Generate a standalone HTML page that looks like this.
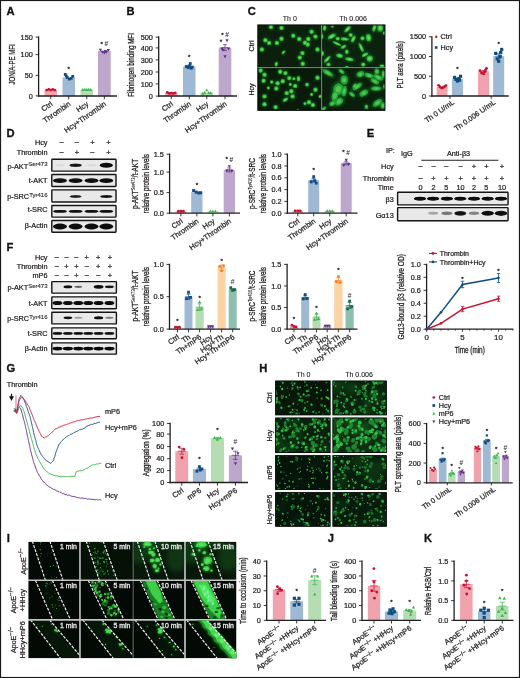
<!DOCTYPE html>
<html lang="en"><head><meta charset="utf-8"><title>Figure</title>
<style>
html,body{margin:0;padding:0;background:#fff;}
body{width:520px;height:678px;overflow:hidden;}
svg{display:block;font-family:"Liberation Sans",sans-serif;}
</style></head><body>
<svg width="520" height="678" viewBox="0 0 520 678">
<defs>
<filter id="b1" x="-20%" y="-50%" width="140%" height="200%"><feGaussianBlur stdDeviation="0.7"/></filter>
<filter id="b05" x="-20%" y="-20%" width="140%" height="140%"><feGaussianBlur stdDeviation="0.45"/></filter>
<filter id="b2" x="-20%" y="-20%" width="140%" height="140%"><feGaussianBlur stdDeviation="1.2"/></filter>
<filter id="b3" x="-20%" y="-20%" width="140%" height="140%"><feGaussianBlur stdDeviation="2.5"/></filter>
</defs>
<rect x="0" y="0" width="520" height="678" fill="#ffffff"/>

<text transform="translate(6.40,15.10)" font-size="11.2" text-anchor="start" font-weight="bold" fill="#111" stroke="#111" stroke-width="0.3" >A</text>
<text transform="translate(126.40,15.10)" font-size="11.2" text-anchor="start" font-weight="bold" fill="#111" stroke="#111" stroke-width="0.3" >B</text>
<text transform="translate(247.70,15.10)" font-size="11.2" text-anchor="start" font-weight="bold" fill="#111" stroke="#111" stroke-width="0.3" >C</text>
<text transform="translate(6.40,137.10)" font-size="11.2" text-anchor="start" font-weight="bold" fill="#111" stroke="#111" stroke-width="0.3" >D</text>
<text transform="translate(366.70,137.10)" font-size="11.2" text-anchor="start" font-weight="bold" fill="#111" stroke="#111" stroke-width="0.3" >E</text>
<text transform="translate(6.40,250.90)" font-size="11.2" text-anchor="start" font-weight="bold" fill="#111" stroke="#111" stroke-width="0.3" >F</text>
<text transform="translate(6.40,371.70)" font-size="11.2" text-anchor="start" font-weight="bold" fill="#111" stroke="#111" stroke-width="0.3" >G</text>
<text transform="translate(259.20,372.20)" font-size="11.2" text-anchor="start" font-weight="bold" fill="#111" stroke="#111" stroke-width="0.3" >H</text>
<text transform="translate(6.80,541.80)" font-size="11.2" text-anchor="start" font-weight="bold" fill="#111" stroke="#111" stroke-width="0.3" >I</text>
<text transform="translate(327.70,541.90)" font-size="11.2" text-anchor="start" font-weight="bold" fill="#111" stroke="#111" stroke-width="0.3" >J</text>
<text transform="translate(424.00,541.90)" font-size="11.2" text-anchor="start" font-weight="bold" fill="#111" stroke="#111" stroke-width="0.3" >K</text>
<rect x="44.50" y="89.71" width="12.50" height="6.29" fill="#f0a3ad" />
<rect x="62.50" y="77.51" width="12.50" height="18.49" fill="#9fb9d4" />
<rect x="80.50" y="89.71" width="12.50" height="6.29" fill="#b5ddb3" />
<rect x="98.00" y="51.16" width="12.70" height="44.84" fill="#bda7cc" />
<line x1="38.60" y1="36.35" x2="38.60" y2="96.65" stroke="#231f20" stroke-width="1.3" />
<line x1="37.95" y1="96.00" x2="117.00" y2="96.00" stroke="#231f20" stroke-width="1.3" />
<line x1="35.60" y1="37.10" x2="38.60" y2="37.10" stroke="#231f20" stroke-width="0.9" />
<text transform="translate(32.80,39.73)" font-size="7.3" text-anchor="end" font-weight="normal" fill="#231f20" stroke="#231f20" stroke-width="0.24" >150</text>
<line x1="35.60" y1="54.60" x2="38.60" y2="54.60" stroke="#231f20" stroke-width="0.9" />
<text transform="translate(32.80,57.23)" font-size="7.3" text-anchor="end" font-weight="normal" fill="#231f20" stroke="#231f20" stroke-width="0.24" >100</text>
<line x1="35.60" y1="75.40" x2="38.60" y2="75.40" stroke="#231f20" stroke-width="0.9" />
<text transform="translate(32.80,78.03)" font-size="7.3" text-anchor="end" font-weight="normal" fill="#231f20" stroke="#231f20" stroke-width="0.24" >50</text>
<line x1="35.60" y1="95.90" x2="38.60" y2="95.90" stroke="#231f20" stroke-width="0.9" />
<text transform="translate(32.80,98.53)" font-size="7.3" text-anchor="end" font-weight="normal" fill="#231f20" stroke="#231f20" stroke-width="0.24" >0</text>
<line x1="50.75" y1="96.00" x2="50.75" y2="99.20" stroke="#231f20" stroke-width="0.9" />
<circle cx="46.75" cy="90.10" r="1.4" fill="#c8102e"/>
<circle cx="48.75" cy="89.31" r="1.4" fill="#c8102e"/>
<circle cx="50.75" cy="90.10" r="1.4" fill="#c8102e"/>
<circle cx="52.75" cy="89.31" r="1.4" fill="#c8102e"/>
<circle cx="54.75" cy="90.10" r="1.4" fill="#c8102e"/>
<line x1="68.75" y1="96.00" x2="68.75" y2="99.20" stroke="#231f20" stroke-width="0.9" />
<rect x="63.85" y="72.97" width="2.8" height="2.8" fill="#0f4c81"/>
<rect x="65.85" y="76.11" width="2.8" height="2.8" fill="#0f4c81"/>
<rect x="67.85" y="77.69" width="2.8" height="2.8" fill="#0f4c81"/>
<rect x="69.85" y="76.90" width="2.8" height="2.8" fill="#0f4c81"/>
<rect x="71.35" y="74.93" width="2.8" height="2.8" fill="#0f4c81"/>
<rect x="64.85" y="74.54" width="2.8" height="2.8" fill="#0f4c81"/>
<text transform="translate(68.75,71.25)" font-size="6.2" text-anchor="middle" font-weight="normal" fill="#2a2a2a" stroke="#2a2a2a" stroke-width="0.3" >*</text>
<line x1="86.75" y1="96.00" x2="86.75" y2="99.20" stroke="#231f20" stroke-width="0.9" />
<polygon points="82.75,88.03 81.14,90.97 84.36,90.97" fill="#3bb54a"/>
<polygon points="84.75,87.63 83.14,90.57 86.36,90.57" fill="#3bb54a"/>
<polygon points="86.75,88.03 85.14,90.97 88.36,90.97" fill="#3bb54a"/>
<polygon points="88.75,87.63 87.14,90.57 90.36,90.57" fill="#3bb54a"/>
<polygon points="90.75,88.03 89.14,90.97 92.36,90.97" fill="#3bb54a"/>
<line x1="104.35" y1="96.00" x2="104.35" y2="99.20" stroke="#231f20" stroke-width="0.9" />
<polygon points="100.35,51.66 98.74,48.72 101.96,48.72" fill="#5c2d82"/>
<polygon points="102.35,53.63 100.74,50.69 103.96,50.69" fill="#5c2d82"/>
<polygon points="104.35,54.41 102.74,51.47 105.96,51.47" fill="#5c2d82"/>
<polygon points="106.35,53.63 104.74,50.69 107.96,50.69" fill="#5c2d82"/>
<polygon points="108.35,52.05 106.74,49.11 109.96,49.11" fill="#5c2d82"/>
<polygon points="105.35,52.84 103.74,49.90 106.96,49.90" fill="#5c2d82"/>
<text transform="translate(104.35,44.88)" font-size="7.0" text-anchor="middle" font-weight="normal" fill="#2a2a2a" stroke="#2a2a2a" stroke-width="0.05" ><tspan dy="1.2" font-size="6.2" stroke-width="0.3">*</tspan><tspan dy="0.2" dx="1.6" font-size="6.6">#</tspan></text>
<text transform="translate(53.15,105.10) rotate(-35)" font-size="7.5" text-anchor="end" font-weight="normal" fill="#231f20" stroke="#231f20" stroke-width="0.24" >Ctrl</text>
<text transform="translate(71.15,105.10) rotate(-35)" font-size="7.5" text-anchor="end" font-weight="normal" fill="#231f20" stroke="#231f20" stroke-width="0.24" >Thrombin</text>
<text transform="translate(89.15,105.10) rotate(-35)" font-size="7.5" text-anchor="end" font-weight="normal" fill="#231f20" stroke="#231f20" stroke-width="0.24" >Hcy</text>
<text transform="translate(106.75,105.10) rotate(-35)" font-size="7.5" text-anchor="end" font-weight="normal" fill="#231f20" stroke="#231f20" stroke-width="0.24" >Hcy+Thrombin</text>
<text transform="translate(14.50,64.40) rotate(-90) scale(0.719,1)" font-size="8.5" text-anchor="middle" font-weight="normal" fill="#231f20" stroke="#231f20" stroke-width="0.3" >JON/A-PE MFI</text>
<rect x="165.00" y="93.05" width="12.50" height="2.95" fill="#f0a3ad" />
<rect x="183.00" y="66.50" width="12.50" height="29.50" fill="#9fb9d4" />
<rect x="200.50" y="92.70" width="12.50" height="3.30" fill="#b5ddb3" />
<rect x="218.70" y="47.62" width="12.60" height="48.38" fill="#bda7cc" />
<line x1="158.70" y1="36.35" x2="158.70" y2="96.65" stroke="#231f20" stroke-width="1.3" />
<line x1="158.05" y1="96.00" x2="237.00" y2="96.00" stroke="#231f20" stroke-width="1.3" />
<line x1="155.70" y1="37.20" x2="158.70" y2="37.20" stroke="#231f20" stroke-width="0.9" />
<text transform="translate(152.90,39.83)" font-size="7.3" text-anchor="end" font-weight="normal" fill="#231f20" stroke="#231f20" stroke-width="0.24" >500</text>
<line x1="155.70" y1="47.90" x2="158.70" y2="47.90" stroke="#231f20" stroke-width="0.9" />
<text transform="translate(152.90,50.53)" font-size="7.3" text-anchor="end" font-weight="normal" fill="#231f20" stroke="#231f20" stroke-width="0.24" >400</text>
<line x1="155.70" y1="59.90" x2="158.70" y2="59.90" stroke="#231f20" stroke-width="0.9" />
<text transform="translate(152.90,62.53)" font-size="7.3" text-anchor="end" font-weight="normal" fill="#231f20" stroke="#231f20" stroke-width="0.24" >300</text>
<line x1="155.70" y1="72.00" x2="158.70" y2="72.00" stroke="#231f20" stroke-width="0.9" />
<text transform="translate(152.90,74.63)" font-size="7.3" text-anchor="end" font-weight="normal" fill="#231f20" stroke="#231f20" stroke-width="0.24" >200</text>
<line x1="155.70" y1="83.90" x2="158.70" y2="83.90" stroke="#231f20" stroke-width="0.9" />
<text transform="translate(152.90,86.53)" font-size="7.3" text-anchor="end" font-weight="normal" fill="#231f20" stroke="#231f20" stroke-width="0.24" >100</text>
<line x1="155.70" y1="96.10" x2="158.70" y2="96.10" stroke="#231f20" stroke-width="0.9" />
<text transform="translate(152.90,98.73)" font-size="7.3" text-anchor="end" font-weight="normal" fill="#231f20" stroke="#231f20" stroke-width="0.24" >0</text>
<line x1="171.25" y1="96.00" x2="171.25" y2="99.20" stroke="#231f20" stroke-width="0.9" />
<circle cx="167.25" cy="92.46" r="1.4" fill="#c8102e"/>
<circle cx="169.25" cy="93.40" r="1.4" fill="#c8102e"/>
<circle cx="171.25" cy="93.17" r="1.4" fill="#c8102e"/>
<circle cx="173.25" cy="93.40" r="1.4" fill="#c8102e"/>
<circle cx="175.25" cy="92.93" r="1.4" fill="#c8102e"/>
<line x1="189.25" y1="96.00" x2="189.25" y2="99.20" stroke="#231f20" stroke-width="0.9" />
<line x1="189.25" y1="65.32" x2="189.25" y2="67.68" stroke="#0f4c81" stroke-width="0.7" />
<line x1="187.25" y1="65.32" x2="191.25" y2="65.32" stroke="#0f4c81" stroke-width="0.7" />
<line x1="187.25" y1="67.68" x2="191.25" y2="67.68" stroke="#0f4c81" stroke-width="0.7" />
<line x1="186.05" y1="66.50" x2="192.45" y2="66.50" stroke="#0f4c81" stroke-width="0.7" />
<rect x="184.85" y="65.10" width="2.8" height="2.8" fill="#0f4c81"/>
<rect x="186.85" y="66.28" width="2.8" height="2.8" fill="#0f4c81"/>
<rect x="188.85" y="62.15" width="2.8" height="2.8" fill="#0f4c81"/>
<rect x="190.85" y="65.69" width="2.8" height="2.8" fill="#0f4c81"/>
<rect x="187.85" y="64.51" width="2.8" height="2.8" fill="#0f4c81"/>
<rect x="189.85" y="66.87" width="2.8" height="2.8" fill="#0f4c81"/>
<text transform="translate(189.25,59.06)" font-size="6.2" text-anchor="middle" font-weight="normal" fill="#2a2a2a" stroke="#2a2a2a" stroke-width="0.3" >*</text>
<line x1="206.75" y1="96.00" x2="206.75" y2="99.20" stroke="#231f20" stroke-width="0.9" />
<polygon points="202.75,91.72 201.14,94.66 204.36,94.66" fill="#3bb54a"/>
<polygon points="204.75,90.78 203.14,93.72 206.36,93.72" fill="#3bb54a"/>
<polygon points="206.75,88.42 205.14,91.36 208.36,91.36" fill="#3bb54a"/>
<polygon points="208.75,91.02 207.14,93.96 210.36,93.96" fill="#3bb54a"/>
<polygon points="210.75,91.25 209.14,94.19 212.36,94.19" fill="#3bb54a"/>
<line x1="225.00" y1="96.00" x2="225.00" y2="99.20" stroke="#231f20" stroke-width="0.9" />
<line x1="225.00" y1="44.67" x2="225.00" y2="50.57" stroke="#5c2d82" stroke-width="0.7" />
<line x1="223.00" y1="44.67" x2="227.00" y2="44.67" stroke="#5c2d82" stroke-width="0.7" />
<line x1="223.00" y1="50.57" x2="227.00" y2="50.57" stroke="#5c2d82" stroke-width="0.7" />
<line x1="221.80" y1="47.62" x2="228.20" y2="47.62" stroke="#5c2d82" stroke-width="0.7" />
<polygon points="221.00,42.81 219.39,39.87 222.61,39.87" fill="#5c2d82"/>
<polygon points="223.00,51.66 221.39,48.72 224.61,48.72" fill="#5c2d82"/>
<polygon points="225.00,58.15 223.39,55.21 226.61,55.21" fill="#5c2d82"/>
<polygon points="227.00,42.22 225.39,39.28 228.61,39.28" fill="#5c2d82"/>
<polygon points="228.50,50.48 226.89,47.54 230.11,47.54" fill="#5c2d82"/>
<polygon points="222.00,50.48 220.39,47.54 223.61,47.54" fill="#5c2d82"/>
<text transform="translate(225.00,35.44)" font-size="7.0" text-anchor="middle" font-weight="normal" fill="#2a2a2a" stroke="#2a2a2a" stroke-width="0.05" ><tspan dy="1.2" font-size="6.2" stroke-width="0.3">*</tspan><tspan dy="0.2" dx="1.6" font-size="6.6">#</tspan></text>
<text transform="translate(173.65,105.10) rotate(-35)" font-size="7.5" text-anchor="end" font-weight="normal" fill="#231f20" stroke="#231f20" stroke-width="0.24" >Ctrl</text>
<text transform="translate(191.65,105.10) rotate(-35)" font-size="7.5" text-anchor="end" font-weight="normal" fill="#231f20" stroke="#231f20" stroke-width="0.24" >Thrombin</text>
<text transform="translate(209.15,105.10) rotate(-35)" font-size="7.5" text-anchor="end" font-weight="normal" fill="#231f20" stroke="#231f20" stroke-width="0.24" >Hcy</text>
<text transform="translate(227.40,105.10) rotate(-35)" font-size="7.5" text-anchor="end" font-weight="normal" fill="#231f20" stroke="#231f20" stroke-width="0.24" >Hcy+Thrombin</text>
<text transform="translate(133.80,64.95) rotate(-90) scale(0.735,1)" font-size="8.5" text-anchor="middle" font-weight="normal" fill="#231f20" stroke="#231f20" stroke-width="0.3" >Fibrinogen binding MFI</text>
<rect x="436.70" y="86.73" width="10.80" height="9.27" fill="#f0a3ad" />
<rect x="452.00" y="79.03" width="11.00" height="16.97" fill="#9fb9d4" />
<rect x="478.00" y="71.53" width="11.00" height="24.47" fill="#f0a3ad" />
<rect x="493.20" y="56.14" width="11.00" height="39.86" fill="#9fb9d4" />
<line x1="431.90" y1="36.15" x2="431.90" y2="96.65" stroke="#231f20" stroke-width="1.3" />
<line x1="431.25" y1="96.00" x2="508.70" y2="96.00" stroke="#231f20" stroke-width="1.3" />
<line x1="428.90" y1="36.80" x2="431.90" y2="36.80" stroke="#231f20" stroke-width="0.9" />
<text transform="translate(426.10,39.43)" font-size="7.3" text-anchor="end" font-weight="normal" fill="#231f20" stroke="#231f20" stroke-width="0.24" >1500</text>
<line x1="428.90" y1="56.53" x2="431.90" y2="56.53" stroke="#231f20" stroke-width="0.9" />
<text transform="translate(426.10,59.16)" font-size="7.3" text-anchor="end" font-weight="normal" fill="#231f20" stroke="#231f20" stroke-width="0.24" >1000</text>
<line x1="428.90" y1="76.27" x2="431.90" y2="76.27" stroke="#231f20" stroke-width="0.9" />
<text transform="translate(426.10,78.89)" font-size="7.3" text-anchor="end" font-weight="normal" fill="#231f20" stroke="#231f20" stroke-width="0.24" >500</text>
<line x1="428.90" y1="96.00" x2="431.90" y2="96.00" stroke="#231f20" stroke-width="0.9" />
<text transform="translate(426.10,98.63)" font-size="7.3" text-anchor="end" font-weight="normal" fill="#231f20" stroke="#231f20" stroke-width="0.24" >0</text>
<circle cx="438.60" cy="85.34" r="1.4" fill="#c8102e"/>
<circle cx="440.10" cy="86.92" r="1.4" fill="#c8102e"/>
<circle cx="441.60" cy="88.11" r="1.4" fill="#c8102e"/>
<circle cx="443.10" cy="87.51" r="1.4" fill="#c8102e"/>
<circle cx="444.60" cy="86.53" r="1.4" fill="#c8102e"/>
<circle cx="445.90" cy="85.54" r="1.4" fill="#c8102e"/>
<line x1="457.50" y1="78.04" x2="457.50" y2="80.02" stroke="#0f4c81" stroke-width="0.7" />
<line x1="455.50" y1="78.04" x2="459.50" y2="78.04" stroke="#0f4c81" stroke-width="0.7" />
<line x1="455.50" y1="80.02" x2="459.50" y2="80.02" stroke="#0f4c81" stroke-width="0.7" />
<line x1="454.30" y1="79.03" x2="460.70" y2="79.03" stroke="#0f4c81" stroke-width="0.7" />
<rect x="452.90" y="75.85" width="3.2" height="3.2" fill="#0f4c81"/>
<rect x="454.40" y="77.82" width="3.2" height="3.2" fill="#0f4c81"/>
<rect x="455.90" y="79.40" width="3.2" height="3.2" fill="#0f4c81"/>
<rect x="457.40" y="77.03" width="3.2" height="3.2" fill="#0f4c81"/>
<rect x="458.90" y="74.67" width="3.2" height="3.2" fill="#0f4c81"/>
<rect x="457.90" y="78.61" width="3.2" height="3.2" fill="#0f4c81"/>
<text transform="translate(457.50,71.16)" font-size="6.2" text-anchor="middle" font-weight="normal" fill="#2a2a2a" stroke="#2a2a2a" stroke-width="0.3" >*</text>
<line x1="483.50" y1="70.54" x2="483.50" y2="72.52" stroke="#c8102e" stroke-width="0.7" />
<line x1="481.50" y1="70.54" x2="485.50" y2="70.54" stroke="#c8102e" stroke-width="0.7" />
<line x1="481.50" y1="72.52" x2="485.50" y2="72.52" stroke="#c8102e" stroke-width="0.7" />
<line x1="480.30" y1="71.53" x2="486.70" y2="71.53" stroke="#c8102e" stroke-width="0.7" />
<circle cx="480.00" cy="70.74" r="1.4" fill="#c8102e"/>
<circle cx="481.50" cy="73.11" r="1.4" fill="#c8102e"/>
<circle cx="483.50" cy="73.90" r="1.4" fill="#c8102e"/>
<circle cx="485.00" cy="71.53" r="1.4" fill="#c8102e"/>
<circle cx="486.50" cy="68.37" r="1.4" fill="#c8102e"/>
<circle cx="485.50" cy="69.95" r="1.4" fill="#c8102e"/>
<line x1="498.70" y1="53.77" x2="498.70" y2="58.51" stroke="#0f4c81" stroke-width="0.7" />
<line x1="496.70" y1="53.77" x2="500.70" y2="53.77" stroke="#0f4c81" stroke-width="0.7" />
<line x1="496.70" y1="58.51" x2="500.70" y2="58.51" stroke="#0f4c81" stroke-width="0.7" />
<line x1="495.50" y1="56.14" x2="501.90" y2="56.14" stroke="#0f4c81" stroke-width="0.7" />
<rect x="494.10" y="51.78" width="3.2" height="3.2" fill="#0f4c81"/>
<rect x="495.60" y="57.30" width="3.2" height="3.2" fill="#0f4c81"/>
<rect x="497.10" y="59.67" width="3.2" height="3.2" fill="#0f4c81"/>
<rect x="498.60" y="54.93" width="3.2" height="3.2" fill="#0f4c81"/>
<rect x="500.10" y="47.83" width="3.2" height="3.2" fill="#0f4c81"/>
<rect x="499.10" y="50.99" width="3.2" height="3.2" fill="#0f4c81"/>
<text transform="translate(498.70,45.51)" font-size="6.2" text-anchor="middle" font-weight="normal" fill="#2a2a2a" stroke="#2a2a2a" stroke-width="0.3" >*</text>
<line x1="450.00" y1="96.00" x2="450.00" y2="98.80" stroke="#231f20" stroke-width="0.9" />
<line x1="491.20" y1="96.00" x2="491.20" y2="98.80" stroke="#231f20" stroke-width="0.9" />
<text transform="translate(402.60,64.80) rotate(-90) scale(0.741,1)" font-size="8.5" text-anchor="middle" font-weight="normal" fill="#231f20" stroke="#231f20" stroke-width="0.3" >PLT aera (pixels)</text>
<text transform="translate(454.80,103.50) rotate(-35)" font-size="7.3" text-anchor="end" font-weight="normal" fill="#231f20" stroke="#231f20" stroke-width="0.24" >Th 0 U/mL</text>
<text transform="translate(496.00,103.50) rotate(-35)" font-size="7.3" text-anchor="end" font-weight="normal" fill="#231f20" stroke="#231f20" stroke-width="0.24" >Th 0.006 U/mL</text>
<circle cx="436.20" cy="36.80" r="1.2" fill="#c8102e"/>
<text transform="translate(440.60,39.20)" font-size="7.2" text-anchor="start" font-weight="normal" fill="#231f20" stroke="#231f20" stroke-width="0.24" >Ctrl</text>
<rect x="434.90" y="46.20" width="2.6" height="2.6" fill="#0f4c81"/>
<text transform="translate(440.60,49.90)" font-size="7.2" text-anchor="start" font-weight="normal" fill="#231f20" stroke="#231f20" stroke-width="0.24" >Hcy</text>
<rect x="175.50" y="211.43" width="10.80" height="1.77" fill="#f0a3ad" />
<rect x="191.20" y="192.16" width="11.30" height="21.04" fill="#9fb9d4" />
<rect x="207.50" y="211.43" width="10.80" height="1.77" fill="#b5ddb3" />
<rect x="223.70" y="169.93" width="11.30" height="43.27" fill="#bda7cc" />
<line x1="169.60" y1="153.55" x2="169.60" y2="213.85" stroke="#231f20" stroke-width="1.3" />
<line x1="168.95" y1="213.20" x2="240.00" y2="213.20" stroke="#231f20" stroke-width="1.3" />
<line x1="166.60" y1="154.20" x2="169.60" y2="154.20" stroke="#231f20" stroke-width="0.9" />
<text transform="translate(163.80,156.83)" font-size="7.3" text-anchor="end" font-weight="normal" fill="#231f20" stroke="#231f20" stroke-width="0.24" >1.5</text>
<line x1="166.60" y1="172.10" x2="169.60" y2="172.10" stroke="#231f20" stroke-width="0.9" />
<text transform="translate(163.80,174.73)" font-size="7.3" text-anchor="end" font-weight="normal" fill="#231f20" stroke="#231f20" stroke-width="0.24" >1.0</text>
<line x1="166.60" y1="192.60" x2="169.60" y2="192.60" stroke="#231f20" stroke-width="0.9" />
<text transform="translate(163.80,195.23)" font-size="7.3" text-anchor="end" font-weight="normal" fill="#231f20" stroke="#231f20" stroke-width="0.24" >0.5</text>
<line x1="166.60" y1="213.20" x2="169.60" y2="213.20" stroke="#231f20" stroke-width="0.9" />
<text transform="translate(163.80,215.83)" font-size="7.3" text-anchor="end" font-weight="normal" fill="#231f20" stroke="#231f20" stroke-width="0.24" >0.0</text>
<line x1="180.90" y1="213.20" x2="180.90" y2="216.40" stroke="#231f20" stroke-width="0.9" />
<circle cx="178.40" cy="211.23" r="1.4" fill="#c8102e"/>
<circle cx="180.90" cy="211.23" r="1.4" fill="#c8102e"/>
<circle cx="183.40" cy="211.23" r="1.4" fill="#c8102e"/>
<line x1="196.85" y1="213.20" x2="196.85" y2="216.40" stroke="#231f20" stroke-width="0.9" />
<rect x="192.15" y="189.08" width="3.0" height="3.0" fill="#0f4c81"/>
<rect x="194.75" y="190.66" width="3.0" height="3.0" fill="#0f4c81"/>
<rect x="197.35" y="191.44" width="3.0" height="3.0" fill="#0f4c81"/>
<rect x="199.15" y="191.25" width="3.0" height="3.0" fill="#0f4c81"/>
<text transform="translate(196.85,186.88)" font-size="6.2" text-anchor="middle" font-weight="normal" fill="#2a2a2a" stroke="#2a2a2a" stroke-width="0.3" >*</text>
<line x1="212.90" y1="213.20" x2="212.90" y2="216.40" stroke="#231f20" stroke-width="0.9" />
<polygon points="210.40,209.55 208.79,212.49 212.01,212.49" fill="#3bb54a"/>
<polygon points="212.90,209.55 211.29,212.49 214.51,212.49" fill="#3bb54a"/>
<polygon points="215.40,209.55 213.79,212.49 217.01,212.49" fill="#3bb54a"/>
<line x1="229.35" y1="213.20" x2="229.35" y2="216.40" stroke="#231f20" stroke-width="0.9" />
<line x1="229.35" y1="167.97" x2="229.35" y2="171.90" stroke="#5c2d82" stroke-width="0.7" />
<line x1="227.35" y1="167.97" x2="231.35" y2="167.97" stroke="#5c2d82" stroke-width="0.7" />
<line x1="227.35" y1="171.90" x2="231.35" y2="171.90" stroke="#5c2d82" stroke-width="0.7" />
<line x1="226.15" y1="169.93" x2="232.55" y2="169.93" stroke="#5c2d82" stroke-width="0.7" />
<polygon points="226.85,172.40 225.24,169.46 228.46,169.46" fill="#5c2d82"/>
<polygon points="229.35,168.07 227.74,165.13 230.96,165.13" fill="#5c2d82"/>
<polygon points="231.85,172.79 230.24,169.85 233.46,169.85" fill="#5c2d82"/>
<text transform="translate(229.35,160.11)" font-size="7.0" text-anchor="middle" font-weight="normal" fill="#2a2a2a" stroke="#2a2a2a" stroke-width="0.05" ><tspan dy="1.2" font-size="6.2" stroke-width="0.3">*</tspan><tspan dy="0.2" dx="1.6" font-size="6.6">#</tspan></text>
<text transform="translate(183.30,222.30) rotate(-35)" font-size="7.5" text-anchor="end" font-weight="normal" fill="#231f20" stroke="#231f20" stroke-width="0.24" >Ctrl</text>
<text transform="translate(199.25,222.30) rotate(-35)" font-size="7.5" text-anchor="end" font-weight="normal" fill="#231f20" stroke="#231f20" stroke-width="0.24" >Thrombin</text>
<text transform="translate(215.30,222.30) rotate(-35)" font-size="7.5" text-anchor="end" font-weight="normal" fill="#231f20" stroke="#231f20" stroke-width="0.24" >Hcy</text>
<text transform="translate(231.75,222.30) rotate(-35)" font-size="7.5" text-anchor="end" font-weight="normal" fill="#231f20" stroke="#231f20" stroke-width="0.24" >Hcy+Thrombin</text>
<text transform="translate(138.30,183.95) rotate(-90) scale(0.772,1)" font-size="8.5" text-anchor="middle" font-weight="normal" fill="#231f20" stroke="#231f20" stroke-width="0.3" >p-AKT<tspan font-size="5.3" dy="-3.1" stroke-width="0.12">Ser473</tspan><tspan dy="3.1">/t-AKT</tspan></text>
<text transform="translate(149.20,183.60) rotate(-90) scale(0.741,1)" font-size="8.5" text-anchor="middle" font-weight="normal" fill="#231f20" stroke="#231f20" stroke-width="0.3" >relative protein levels</text>
<rect x="292.50" y="210.84" width="10.50" height="2.36" fill="#f0a3ad" />
<rect x="308.20" y="180.16" width="11.00" height="33.04" fill="#9fb9d4" />
<rect x="324.50" y="210.84" width="10.50" height="2.36" fill="#b5ddb3" />
<rect x="340.70" y="163.05" width="11.00" height="50.15" fill="#bda7cc" />
<line x1="287.40" y1="153.55" x2="287.40" y2="213.85" stroke="#231f20" stroke-width="1.3" />
<line x1="286.75" y1="213.20" x2="357.50" y2="213.20" stroke="#231f20" stroke-width="1.3" />
<line x1="284.40" y1="154.20" x2="287.40" y2="154.20" stroke="#231f20" stroke-width="0.9" />
<text transform="translate(281.60,156.83)" font-size="7.3" text-anchor="end" font-weight="normal" fill="#231f20" stroke="#231f20" stroke-width="0.24" >1.0</text>
<line x1="284.40" y1="166.00" x2="287.40" y2="166.00" stroke="#231f20" stroke-width="0.9" />
<text transform="translate(281.60,168.63)" font-size="7.3" text-anchor="end" font-weight="normal" fill="#231f20" stroke="#231f20" stroke-width="0.24" >0.8</text>
<line x1="284.40" y1="177.80" x2="287.40" y2="177.80" stroke="#231f20" stroke-width="0.9" />
<text transform="translate(281.60,180.43)" font-size="7.3" text-anchor="end" font-weight="normal" fill="#231f20" stroke="#231f20" stroke-width="0.24" >0.6</text>
<line x1="284.40" y1="189.60" x2="287.40" y2="189.60" stroke="#231f20" stroke-width="0.9" />
<text transform="translate(281.60,192.23)" font-size="7.3" text-anchor="end" font-weight="normal" fill="#231f20" stroke="#231f20" stroke-width="0.24" >0.4</text>
<line x1="284.40" y1="201.40" x2="287.40" y2="201.40" stroke="#231f20" stroke-width="0.9" />
<text transform="translate(281.60,204.03)" font-size="7.3" text-anchor="end" font-weight="normal" fill="#231f20" stroke="#231f20" stroke-width="0.24" >0.2</text>
<line x1="284.40" y1="213.20" x2="287.40" y2="213.20" stroke="#231f20" stroke-width="0.9" />
<text transform="translate(281.60,215.83)" font-size="7.3" text-anchor="end" font-weight="normal" fill="#231f20" stroke="#231f20" stroke-width="0.24" >0.0</text>
<line x1="297.75" y1="213.20" x2="297.75" y2="216.40" stroke="#231f20" stroke-width="0.9" />
<circle cx="295.25" cy="210.84" r="1.4" fill="#c8102e"/>
<circle cx="297.75" cy="210.84" r="1.4" fill="#c8102e"/>
<circle cx="300.25" cy="210.84" r="1.4" fill="#c8102e"/>
<line x1="313.70" y1="213.20" x2="313.70" y2="216.40" stroke="#231f20" stroke-width="0.9" />
<line x1="313.70" y1="178.39" x2="313.70" y2="181.93" stroke="#0f4c81" stroke-width="0.7" />
<line x1="311.70" y1="178.39" x2="315.70" y2="178.39" stroke="#0f4c81" stroke-width="0.7" />
<line x1="311.70" y1="181.93" x2="315.70" y2="181.93" stroke="#0f4c81" stroke-width="0.7" />
<line x1="310.50" y1="180.16" x2="316.90" y2="180.16" stroke="#0f4c81" stroke-width="0.7" />
<rect x="309.80" y="180.53" width="2.8" height="2.8" fill="#0f4c81"/>
<rect x="312.30" y="175.22" width="2.8" height="2.8" fill="#0f4c81"/>
<rect x="314.80" y="181.71" width="2.8" height="2.8" fill="#0f4c81"/>
<rect x="313.30" y="179.35" width="2.8" height="2.8" fill="#0f4c81"/>
<text transform="translate(313.70,171.54)" font-size="6.2" text-anchor="middle" font-weight="normal" fill="#2a2a2a" stroke="#2a2a2a" stroke-width="0.3" >*</text>
<line x1="329.75" y1="213.20" x2="329.75" y2="216.40" stroke="#231f20" stroke-width="0.9" />
<polygon points="327.25,209.16 325.64,212.10 328.86,212.10" fill="#3bb54a"/>
<polygon points="329.75,209.16 328.14,212.10 331.36,212.10" fill="#3bb54a"/>
<polygon points="332.25,209.16 330.64,212.10 333.86,212.10" fill="#3bb54a"/>
<line x1="346.20" y1="213.20" x2="346.20" y2="216.40" stroke="#231f20" stroke-width="0.9" />
<line x1="346.20" y1="161.28" x2="346.20" y2="164.82" stroke="#5c2d82" stroke-width="0.7" />
<line x1="344.20" y1="161.28" x2="348.20" y2="161.28" stroke="#5c2d82" stroke-width="0.7" />
<line x1="344.20" y1="164.82" x2="348.20" y2="164.82" stroke="#5c2d82" stroke-width="0.7" />
<line x1="343.00" y1="163.05" x2="349.40" y2="163.05" stroke="#5c2d82" stroke-width="0.7" />
<polygon points="343.70,167.09 342.09,164.15 345.31,164.15" fill="#5c2d82"/>
<polygon points="346.20,161.78 344.59,158.84 347.81,158.84" fill="#5c2d82"/>
<polygon points="348.70,165.91 347.09,162.97 350.31,162.97" fill="#5c2d82"/>
<text transform="translate(346.20,153.23)" font-size="7.0" text-anchor="middle" font-weight="normal" fill="#2a2a2a" stroke="#2a2a2a" stroke-width="0.05" ><tspan dy="1.2" font-size="6.2" stroke-width="0.3">*</tspan><tspan dy="0.2" dx="1.6" font-size="6.6">#</tspan></text>
<text transform="translate(300.15,222.30) rotate(-35)" font-size="7.5" text-anchor="end" font-weight="normal" fill="#231f20" stroke="#231f20" stroke-width="0.24" >Ctrl</text>
<text transform="translate(316.10,222.30) rotate(-35)" font-size="7.5" text-anchor="end" font-weight="normal" fill="#231f20" stroke="#231f20" stroke-width="0.24" >Thrombin</text>
<text transform="translate(332.15,222.30) rotate(-35)" font-size="7.5" text-anchor="end" font-weight="normal" fill="#231f20" stroke="#231f20" stroke-width="0.24" >Hcy</text>
<text transform="translate(348.60,222.30) rotate(-35)" font-size="7.5" text-anchor="end" font-weight="normal" fill="#231f20" stroke="#231f20" stroke-width="0.24" >Hcy+Thrombin</text>
<text transform="translate(254.60,183.65) rotate(-90) scale(0.758,1)" font-size="8.5" text-anchor="middle" font-weight="normal" fill="#231f20" stroke="#231f20" stroke-width="0.3" >p-SRC<tspan font-size="5.3" dy="-3.1" stroke-width="0.12">Tyr416</tspan><tspan dy="3.1">/t-SRC</tspan></text>
<text transform="translate(266.20,183.60) rotate(-90) scale(0.741,1)" font-size="8.5" text-anchor="middle" font-weight="normal" fill="#231f20" stroke="#231f20" stroke-width="0.3" >relative protein levels</text>
<rect x="173.70" y="327.16" width="7.60" height="1.94" fill="#f0a3ad" />
<rect x="184.50" y="296.75" width="8.00" height="32.35" fill="#9fb9d4" />
<rect x="195.50" y="307.10" width="8.20" height="22.00" fill="#b5ddb3" />
<rect x="206.70" y="326.51" width="7.80" height="2.59" fill="#bda7cc" />
<rect x="217.50" y="267.63" width="8.20" height="61.47" fill="#fcd3a3" />
<rect x="228.70" y="289.63" width="8.00" height="39.47" fill="#8dbfae" />
<line x1="169.50" y1="263.75" x2="169.50" y2="329.75" stroke="#231f20" stroke-width="1.3" />
<line x1="168.85" y1="329.10" x2="240.00" y2="329.10" stroke="#231f20" stroke-width="1.3" />
<line x1="166.50" y1="264.40" x2="169.50" y2="264.40" stroke="#231f20" stroke-width="0.9" />
<text transform="translate(163.70,267.03)" font-size="7.3" text-anchor="end" font-weight="normal" fill="#231f20" stroke="#231f20" stroke-width="0.24" >1.0</text>
<line x1="166.50" y1="296.70" x2="169.50" y2="296.70" stroke="#231f20" stroke-width="0.9" />
<text transform="translate(163.70,299.33)" font-size="7.3" text-anchor="end" font-weight="normal" fill="#231f20" stroke="#231f20" stroke-width="0.24" >0.5</text>
<line x1="166.50" y1="329.10" x2="169.50" y2="329.10" stroke="#231f20" stroke-width="0.9" />
<text transform="translate(163.70,331.73)" font-size="7.3" text-anchor="end" font-weight="normal" fill="#231f20" stroke="#231f20" stroke-width="0.24" >0.0</text>
<line x1="177.50" y1="329.10" x2="177.50" y2="332.30" stroke="#231f20" stroke-width="0.9" />
<circle cx="175.50" cy="327.16" r="1.4" fill="#c8102e"/>
<circle cx="177.50" cy="327.16" r="1.4" fill="#c8102e"/>
<circle cx="179.50" cy="327.16" r="1.4" fill="#c8102e"/>
<text transform="translate(177.50,323.34)" font-size="6.2" text-anchor="middle" font-weight="normal" fill="#2a2a2a" stroke="#2a2a2a" stroke-width="0.3" >*</text>
<line x1="188.50" y1="329.10" x2="188.50" y2="332.30" stroke="#231f20" stroke-width="0.9" />
<line x1="188.50" y1="294.16" x2="188.50" y2="299.34" stroke="#0f4c81" stroke-width="0.7" />
<line x1="186.50" y1="294.16" x2="190.50" y2="294.16" stroke="#0f4c81" stroke-width="0.7" />
<line x1="186.50" y1="299.34" x2="190.50" y2="299.34" stroke="#0f4c81" stroke-width="0.7" />
<line x1="185.30" y1="296.75" x2="191.70" y2="296.75" stroke="#0f4c81" stroke-width="0.7" />
<rect x="185.10" y="297.29" width="2.8" height="2.8" fill="#0f4c81"/>
<rect x="187.10" y="290.82" width="2.8" height="2.8" fill="#0f4c81"/>
<rect x="189.10" y="296.00" width="2.8" height="2.8" fill="#0f4c81"/>
<line x1="199.60" y1="329.10" x2="199.60" y2="332.30" stroke="#231f20" stroke-width="0.9" />
<line x1="199.60" y1="303.87" x2="199.60" y2="310.34" stroke="#3bb54a" stroke-width="0.7" />
<line x1="197.60" y1="303.87" x2="201.60" y2="303.87" stroke="#3bb54a" stroke-width="0.7" />
<line x1="197.60" y1="310.34" x2="201.60" y2="310.34" stroke="#3bb54a" stroke-width="0.7" />
<line x1="196.40" y1="307.10" x2="202.80" y2="307.10" stroke="#3bb54a" stroke-width="0.7" />
<polygon points="197.60,308.01 195.99,310.95 199.21,310.95" fill="#3bb54a"/>
<polygon points="199.60,300.25 197.99,303.19 201.21,303.19" fill="#3bb54a"/>
<polygon points="201.60,306.72 199.99,309.66 203.21,309.66" fill="#3bb54a"/>
<text transform="translate(199.60,300.04)" font-size="6.2" text-anchor="middle" font-weight="normal" fill="#2a2a2a" stroke="#2a2a2a" stroke-width="0.3" >*</text>
<line x1="210.60" y1="329.10" x2="210.60" y2="332.30" stroke="#231f20" stroke-width="0.9" />
<polygon points="208.60,328.19 206.99,325.25 210.21,325.25" fill="#5c2d82"/>
<polygon points="210.60,328.19 208.99,325.25 212.21,325.25" fill="#5c2d82"/>
<polygon points="212.60,328.19 210.99,325.25 214.21,325.25" fill="#5c2d82"/>
<line x1="221.60" y1="329.10" x2="221.60" y2="332.30" stroke="#231f20" stroke-width="0.9" />
<line x1="221.60" y1="265.05" x2="221.60" y2="270.22" stroke="#f58220" stroke-width="0.7" />
<line x1="219.60" y1="265.05" x2="223.60" y2="265.05" stroke="#f58220" stroke-width="0.7" />
<line x1="219.60" y1="270.22" x2="223.60" y2="270.22" stroke="#f58220" stroke-width="0.7" />
<line x1="218.40" y1="267.63" x2="224.80" y2="267.63" stroke="#f58220" stroke-width="0.7" />
<circle cx="219.60" cy="266.34" r="1.4" fill="#f58220"/>
<circle cx="221.60" cy="270.87" r="1.4" fill="#f58220"/>
<circle cx="223.60" cy="265.69" r="1.4" fill="#f58220"/>
<text transform="translate(221.60,262.52)" font-size="6.2" text-anchor="middle" font-weight="normal" fill="#2a2a2a" stroke="#2a2a2a" stroke-width="0.3" >*</text>
<line x1="232.70" y1="329.10" x2="232.70" y2="332.30" stroke="#231f20" stroke-width="0.9" />
<line x1="232.70" y1="288.34" x2="232.70" y2="290.93" stroke="#1c6b4f" stroke-width="0.7" />
<line x1="230.70" y1="288.34" x2="234.70" y2="288.34" stroke="#1c6b4f" stroke-width="0.7" />
<line x1="230.70" y1="290.93" x2="234.70" y2="290.93" stroke="#1c6b4f" stroke-width="0.7" />
<line x1="229.50" y1="289.63" x2="235.90" y2="289.63" stroke="#1c6b4f" stroke-width="0.7" />
<rect x="229.30" y="286.29" width="2.8" height="2.8" fill="#1c6b4f"/>
<rect x="231.30" y="288.88" width="2.8" height="2.8" fill="#1c6b4f"/>
<rect x="233.30" y="288.23" width="2.8" height="2.8" fill="#1c6b4f"/>
<text transform="translate(232.70,283.67)" font-size="6.6" text-anchor="middle" font-weight="normal" fill="#333" stroke="#333" stroke-width="0.05" >#</text>
<text transform="translate(179.90,338.20) rotate(-35)" font-size="7.6" text-anchor="end" font-weight="normal" fill="#231f20" stroke="#231f20" stroke-width="0.24" >Ctrl</text>
<text transform="translate(190.90,338.20) rotate(-35)" font-size="7.6" text-anchor="end" font-weight="normal" fill="#231f20" stroke="#231f20" stroke-width="0.24" >Th</text>
<text transform="translate(202.00,338.20) rotate(-35)" font-size="7.6" text-anchor="end" font-weight="normal" fill="#231f20" stroke="#231f20" stroke-width="0.24" >Th+mP6</text>
<text transform="translate(213.00,338.20) rotate(-35)" font-size="7.6" text-anchor="end" font-weight="normal" fill="#231f20" stroke="#231f20" stroke-width="0.24" >Hcy</text>
<text transform="translate(224.00,338.20) rotate(-35)" font-size="7.6" text-anchor="end" font-weight="normal" fill="#231f20" stroke="#231f20" stroke-width="0.24" >Hcy+Th</text>
<text transform="translate(235.10,338.20) rotate(-35)" font-size="7.6" text-anchor="end" font-weight="normal" fill="#231f20" stroke="#231f20" stroke-width="0.24" >Hcy+Th+mP6</text>
<text transform="translate(138.30,296.00) rotate(-90) scale(0.783,1)" font-size="8.5" text-anchor="middle" font-weight="normal" fill="#231f20" stroke="#231f20" stroke-width="0.3" >p-AKT<tspan font-size="5.3" dy="-3.1" stroke-width="0.12">Ser473</tspan><tspan dy="3.1">/t-AKT</tspan></text>
<text transform="translate(149.20,296.60) rotate(-90) scale(0.741,1)" font-size="8.5" text-anchor="middle" font-weight="normal" fill="#231f20" stroke="#231f20" stroke-width="0.3" >relative protein levels</text>
<rect x="290.00" y="326.51" width="8.00" height="2.59" fill="#f0a3ad" />
<rect x="301.20" y="297.61" width="8.00" height="31.49" fill="#9fb9d4" />
<rect x="312.50" y="317.02" width="8.00" height="12.08" fill="#b5ddb3" />
<rect x="323.20" y="326.08" width="8.00" height="3.02" fill="#bda7cc" />
<rect x="334.20" y="280.36" width="8.30" height="48.74" fill="#fcd3a3" />
<rect x="345.50" y="305.38" width="8.20" height="23.72" fill="#8dbfae" />
<line x1="287.10" y1="263.75" x2="287.10" y2="329.75" stroke="#231f20" stroke-width="1.3" />
<line x1="286.45" y1="329.10" x2="357.50" y2="329.10" stroke="#231f20" stroke-width="1.3" />
<line x1="284.10" y1="264.40" x2="287.10" y2="264.40" stroke="#231f20" stroke-width="0.9" />
<text transform="translate(281.30,267.03)" font-size="7.3" text-anchor="end" font-weight="normal" fill="#231f20" stroke="#231f20" stroke-width="0.24" >1.5</text>
<line x1="284.10" y1="285.97" x2="287.10" y2="285.97" stroke="#231f20" stroke-width="0.9" />
<text transform="translate(281.30,288.59)" font-size="7.3" text-anchor="end" font-weight="normal" fill="#231f20" stroke="#231f20" stroke-width="0.24" >1.0</text>
<line x1="284.10" y1="307.53" x2="287.10" y2="307.53" stroke="#231f20" stroke-width="0.9" />
<text transform="translate(281.30,310.16)" font-size="7.3" text-anchor="end" font-weight="normal" fill="#231f20" stroke="#231f20" stroke-width="0.24" >0.5</text>
<line x1="284.10" y1="329.10" x2="287.10" y2="329.10" stroke="#231f20" stroke-width="0.9" />
<text transform="translate(281.30,331.73)" font-size="7.3" text-anchor="end" font-weight="normal" fill="#231f20" stroke="#231f20" stroke-width="0.24" >0.0</text>
<line x1="294.00" y1="329.10" x2="294.00" y2="332.30" stroke="#231f20" stroke-width="0.9" />
<circle cx="292.00" cy="325.22" r="1.4" fill="#c8102e"/>
<circle cx="294.00" cy="326.51" r="1.4" fill="#c8102e"/>
<circle cx="296.00" cy="326.94" r="1.4" fill="#c8102e"/>
<text transform="translate(294.00,320.75)" font-size="6.2" text-anchor="middle" font-weight="normal" fill="#2a2a2a" stroke="#2a2a2a" stroke-width="0.3" >*</text>
<line x1="305.20" y1="329.10" x2="305.20" y2="332.30" stroke="#231f20" stroke-width="0.9" />
<line x1="305.20" y1="295.89" x2="305.20" y2="299.34" stroke="#0f4c81" stroke-width="0.7" />
<line x1="303.20" y1="295.89" x2="307.20" y2="295.89" stroke="#0f4c81" stroke-width="0.7" />
<line x1="303.20" y1="299.34" x2="307.20" y2="299.34" stroke="#0f4c81" stroke-width="0.7" />
<line x1="302.00" y1="297.61" x2="308.40" y2="297.61" stroke="#0f4c81" stroke-width="0.7" />
<rect x="301.80" y="297.51" width="2.8" height="2.8" fill="#0f4c81"/>
<rect x="303.80" y="293.19" width="2.8" height="2.8" fill="#0f4c81"/>
<rect x="305.80" y="297.08" width="2.8" height="2.8" fill="#0f4c81"/>
<line x1="316.50" y1="329.10" x2="316.50" y2="332.30" stroke="#231f20" stroke-width="0.9" />
<line x1="316.50" y1="314.00" x2="316.50" y2="320.04" stroke="#3bb54a" stroke-width="0.7" />
<line x1="314.50" y1="314.00" x2="318.50" y2="314.00" stroke="#3bb54a" stroke-width="0.7" />
<line x1="314.50" y1="320.04" x2="318.50" y2="320.04" stroke="#3bb54a" stroke-width="0.7" />
<line x1="313.30" y1="317.02" x2="319.70" y2="317.02" stroke="#3bb54a" stroke-width="0.7" />
<polygon points="314.50,317.93 312.89,320.87 316.11,320.87" fill="#3bb54a"/>
<polygon points="316.50,311.46 314.89,314.40 318.11,314.40" fill="#3bb54a"/>
<polygon points="318.50,317.07 316.89,320.01 320.11,320.01" fill="#3bb54a"/>
<text transform="translate(316.50,309.96)" font-size="6.2" text-anchor="middle" font-weight="normal" fill="#2a2a2a" stroke="#2a2a2a" stroke-width="0.3" >*</text>
<line x1="327.20" y1="329.10" x2="327.20" y2="332.30" stroke="#231f20" stroke-width="0.9" />
<polygon points="325.20,327.76 323.59,324.82 326.81,324.82" fill="#5c2d82"/>
<polygon points="327.20,327.76 325.59,324.82 328.81,324.82" fill="#5c2d82"/>
<polygon points="329.20,327.76 327.59,324.82 330.81,324.82" fill="#5c2d82"/>
<line x1="338.35" y1="329.10" x2="338.35" y2="332.30" stroke="#231f20" stroke-width="0.9" />
<line x1="338.35" y1="277.77" x2="338.35" y2="282.95" stroke="#f58220" stroke-width="0.7" />
<line x1="336.35" y1="277.77" x2="340.35" y2="277.77" stroke="#f58220" stroke-width="0.7" />
<line x1="336.35" y1="282.95" x2="340.35" y2="282.95" stroke="#f58220" stroke-width="0.7" />
<line x1="335.15" y1="280.36" x2="341.55" y2="280.36" stroke="#f58220" stroke-width="0.7" />
<circle cx="336.35" cy="281.65" r="1.4" fill="#f58220"/>
<circle cx="338.35" cy="276.48" r="1.4" fill="#f58220"/>
<circle cx="340.35" cy="282.52" r="1.4" fill="#f58220"/>
<text transform="translate(338.35,272.01)" font-size="6.2" text-anchor="middle" font-weight="normal" fill="#2a2a2a" stroke="#2a2a2a" stroke-width="0.3" >*</text>
<line x1="349.60" y1="329.10" x2="349.60" y2="332.30" stroke="#231f20" stroke-width="0.9" />
<line x1="349.60" y1="302.36" x2="349.60" y2="308.40" stroke="#1c6b4f" stroke-width="0.7" />
<line x1="347.60" y1="302.36" x2="351.60" y2="302.36" stroke="#1c6b4f" stroke-width="0.7" />
<line x1="347.60" y1="308.40" x2="351.60" y2="308.40" stroke="#1c6b4f" stroke-width="0.7" />
<line x1="346.40" y1="305.38" x2="352.80" y2="305.38" stroke="#1c6b4f" stroke-width="0.7" />
<rect x="346.20" y="307.43" width="2.8" height="2.8" fill="#1c6b4f"/>
<rect x="348.20" y="299.66" width="2.8" height="2.8" fill="#1c6b4f"/>
<rect x="350.20" y="305.27" width="2.8" height="2.8" fill="#1c6b4f"/>
<text transform="translate(349.60,298.12)" font-size="6.6" text-anchor="middle" font-weight="normal" fill="#333" stroke="#333" stroke-width="0.05" >#</text>
<text transform="translate(296.40,338.20) rotate(-35)" font-size="7.6" text-anchor="end" font-weight="normal" fill="#231f20" stroke="#231f20" stroke-width="0.24" >Ctrl</text>
<text transform="translate(307.60,338.20) rotate(-35)" font-size="7.6" text-anchor="end" font-weight="normal" fill="#231f20" stroke="#231f20" stroke-width="0.24" >Th</text>
<text transform="translate(318.90,338.20) rotate(-35)" font-size="7.6" text-anchor="end" font-weight="normal" fill="#231f20" stroke="#231f20" stroke-width="0.24" >Th+mP6</text>
<text transform="translate(329.60,338.20) rotate(-35)" font-size="7.6" text-anchor="end" font-weight="normal" fill="#231f20" stroke="#231f20" stroke-width="0.24" >Hcy</text>
<text transform="translate(340.75,338.20) rotate(-35)" font-size="7.6" text-anchor="end" font-weight="normal" fill="#231f20" stroke="#231f20" stroke-width="0.24" >Hcy+Th</text>
<text transform="translate(352.00,338.20) rotate(-35)" font-size="7.6" text-anchor="end" font-weight="normal" fill="#231f20" stroke="#231f20" stroke-width="0.24" >Hcy+Th+mP6</text>
<text transform="translate(254.90,296.00) rotate(-90) scale(0.76,1)" font-size="8.5" text-anchor="middle" font-weight="normal" fill="#231f20" stroke="#231f20" stroke-width="0.3" >p-SRC<tspan font-size="5.3" dy="-3.1" stroke-width="0.12">Tyr416</tspan><tspan dy="3.1">/t-SRC</tspan></text>
<text transform="translate(266.20,296.60) rotate(-90) scale(0.741,1)" font-size="8.5" text-anchor="middle" font-weight="normal" fill="#231f20" stroke="#231f20" stroke-width="0.3" >relative protein levels</text>
<line x1="426.60" y1="263.75" x2="426.60" y2="329.85" stroke="#231f20" stroke-width="1.3" />
<line x1="425.95" y1="329.20" x2="513.30" y2="329.20" stroke="#231f20" stroke-width="1.3" />
<line x1="423.60" y1="264.40" x2="426.60" y2="264.40" stroke="#231f20" stroke-width="0.9" />
<text transform="translate(420.80,267.03)" font-size="7.3" text-anchor="end" font-weight="normal" fill="#231f20" stroke="#231f20" stroke-width="0.24" >1.0</text>
<line x1="423.60" y1="277.36" x2="426.60" y2="277.36" stroke="#231f20" stroke-width="0.9" />
<text transform="translate(420.80,279.99)" font-size="7.3" text-anchor="end" font-weight="normal" fill="#231f20" stroke="#231f20" stroke-width="0.24" >0.8</text>
<line x1="423.60" y1="290.32" x2="426.60" y2="290.32" stroke="#231f20" stroke-width="0.9" />
<text transform="translate(420.80,292.95)" font-size="7.3" text-anchor="end" font-weight="normal" fill="#231f20" stroke="#231f20" stroke-width="0.24" >0.6</text>
<line x1="423.60" y1="303.28" x2="426.60" y2="303.28" stroke="#231f20" stroke-width="0.9" />
<text transform="translate(420.80,305.91)" font-size="7.3" text-anchor="end" font-weight="normal" fill="#231f20" stroke="#231f20" stroke-width="0.24" >0.4</text>
<line x1="423.60" y1="316.24" x2="426.60" y2="316.24" stroke="#231f20" stroke-width="0.9" />
<text transform="translate(420.80,318.87)" font-size="7.3" text-anchor="end" font-weight="normal" fill="#231f20" stroke="#231f20" stroke-width="0.24" >0.2</text>
<line x1="423.60" y1="329.20" x2="426.60" y2="329.20" stroke="#231f20" stroke-width="0.9" />
<text transform="translate(420.80,331.83)" font-size="7.3" text-anchor="end" font-weight="normal" fill="#231f20" stroke="#231f20" stroke-width="0.24" >0.0</text>
<line x1="426.60" y1="329.20" x2="426.60" y2="331.80" stroke="#231f20" stroke-width="0.8" />
<line x1="433.79" y1="329.20" x2="433.79" y2="330.70" stroke="#231f20" stroke-width="0.8" />
<line x1="440.98" y1="329.20" x2="440.98" y2="330.70" stroke="#231f20" stroke-width="0.8" />
<line x1="448.17" y1="329.20" x2="448.17" y2="330.70" stroke="#231f20" stroke-width="0.8" />
<line x1="455.36" y1="329.20" x2="455.36" y2="330.70" stroke="#231f20" stroke-width="0.8" />
<line x1="462.55" y1="329.20" x2="462.55" y2="331.80" stroke="#231f20" stroke-width="0.8" />
<line x1="469.74" y1="329.20" x2="469.74" y2="330.70" stroke="#231f20" stroke-width="0.8" />
<line x1="476.93" y1="329.20" x2="476.93" y2="330.70" stroke="#231f20" stroke-width="0.8" />
<line x1="484.12" y1="329.20" x2="484.12" y2="330.70" stroke="#231f20" stroke-width="0.8" />
<line x1="491.31" y1="329.20" x2="491.31" y2="330.70" stroke="#231f20" stroke-width="0.8" />
<line x1="498.50" y1="329.20" x2="498.50" y2="331.80" stroke="#231f20" stroke-width="0.8" />
<line x1="505.69" y1="329.20" x2="505.69" y2="330.70" stroke="#231f20" stroke-width="0.8" />
<line x1="512.88" y1="329.20" x2="512.88" y2="330.70" stroke="#231f20" stroke-width="0.8" />
<text transform="translate(426.60,340.00)" font-size="7.9" text-anchor="middle" font-weight="normal" fill="#231f20" stroke="#231f20" stroke-width="0.24" >0</text>
<text transform="translate(462.55,340.00)" font-size="7.9" text-anchor="middle" font-weight="normal" fill="#231f20" stroke="#231f20" stroke-width="0.24" >5</text>
<text transform="translate(498.50,340.00)" font-size="7.9" text-anchor="middle" font-weight="normal" fill="#231f20" stroke="#231f20" stroke-width="0.24" >10</text>
<polyline points="426.60,329.20 440.98,323.37 462.55,309.11 498.50,298.74" fill="none" stroke="#c8102e" stroke-width="1.5"/>
<circle cx="426.60" cy="329.20" r="1.3" fill="#c8102e"/>
<circle cx="440.98" cy="323.37" r="1.3" fill="#c8102e"/>
<line x1="462.55" y1="311.70" x2="462.55" y2="306.52" stroke="#c8102e" stroke-width="0.8" />
<line x1="460.85" y1="311.70" x2="464.25" y2="311.70" stroke="#c8102e" stroke-width="0.8" />
<line x1="460.85" y1="306.52" x2="464.25" y2="306.52" stroke="#c8102e" stroke-width="0.8" />
<circle cx="462.55" cy="309.11" r="1.3" fill="#c8102e"/>
<line x1="498.50" y1="301.34" x2="498.50" y2="296.15" stroke="#c8102e" stroke-width="0.8" />
<line x1="496.80" y1="301.34" x2="500.20" y2="301.34" stroke="#c8102e" stroke-width="0.8" />
<line x1="496.80" y1="296.15" x2="500.20" y2="296.15" stroke="#c8102e" stroke-width="0.8" />
<circle cx="498.50" cy="298.74" r="1.3" fill="#c8102e"/>
<polyline points="426.60,329.20 440.98,312.35 462.55,284.49 498.50,278.01" fill="none" stroke="#0f4c81" stroke-width="1.5"/>
<circle cx="426.60" cy="329.20" r="1.3" fill="#0f4c81"/>
<circle cx="440.98" cy="312.35" r="1.3" fill="#0f4c81"/>
<line x1="462.55" y1="287.73" x2="462.55" y2="281.25" stroke="#0f4c81" stroke-width="0.8" />
<line x1="460.85" y1="287.73" x2="464.25" y2="287.73" stroke="#0f4c81" stroke-width="0.8" />
<line x1="460.85" y1="281.25" x2="464.25" y2="281.25" stroke="#0f4c81" stroke-width="0.8" />
<circle cx="462.55" cy="284.49" r="1.3" fill="#0f4c81"/>
<line x1="498.50" y1="282.54" x2="498.50" y2="273.47" stroke="#0f4c81" stroke-width="0.8" />
<line x1="496.80" y1="282.54" x2="500.20" y2="282.54" stroke="#0f4c81" stroke-width="0.8" />
<line x1="496.80" y1="273.47" x2="500.20" y2="273.47" stroke="#0f4c81" stroke-width="0.8" />
<circle cx="498.50" cy="278.01" r="1.3" fill="#0f4c81"/>
<text transform="translate(462.55,280.66)" font-size="6.2" text-anchor="middle" font-weight="normal" fill="#2a2a2a" stroke="#2a2a2a" stroke-width="0.3" >*</text>
<text transform="translate(498.50,272.88)" font-size="6.2" text-anchor="middle" font-weight="normal" fill="#2a2a2a" stroke="#2a2a2a" stroke-width="0.3" >*</text>
<line x1="429.00" y1="253.40" x2="437.00" y2="253.40" stroke="#c8102e" stroke-width="1.1" />
<circle cx="433.00" cy="253.40" r="1.35" fill="#c8102e"/>
<text transform="translate(439.80,255.90)" font-size="6.9" text-anchor="start" font-weight="normal" fill="#231f20" stroke="#231f20" stroke-width="0.24" >Thrombin</text>
<line x1="429.00" y1="261.90" x2="437.00" y2="261.90" stroke="#0f4c81" stroke-width="1.1" />
<circle cx="433.00" cy="261.90" r="1.35" fill="#0f4c81"/>
<text transform="translate(439.80,264.50)" font-size="7.0" text-anchor="start" font-weight="normal" fill="#231f20" stroke="#231f20" stroke-width="0.24" >Thrombin+Hcy</text>
<text transform="translate(469.70,352.50) scale(0.74,1)" font-size="8.6" text-anchor="middle" font-weight="normal" fill="#231f20" stroke="#231f20" stroke-width="0.3" >Time (min)</text>
<text transform="translate(404.30,296.80) rotate(-90) scale(0.777,1)" font-size="8.5" text-anchor="middle" font-weight="normal" fill="#231f20" stroke="#231f20" stroke-width="0.3" >Gα13-bound β3 (relative OD)</text>
<rect x="175.30" y="451.23" width="12.90" height="31.27" fill="#f0a3ad" />
<rect x="192.90" y="468.93" width="13.10" height="13.57" fill="#9fb9d4" />
<rect x="210.90" y="438.25" width="13.10" height="44.25" fill="#b5ddb3" />
<rect x="228.90" y="455.36" width="13.10" height="27.14" fill="#bda7cc" />
<line x1="170.10" y1="422.85" x2="170.10" y2="483.15" stroke="#231f20" stroke-width="1.3" />
<line x1="169.45" y1="482.50" x2="248.00" y2="482.50" stroke="#231f20" stroke-width="1.3" />
<line x1="167.10" y1="423.50" x2="170.10" y2="423.50" stroke="#231f20" stroke-width="0.9" />
<text transform="translate(164.30,426.13)" font-size="7.3" text-anchor="end" font-weight="normal" fill="#231f20" stroke="#231f20" stroke-width="0.24" >100</text>
<line x1="167.10" y1="434.10" x2="170.10" y2="434.10" stroke="#231f20" stroke-width="0.9" />
<text transform="translate(164.30,436.73)" font-size="7.3" text-anchor="end" font-weight="normal" fill="#231f20" stroke="#231f20" stroke-width="0.24" >80</text>
<line x1="167.10" y1="446.60" x2="170.10" y2="446.60" stroke="#231f20" stroke-width="0.9" />
<text transform="translate(164.30,449.23)" font-size="7.3" text-anchor="end" font-weight="normal" fill="#231f20" stroke="#231f20" stroke-width="0.24" >60</text>
<line x1="167.10" y1="458.70" x2="170.10" y2="458.70" stroke="#231f20" stroke-width="0.9" />
<text transform="translate(164.30,461.33)" font-size="7.3" text-anchor="end" font-weight="normal" fill="#231f20" stroke="#231f20" stroke-width="0.24" >40</text>
<line x1="167.10" y1="470.50" x2="170.10" y2="470.50" stroke="#231f20" stroke-width="0.9" />
<text transform="translate(164.30,473.13)" font-size="7.3" text-anchor="end" font-weight="normal" fill="#231f20" stroke="#231f20" stroke-width="0.24" >20</text>
<line x1="167.10" y1="482.50" x2="170.10" y2="482.50" stroke="#231f20" stroke-width="0.9" />
<text transform="translate(164.30,485.13)" font-size="7.3" text-anchor="end" font-weight="normal" fill="#231f20" stroke="#231f20" stroke-width="0.24" >0</text>
<line x1="181.75" y1="482.50" x2="181.75" y2="485.70" stroke="#231f20" stroke-width="0.9" />
<line x1="181.75" y1="448.28" x2="181.75" y2="454.18" stroke="#c8102e" stroke-width="0.7" />
<line x1="179.35" y1="448.28" x2="184.15" y2="448.28" stroke="#c8102e" stroke-width="0.7" />
<line x1="179.35" y1="454.18" x2="184.15" y2="454.18" stroke="#c8102e" stroke-width="0.7" />
<line x1="177.91" y1="451.23" x2="185.59" y2="451.23" stroke="#c8102e" stroke-width="0.7" />
<circle cx="179.15" cy="447.10" r="1.4" fill="#c8102e"/>
<circle cx="183.95" cy="449.46" r="1.4" fill="#c8102e"/>
<circle cx="181.95" cy="457.72" r="1.4" fill="#c8102e"/>
<line x1="199.45" y1="482.50" x2="199.45" y2="485.70" stroke="#231f20" stroke-width="0.9" />
<line x1="199.45" y1="467.75" x2="199.45" y2="470.11" stroke="#0f4c81" stroke-width="0.7" />
<line x1="197.45" y1="467.75" x2="201.45" y2="467.75" stroke="#0f4c81" stroke-width="0.7" />
<line x1="197.45" y1="470.11" x2="201.45" y2="470.11" stroke="#0f4c81" stroke-width="0.7" />
<line x1="196.25" y1="468.93" x2="202.65" y2="468.93" stroke="#0f4c81" stroke-width="0.7" />
<rect x="195.55" y="469.89" width="2.8" height="2.8" fill="#0f4c81"/>
<rect x="198.05" y="465.17" width="2.8" height="2.8" fill="#0f4c81"/>
<rect x="200.55" y="467.53" width="2.8" height="2.8" fill="#0f4c81"/>
<rect x="199.05" y="468.71" width="2.8" height="2.8" fill="#0f4c81"/>
<text transform="translate(199.45,461.49)" font-size="6.2" text-anchor="middle" font-weight="normal" fill="#2a2a2a" stroke="#2a2a2a" stroke-width="0.3" >*</text>
<line x1="217.45" y1="482.50" x2="217.45" y2="485.70" stroke="#231f20" stroke-width="0.9" />
<line x1="217.45" y1="437.37" x2="217.45" y2="439.13" stroke="#3bb54a" stroke-width="0.7" />
<line x1="215.45" y1="437.37" x2="219.45" y2="437.37" stroke="#3bb54a" stroke-width="0.7" />
<line x1="215.45" y1="439.13" x2="219.45" y2="439.13" stroke="#3bb54a" stroke-width="0.7" />
<line x1="214.25" y1="438.25" x2="220.65" y2="438.25" stroke="#3bb54a" stroke-width="0.7" />
<polygon points="214.45,435.98 212.84,438.92 216.06,438.92" fill="#3bb54a"/>
<polygon points="217.45,437.75 215.84,440.69 219.06,440.69" fill="#3bb54a"/>
<polygon points="220.45,435.98 218.84,438.92 222.06,438.92" fill="#3bb54a"/>
<text transform="translate(217.45,431.99)" font-size="6.2" text-anchor="middle" font-weight="normal" fill="#2a2a2a" stroke="#2a2a2a" stroke-width="0.3" >*</text>
<line x1="235.45" y1="482.50" x2="235.45" y2="485.70" stroke="#231f20" stroke-width="0.9" />
<line x1="235.45" y1="451.23" x2="235.45" y2="459.49" stroke="#5c2d82" stroke-width="0.7" />
<line x1="233.05" y1="451.23" x2="237.85" y2="451.23" stroke="#5c2d82" stroke-width="0.7" />
<line x1="233.05" y1="459.49" x2="237.85" y2="459.49" stroke="#5c2d82" stroke-width="0.7" />
<line x1="231.61" y1="455.36" x2="239.29" y2="455.36" stroke="#5c2d82" stroke-width="0.7" />
<polygon points="232.45,450.55 230.84,447.61 234.06,447.61" fill="#5c2d82"/>
<polygon points="237.95,455.27 236.34,452.33 239.56,452.33" fill="#5c2d82"/>
<polygon points="235.45,465.30 233.84,462.36 237.06,462.36" fill="#5c2d82"/>
<text transform="translate(235.45,444.18)" font-size="6.6" text-anchor="middle" font-weight="normal" fill="#333" stroke="#333" stroke-width="0.05" >#</text>
<text transform="translate(184.15,491.60) rotate(-35)" font-size="7.5" text-anchor="end" font-weight="normal" fill="#231f20" stroke="#231f20" stroke-width="0.24" >Ctrl</text>
<text transform="translate(201.85,491.60) rotate(-35)" font-size="7.5" text-anchor="end" font-weight="normal" fill="#231f20" stroke="#231f20" stroke-width="0.24" >mP6</text>
<text transform="translate(219.85,491.60) rotate(-35)" font-size="7.5" text-anchor="end" font-weight="normal" fill="#231f20" stroke="#231f20" stroke-width="0.24" >Hcy</text>
<text transform="translate(237.85,491.60) rotate(-35)" font-size="7.5" text-anchor="end" font-weight="normal" fill="#231f20" stroke="#231f20" stroke-width="0.24" >Hcy+mP6</text>
<text transform="translate(148.50,452.80) rotate(-90) scale(0.762,1)" font-size="8.5" text-anchor="middle" font-weight="normal" fill="#231f20" stroke="#231f20" stroke-width="0.3" >Aggregation (%)</text>
<rect x="429.10" y="469.48" width="7.80" height="13.32" fill="#f0a3ad" />
<rect x="438.70" y="459.32" width="7.80" height="23.48" fill="#9fb9d4" />
<rect x="448.00" y="473.43" width="7.60" height="9.37" fill="#b5ddb3" />
<rect x="457.70" y="471.75" width="7.30" height="11.05" fill="#bda7cc" />
<rect x="473.80" y="448.46" width="7.20" height="34.34" fill="#f0a3ad" />
<rect x="483.00" y="440.57" width="7.70" height="42.23" fill="#9fb9d4" />
<rect x="492.20" y="456.75" width="7.80" height="26.05" fill="#b5ddb3" />
<rect x="501.80" y="456.75" width="7.20" height="26.05" fill="#bda7cc" />
<line x1="426.60" y1="422.95" x2="426.60" y2="483.45" stroke="#231f20" stroke-width="1.3" />
<line x1="425.95" y1="482.80" x2="512.70" y2="482.80" stroke="#231f20" stroke-width="1.3" />
<line x1="423.60" y1="423.60" x2="426.60" y2="423.60" stroke="#231f20" stroke-width="0.9" />
<text transform="translate(420.80,426.23)" font-size="7.3" text-anchor="end" font-weight="normal" fill="#231f20" stroke="#231f20" stroke-width="0.24" >600</text>
<line x1="423.60" y1="443.33" x2="426.60" y2="443.33" stroke="#231f20" stroke-width="0.9" />
<text transform="translate(420.80,445.96)" font-size="7.3" text-anchor="end" font-weight="normal" fill="#231f20" stroke="#231f20" stroke-width="0.24" >400</text>
<line x1="423.60" y1="463.07" x2="426.60" y2="463.07" stroke="#231f20" stroke-width="0.9" />
<text transform="translate(420.80,465.69)" font-size="7.3" text-anchor="end" font-weight="normal" fill="#231f20" stroke="#231f20" stroke-width="0.24" >200</text>
<line x1="423.60" y1="482.80" x2="426.60" y2="482.80" stroke="#231f20" stroke-width="0.9" />
<text transform="translate(420.80,485.43)" font-size="7.3" text-anchor="end" font-weight="normal" fill="#231f20" stroke="#231f20" stroke-width="0.24" >0</text>
<circle cx="430.50" cy="468.00" r="1.1" fill="#c8102e"/>
<circle cx="432.00" cy="469.97" r="1.1" fill="#c8102e"/>
<circle cx="433.50" cy="470.96" r="1.1" fill="#c8102e"/>
<circle cx="435.00" cy="468.99" r="1.1" fill="#c8102e"/>
<circle cx="434.00" cy="467.51" r="1.1" fill="#c8102e"/>
<line x1="442.60" y1="458.13" x2="442.60" y2="460.50" stroke="#0f4c81" stroke-width="0.7" />
<line x1="440.60" y1="458.13" x2="444.60" y2="458.13" stroke="#0f4c81" stroke-width="0.7" />
<line x1="440.60" y1="460.50" x2="444.60" y2="460.50" stroke="#0f4c81" stroke-width="0.7" />
<line x1="439.40" y1="459.32" x2="445.80" y2="459.32" stroke="#0f4c81" stroke-width="0.7" />
<rect x="439.50" y="458.51" width="2.2" height="2.2" fill="#0f4c81"/>
<rect x="441.50" y="452.10" width="2.2" height="2.2" fill="#0f4c81"/>
<rect x="443.50" y="458.02" width="2.2" height="2.2" fill="#0f4c81"/>
<rect x="440.50" y="460.49" width="2.2" height="2.2" fill="#0f4c81"/>
<rect x="442.50" y="459.50" width="2.2" height="2.2" fill="#0f4c81"/>
<text transform="translate(442.60,450.76)" font-size="6.2" text-anchor="middle" font-weight="normal" fill="#2a2a2a" stroke="#2a2a2a" stroke-width="0.3" >*</text>
<line x1="451.80" y1="472.64" x2="451.80" y2="474.22" stroke="#3bb54a" stroke-width="0.7" />
<line x1="449.80" y1="472.64" x2="453.80" y2="472.64" stroke="#3bb54a" stroke-width="0.7" />
<line x1="449.80" y1="474.22" x2="453.80" y2="474.22" stroke="#3bb54a" stroke-width="0.7" />
<line x1="448.60" y1="473.43" x2="455.00" y2="473.43" stroke="#3bb54a" stroke-width="0.7" />
<polygon points="449.80,473.09 448.54,475.40 451.06,475.40" fill="#3bb54a"/>
<polygon points="451.80,469.15 450.54,471.46 453.06,471.46" fill="#3bb54a"/>
<polygon points="453.80,472.60 452.54,474.91 455.06,474.91" fill="#3bb54a"/>
<polygon points="450.80,474.08 449.54,476.39 452.06,476.39" fill="#3bb54a"/>
<polygon points="452.80,471.61 451.54,473.92 454.06,473.92" fill="#3bb54a"/>
<text transform="translate(451.80,467.53)" font-size="6.2" text-anchor="middle" font-weight="normal" fill="#2a2a2a" stroke="#2a2a2a" stroke-width="0.3" >*</text>
<line x1="461.35" y1="470.76" x2="461.35" y2="472.74" stroke="#5c2d82" stroke-width="0.7" />
<line x1="459.35" y1="470.76" x2="463.35" y2="470.76" stroke="#5c2d82" stroke-width="0.7" />
<line x1="459.35" y1="472.74" x2="463.35" y2="472.74" stroke="#5c2d82" stroke-width="0.7" />
<line x1="458.15" y1="471.75" x2="464.55" y2="471.75" stroke="#5c2d82" stroke-width="0.7" />
<polygon points="459.35,469.32 458.09,467.01 460.62,467.01" fill="#5c2d82"/>
<polygon points="461.35,473.27 460.09,470.96 462.62,470.96" fill="#5c2d82"/>
<polygon points="463.35,474.25 462.09,471.94 464.62,471.94" fill="#5c2d82"/>
<polygon points="460.35,475.73 459.09,473.42 461.62,473.42" fill="#5c2d82"/>
<polygon points="462.35,471.79 461.09,469.48 463.62,469.48" fill="#5c2d82"/>
<text transform="translate(461.35,464.87)" font-size="6.6" text-anchor="middle" font-weight="normal" fill="#333" stroke="#333" stroke-width="0.05" >#</text>
<line x1="477.40" y1="447.67" x2="477.40" y2="449.25" stroke="#c8102e" stroke-width="0.7" />
<line x1="475.40" y1="447.67" x2="479.40" y2="447.67" stroke="#c8102e" stroke-width="0.7" />
<line x1="475.40" y1="449.25" x2="479.40" y2="449.25" stroke="#c8102e" stroke-width="0.7" />
<line x1="474.20" y1="448.46" x2="480.60" y2="448.46" stroke="#c8102e" stroke-width="0.7" />
<circle cx="475.40" cy="446.79" r="1.1" fill="#c8102e"/>
<circle cx="477.40" cy="451.23" r="1.1" fill="#c8102e"/>
<circle cx="479.40" cy="449.25" r="1.1" fill="#c8102e"/>
<circle cx="476.40" cy="447.77" r="1.1" fill="#c8102e"/>
<circle cx="478.40" cy="446.29" r="1.1" fill="#c8102e"/>
<line x1="486.85" y1="439.39" x2="486.85" y2="441.75" stroke="#0f4c81" stroke-width="0.7" />
<line x1="484.85" y1="439.39" x2="488.85" y2="439.39" stroke="#0f4c81" stroke-width="0.7" />
<line x1="484.85" y1="441.75" x2="488.85" y2="441.75" stroke="#0f4c81" stroke-width="0.7" />
<line x1="483.65" y1="440.57" x2="490.05" y2="440.57" stroke="#0f4c81" stroke-width="0.7" />
<rect x="483.75" y="441.25" width="2.2" height="2.2" fill="#0f4c81"/>
<rect x="485.75" y="434.34" width="2.2" height="2.2" fill="#0f4c81"/>
<rect x="487.75" y="439.27" width="2.2" height="2.2" fill="#0f4c81"/>
<rect x="484.75" y="442.23" width="2.2" height="2.2" fill="#0f4c81"/>
<rect x="486.75" y="439.77" width="2.2" height="2.2" fill="#0f4c81"/>
<text transform="translate(486.85,433.00)" font-size="6.2" text-anchor="middle" font-weight="normal" fill="#2a2a2a" stroke="#2a2a2a" stroke-width="0.3" >*</text>
<line x1="496.10" y1="455.27" x2="496.10" y2="458.23" stroke="#3bb54a" stroke-width="0.7" />
<line x1="494.10" y1="455.27" x2="498.10" y2="455.27" stroke="#3bb54a" stroke-width="0.7" />
<line x1="494.10" y1="458.23" x2="498.10" y2="458.23" stroke="#3bb54a" stroke-width="0.7" />
<line x1="492.90" y1="456.75" x2="499.30" y2="456.75" stroke="#3bb54a" stroke-width="0.7" />
<polygon points="494.10,454.84 492.84,457.15 495.37,457.15" fill="#3bb54a"/>
<polygon points="496.10,461.75 494.84,464.06 497.37,464.06" fill="#3bb54a"/>
<polygon points="498.10,451.88 496.84,454.19 499.37,454.19" fill="#3bb54a"/>
<polygon points="495.10,456.81 493.84,459.12 496.37,459.12" fill="#3bb54a"/>
<polygon points="497.10,453.36 495.84,455.67 498.37,455.67" fill="#3bb54a"/>
<text transform="translate(496.10,450.76)" font-size="6.2" text-anchor="middle" font-weight="normal" fill="#2a2a2a" stroke="#2a2a2a" stroke-width="0.3" >*</text>
<line x1="505.40" y1="455.77" x2="505.40" y2="457.74" stroke="#5c2d82" stroke-width="0.7" />
<line x1="503.40" y1="455.77" x2="507.40" y2="455.77" stroke="#5c2d82" stroke-width="0.7" />
<line x1="503.40" y1="457.74" x2="507.40" y2="457.74" stroke="#5c2d82" stroke-width="0.7" />
<line x1="502.20" y1="456.75" x2="508.60" y2="456.75" stroke="#5c2d82" stroke-width="0.7" />
<polygon points="503.40,457.48 502.13,455.17 504.66,455.17" fill="#5c2d82"/>
<polygon points="505.40,453.53 504.13,451.22 506.66,451.22" fill="#5c2d82"/>
<polygon points="507.40,459.45 506.13,457.14 508.66,457.14" fill="#5c2d82"/>
<polygon points="504.40,460.44 503.13,458.13 505.66,458.13" fill="#5c2d82"/>
<polygon points="506.40,456.99 505.13,454.68 507.66,454.68" fill="#5c2d82"/>
<text transform="translate(505.40,449.57)" font-size="6.6" text-anchor="middle" font-weight="normal" fill="#333" stroke="#333" stroke-width="0.05" >#</text>
<line x1="447.30" y1="482.50" x2="447.30" y2="485.30" stroke="#231f20" stroke-width="0.9" />
<line x1="491.40" y1="482.50" x2="491.40" y2="485.30" stroke="#231f20" stroke-width="0.9" />
<text transform="translate(401.40,453.45) rotate(-90) scale(0.748,1)" font-size="8.5" text-anchor="middle" font-weight="normal" fill="#231f20" stroke="#231f20" stroke-width="0.3" >PLT spreading aera (pixels)</text>
<text transform="translate(452.10,490.30) rotate(-35)" font-size="7.3" text-anchor="end" font-weight="normal" fill="#231f20" stroke="#231f20" stroke-width="0.24" >Th 0 U/mL</text>
<text transform="translate(496.20,490.30) rotate(-35)" font-size="7.3" text-anchor="end" font-weight="normal" fill="#231f20" stroke="#231f20" stroke-width="0.24" >Th 0.006 U/mL</text>
<circle cx="433.80" cy="397.50" r="1.35" fill="#c8102e"/>
<text transform="translate(438.70,399.90)" font-size="7.2" text-anchor="start" font-weight="normal" fill="#231f20" stroke="#231f20" stroke-width="0.24" >Ctrl</text>
<rect x="432.45" y="404.20" width="2.7" height="2.7" fill="#0f4c81"/>
<text transform="translate(438.70,407.95)" font-size="7.2" text-anchor="start" font-weight="normal" fill="#231f20" stroke="#231f20" stroke-width="0.24" >Hcy</text>
<polygon points="433.80,411.98 432.25,414.81 435.35,414.81" fill="#3bb54a"/>
<text transform="translate(438.70,416.00)" font-size="7.2" text-anchor="start" font-weight="normal" fill="#231f20" stroke="#231f20" stroke-width="0.24" >mP6</text>
<polygon points="433.80,423.27 432.25,420.44 435.35,420.44" fill="#5c2d82"/>
<text transform="translate(438.70,424.05)" font-size="7.2" text-anchor="start" font-weight="normal" fill="#231f20" stroke="#231f20" stroke-width="0.24" >Hcy+mP6</text>
<rect x="272.80" y="589.57" width="12.40" height="30.73" fill="#f0a3ad" />
<rect x="290.30" y="601.24" width="12.80" height="19.06" fill="#9fb9d4" />
<rect x="308.20" y="580.26" width="13.00" height="40.04" fill="#b5ddb3" />
<line x1="266.70" y1="560.55" x2="266.70" y2="620.95" stroke="#231f20" stroke-width="1.3" />
<line x1="266.05" y1="620.30" x2="326.00" y2="620.30" stroke="#231f20" stroke-width="1.3" />
<line x1="263.70" y1="561.20" x2="266.70" y2="561.20" stroke="#231f20" stroke-width="0.9" />
<text transform="translate(260.90,563.83)" font-size="7.3" text-anchor="end" font-weight="normal" fill="#231f20" stroke="#231f20" stroke-width="0.24" >40</text>
<line x1="263.70" y1="575.98" x2="266.70" y2="575.98" stroke="#231f20" stroke-width="0.9" />
<text transform="translate(260.90,578.60)" font-size="7.3" text-anchor="end" font-weight="normal" fill="#231f20" stroke="#231f20" stroke-width="0.24" >30</text>
<line x1="263.70" y1="590.75" x2="266.70" y2="590.75" stroke="#231f20" stroke-width="0.9" />
<text transform="translate(260.90,593.38)" font-size="7.3" text-anchor="end" font-weight="normal" fill="#231f20" stroke="#231f20" stroke-width="0.24" >20</text>
<line x1="263.70" y1="605.52" x2="266.70" y2="605.52" stroke="#231f20" stroke-width="0.9" />
<text transform="translate(260.90,608.15)" font-size="7.3" text-anchor="end" font-weight="normal" fill="#231f20" stroke="#231f20" stroke-width="0.24" >10</text>
<line x1="263.70" y1="620.30" x2="266.70" y2="620.30" stroke="#231f20" stroke-width="0.9" />
<text transform="translate(260.90,622.93)" font-size="7.3" text-anchor="end" font-weight="normal" fill="#231f20" stroke="#231f20" stroke-width="0.24" >0</text>
<line x1="279.00" y1="620.30" x2="279.00" y2="623.50" stroke="#231f20" stroke-width="0.9" />
<line x1="279.00" y1="587.79" x2="279.00" y2="591.34" stroke="#c8102e" stroke-width="0.7" />
<line x1="276.60" y1="587.79" x2="281.40" y2="587.79" stroke="#c8102e" stroke-width="0.7" />
<line x1="276.60" y1="591.34" x2="281.40" y2="591.34" stroke="#c8102e" stroke-width="0.7" />
<line x1="275.16" y1="589.57" x2="282.84" y2="589.57" stroke="#c8102e" stroke-width="0.7" />
<circle cx="277.40" cy="586.61" r="1.4" fill="#c8102e"/>
<circle cx="281.60" cy="590.16" r="1.4" fill="#c8102e"/>
<circle cx="277.60" cy="593.71" r="1.4" fill="#c8102e"/>
<circle cx="279.80" cy="588.98" r="1.4" fill="#c8102e"/>
<line x1="296.70" y1="620.30" x2="296.70" y2="623.50" stroke="#231f20" stroke-width="0.9" />
<line x1="296.70" y1="599.32" x2="296.70" y2="603.16" stroke="#0f4c81" stroke-width="0.7" />
<line x1="294.70" y1="599.32" x2="298.70" y2="599.32" stroke="#0f4c81" stroke-width="0.7" />
<line x1="294.70" y1="603.16" x2="298.70" y2="603.16" stroke="#0f4c81" stroke-width="0.7" />
<line x1="293.50" y1="601.24" x2="299.90" y2="601.24" stroke="#0f4c81" stroke-width="0.7" />
<rect x="292.80" y="596.69" width="3.2" height="3.2" fill="#0f4c81"/>
<rect x="297.40" y="596.69" width="3.2" height="3.2" fill="#0f4c81"/>
<rect x="292.80" y="603.48" width="3.2" height="3.2" fill="#0f4c81"/>
<rect x="297.40" y="602.74" width="3.2" height="3.2" fill="#0f4c81"/>
<text transform="translate(296.70,592.75)" font-size="6.2" text-anchor="middle" font-weight="normal" fill="#2a2a2a" stroke="#2a2a2a" stroke-width="0.3" >*</text>
<line x1="314.70" y1="620.30" x2="314.70" y2="623.50" stroke="#231f20" stroke-width="0.9" />
<line x1="314.70" y1="575.83" x2="314.70" y2="584.69" stroke="#3bb54a" stroke-width="0.7" />
<line x1="312.10" y1="575.83" x2="317.30" y2="575.83" stroke="#3bb54a" stroke-width="0.7" />
<line x1="312.10" y1="584.69" x2="317.30" y2="584.69" stroke="#3bb54a" stroke-width="0.7" />
<line x1="310.54" y1="580.26" x2="318.86" y2="580.26" stroke="#3bb54a" stroke-width="0.7" />
<polygon points="311.70,574.59 310.09,577.53 313.31,577.53" fill="#3bb54a"/>
<polygon points="317.70,574.59 316.09,577.53 319.31,577.53" fill="#3bb54a"/>
<polygon points="314.70,592.47 313.09,595.41 316.31,595.41" fill="#3bb54a"/>
<text transform="translate(314.70,573.34)" font-size="6.6" text-anchor="middle" font-weight="normal" fill="#333" stroke="#333" stroke-width="0.05" >#</text>
<text transform="translate(281.40,629.40) rotate(-35)" font-size="7.5" text-anchor="end" font-weight="normal" fill="#231f20" stroke="#231f20" stroke-width="0.24" >ApoE<tspan font-size="6.0" dy="-2.4">−/−</tspan></text>
<text transform="translate(299.10,629.40) rotate(-35)" font-size="7.5" text-anchor="end" font-weight="normal" fill="#231f20" stroke="#231f20" stroke-width="0.24" >ApoE<tspan font-size="6.0" dy="-2.4">−/−</tspan><tspan dy="2.4"> +HHcy</tspan></text>
<text transform="translate(317.10,629.40) rotate(-35)" font-size="7.5" text-anchor="end" font-weight="normal" fill="#231f20" stroke="#231f20" stroke-width="0.24" >ApoE<tspan font-size="6.0" dy="-2.4">−/−</tspan><tspan dy="2.4"> +HHcy+mP6</tspan></text>
<text transform="translate(246.00,590.65) rotate(-90) scale(0.764,1)" font-size="8.5" text-anchor="middle" font-weight="normal" fill="#231f20" stroke="#231f20" stroke-width="0.3" >Time to occlusion (min)</text>
<rect x="367.80" y="585.87" width="12.40" height="34.43" fill="#f0a3ad" />
<rect x="384.90" y="611.43" width="13.20" height="8.87" fill="#9fb9d4" />
<rect x="403.20" y="610.55" width="13.00" height="9.75" fill="#b5ddb3" />
<line x1="362.00" y1="560.55" x2="362.00" y2="620.95" stroke="#231f20" stroke-width="1.3" />
<line x1="361.35" y1="620.30" x2="421.00" y2="620.30" stroke="#231f20" stroke-width="1.3" />
<line x1="359.00" y1="561.20" x2="362.00" y2="561.20" stroke="#231f20" stroke-width="0.9" />
<text transform="translate(356.20,563.83)" font-size="7.3" text-anchor="end" font-weight="normal" fill="#231f20" stroke="#231f20" stroke-width="0.24" >400</text>
<line x1="359.00" y1="575.98" x2="362.00" y2="575.98" stroke="#231f20" stroke-width="0.9" />
<text transform="translate(356.20,578.60)" font-size="7.3" text-anchor="end" font-weight="normal" fill="#231f20" stroke="#231f20" stroke-width="0.24" >300</text>
<line x1="359.00" y1="590.75" x2="362.00" y2="590.75" stroke="#231f20" stroke-width="0.9" />
<text transform="translate(356.20,593.38)" font-size="7.3" text-anchor="end" font-weight="normal" fill="#231f20" stroke="#231f20" stroke-width="0.24" >200</text>
<line x1="359.00" y1="605.52" x2="362.00" y2="605.52" stroke="#231f20" stroke-width="0.9" />
<text transform="translate(356.20,608.15)" font-size="7.3" text-anchor="end" font-weight="normal" fill="#231f20" stroke="#231f20" stroke-width="0.24" >100</text>
<line x1="359.00" y1="620.30" x2="362.00" y2="620.30" stroke="#231f20" stroke-width="0.9" />
<text transform="translate(356.20,622.93)" font-size="7.3" text-anchor="end" font-weight="normal" fill="#231f20" stroke="#231f20" stroke-width="0.24" >0</text>
<line x1="374.00" y1="620.30" x2="374.00" y2="623.50" stroke="#231f20" stroke-width="0.9" />
<line x1="374.00" y1="580.56" x2="374.00" y2="591.19" stroke="#c8102e" stroke-width="0.7" />
<line x1="371.60" y1="580.56" x2="376.40" y2="580.56" stroke="#c8102e" stroke-width="0.7" />
<line x1="371.60" y1="591.19" x2="376.40" y2="591.19" stroke="#c8102e" stroke-width="0.7" />
<line x1="370.16" y1="585.87" x2="377.84" y2="585.87" stroke="#c8102e" stroke-width="0.7" />
<circle cx="373.90" cy="568.59" r="1.4" fill="#c8102e"/>
<circle cx="374.00" cy="581.88" r="1.4" fill="#c8102e"/>
<circle cx="371.80" cy="590.75" r="1.4" fill="#c8102e"/>
<circle cx="376.80" cy="592.08" r="1.4" fill="#c8102e"/>
<circle cx="374.50" cy="598.14" r="1.4" fill="#c8102e"/>
<line x1="391.50" y1="620.30" x2="391.50" y2="623.50" stroke="#231f20" stroke-width="0.9" />
<rect x="387.40" y="611.61" width="3.2" height="3.2" fill="#0f4c81"/>
<rect x="389.40" y="609.54" width="3.2" height="3.2" fill="#0f4c81"/>
<rect x="391.40" y="607.18" width="3.2" height="3.2" fill="#0f4c81"/>
<rect x="392.90" y="610.13" width="3.2" height="3.2" fill="#0f4c81"/>
<rect x="390.40" y="612.05" width="3.2" height="3.2" fill="#0f4c81"/>
<rect x="388.40" y="608.36" width="3.2" height="3.2" fill="#0f4c81"/>
<text transform="translate(391.50,604.27)" font-size="6.2" text-anchor="middle" font-weight="normal" fill="#2a2a2a" stroke="#2a2a2a" stroke-width="0.3" >*</text>
<line x1="409.70" y1="620.30" x2="409.70" y2="623.50" stroke="#231f20" stroke-width="0.9" />
<line x1="409.70" y1="609.51" x2="409.70" y2="611.58" stroke="#3bb54a" stroke-width="0.7" />
<line x1="407.70" y1="609.51" x2="411.70" y2="609.51" stroke="#3bb54a" stroke-width="0.7" />
<line x1="407.70" y1="611.58" x2="411.70" y2="611.58" stroke="#3bb54a" stroke-width="0.7" />
<line x1="406.50" y1="610.55" x2="412.90" y2="610.55" stroke="#3bb54a" stroke-width="0.7" />
<polygon points="406.20,607.98 404.59,610.92 407.81,610.92" fill="#3bb54a"/>
<polygon points="408.70,608.87 407.09,611.81 410.31,611.81" fill="#3bb54a"/>
<polygon points="410.70,612.71 409.09,615.65 412.31,615.65" fill="#3bb54a"/>
<polygon points="413.50,605.62 411.89,608.56 415.11,608.56" fill="#3bb54a"/>
<polygon points="411.20,609.75 409.59,612.69 412.81,612.69" fill="#3bb54a"/>
<text transform="translate(409.70,604.27)" font-size="6.2" text-anchor="middle" font-weight="normal" fill="#2a2a2a" stroke="#2a2a2a" stroke-width="0.3" >*</text>
<text transform="translate(376.40,629.40) rotate(-35)" font-size="7.5" text-anchor="end" font-weight="normal" fill="#231f20" stroke="#231f20" stroke-width="0.24" >ApoE<tspan font-size="6.0" dy="-2.4">−/−</tspan></text>
<text transform="translate(393.90,629.40) rotate(-35)" font-size="7.5" text-anchor="end" font-weight="normal" fill="#231f20" stroke="#231f20" stroke-width="0.24" >ApoE<tspan font-size="6.0" dy="-2.4">−/−</tspan><tspan dy="2.4"> +HHcy</tspan></text>
<text transform="translate(412.10,629.40) rotate(-35)" font-size="7.5" text-anchor="end" font-weight="normal" fill="#231f20" stroke="#231f20" stroke-width="0.24" >ApoE<tspan font-size="6.0" dy="-2.4">−/−</tspan><tspan dy="2.4"> +HHcy+mP6</tspan></text>
<text transform="translate(336.80,591.00) rotate(-90) scale(0.775,1)" font-size="8.5" text-anchor="middle" font-weight="normal" fill="#231f20" stroke="#231f20" stroke-width="0.3" >Tail bleeding time (s)</text>
<rect x="460.10" y="584.25" width="12.50" height="36.05" fill="#f0a3ad" />
<rect x="478.00" y="611.43" width="12.40" height="8.87" fill="#9fb9d4" />
<rect x="496.00" y="606.12" width="12.50" height="14.18" fill="#b5ddb3" />
<line x1="454.10" y1="560.55" x2="454.10" y2="620.95" stroke="#231f20" stroke-width="1.3" />
<line x1="453.45" y1="620.30" x2="513.50" y2="620.30" stroke="#231f20" stroke-width="1.3" />
<line x1="451.10" y1="561.20" x2="454.10" y2="561.20" stroke="#231f20" stroke-width="0.9" />
<text transform="translate(448.30,563.83)" font-size="7.3" text-anchor="end" font-weight="normal" fill="#231f20" stroke="#231f20" stroke-width="0.24" >1.5</text>
<line x1="451.10" y1="580.90" x2="454.10" y2="580.90" stroke="#231f20" stroke-width="0.9" />
<text transform="translate(448.30,583.53)" font-size="7.3" text-anchor="end" font-weight="normal" fill="#231f20" stroke="#231f20" stroke-width="0.24" >1.0</text>
<line x1="451.10" y1="600.60" x2="454.10" y2="600.60" stroke="#231f20" stroke-width="0.9" />
<text transform="translate(448.30,603.23)" font-size="7.3" text-anchor="end" font-weight="normal" fill="#231f20" stroke="#231f20" stroke-width="0.24" >0.5</text>
<line x1="451.10" y1="620.30" x2="454.10" y2="620.30" stroke="#231f20" stroke-width="0.9" />
<text transform="translate(448.30,622.93)" font-size="7.3" text-anchor="end" font-weight="normal" fill="#231f20" stroke="#231f20" stroke-width="0.24" >0.0</text>
<line x1="466.35" y1="620.30" x2="466.35" y2="623.50" stroke="#231f20" stroke-width="0.9" />
<line x1="466.35" y1="580.78" x2="466.35" y2="587.72" stroke="#c8102e" stroke-width="0.7" />
<line x1="463.95" y1="580.78" x2="468.75" y2="580.78" stroke="#c8102e" stroke-width="0.7" />
<line x1="463.95" y1="587.72" x2="468.75" y2="587.72" stroke="#c8102e" stroke-width="0.7" />
<line x1="462.51" y1="584.25" x2="470.19" y2="584.25" stroke="#c8102e" stroke-width="0.7" />
<circle cx="466.35" cy="575.19" r="1.4" fill="#c8102e"/>
<circle cx="466.35" cy="580.90" r="1.4" fill="#c8102e"/>
<circle cx="464.05" cy="585.23" r="1.4" fill="#c8102e"/>
<circle cx="469.45" cy="588.58" r="1.4" fill="#c8102e"/>
<circle cx="466.75" cy="594.02" r="1.4" fill="#c8102e"/>
<line x1="484.20" y1="620.30" x2="484.20" y2="623.50" stroke="#231f20" stroke-width="0.9" />
<line x1="484.20" y1="609.86" x2="484.20" y2="613.01" stroke="#0f4c81" stroke-width="0.7" />
<line x1="482.20" y1="609.86" x2="486.20" y2="609.86" stroke="#0f4c81" stroke-width="0.7" />
<line x1="482.20" y1="613.01" x2="486.20" y2="613.01" stroke="#0f4c81" stroke-width="0.7" />
<line x1="481.00" y1="611.43" x2="487.40" y2="611.43" stroke="#0f4c81" stroke-width="0.7" />
<rect x="482.60" y="606.60" width="3.2" height="3.2" fill="#0f4c81"/>
<rect x="479.20" y="608.61" width="3.2" height="3.2" fill="#0f4c81"/>
<rect x="486.80" y="608.61" width="3.2" height="3.2" fill="#0f4c81"/>
<rect x="482.60" y="611.49" width="3.2" height="3.2" fill="#0f4c81"/>
<rect x="482.60" y="615.98" width="3.2" height="3.2" fill="#0f4c81"/>
<text transform="translate(484.20,604.96)" font-size="6.2" text-anchor="middle" font-weight="normal" fill="#2a2a2a" stroke="#2a2a2a" stroke-width="0.3" >*</text>
<line x1="502.25" y1="620.30" x2="502.25" y2="623.50" stroke="#231f20" stroke-width="0.9" />
<line x1="502.25" y1="602.18" x2="502.25" y2="610.06" stroke="#3bb54a" stroke-width="0.7" />
<line x1="499.65" y1="602.18" x2="504.85" y2="602.18" stroke="#3bb54a" stroke-width="0.7" />
<line x1="499.65" y1="610.06" x2="504.85" y2="610.06" stroke="#3bb54a" stroke-width="0.7" />
<line x1="498.09" y1="606.12" x2="506.41" y2="606.12" stroke="#3bb54a" stroke-width="0.7" />
<polygon points="499.85,596.00 498.12,599.15 501.58,599.15" fill="#3bb54a"/>
<polygon points="504.25,596.51 502.52,599.66 505.98,599.66" fill="#3bb54a"/>
<polygon points="502.25,606.40 500.52,609.55 503.98,609.55" fill="#3bb54a"/>
<polygon points="498.75,609.71 497.02,612.86 500.48,612.86" fill="#3bb54a"/>
<polygon points="505.45,610.82 503.72,613.97 507.18,613.97" fill="#3bb54a"/>
<polygon points="502.25,613.81 500.52,616.96 503.98,616.96" fill="#3bb54a"/>
<text transform="translate(502.25,593.14)" font-size="6.2" text-anchor="middle" font-weight="normal" fill="#2a2a2a" stroke="#2a2a2a" stroke-width="0.3" >*</text>
<text transform="translate(468.75,629.40) rotate(-35)" font-size="7.5" text-anchor="end" font-weight="normal" fill="#231f20" stroke="#231f20" stroke-width="0.24" >ApoE<tspan font-size="6.0" dy="-2.4">−/−</tspan></text>
<text transform="translate(486.60,629.40) rotate(-35)" font-size="7.5" text-anchor="end" font-weight="normal" fill="#231f20" stroke="#231f20" stroke-width="0.24" >ApoE<tspan font-size="6.0" dy="-2.4">−/−</tspan><tspan dy="2.4"> +HHcy</tspan></text>
<text transform="translate(504.65,629.40) rotate(-35)" font-size="7.5" text-anchor="end" font-weight="normal" fill="#231f20" stroke="#231f20" stroke-width="0.24" >ApoE<tspan font-size="6.0" dy="-2.4">−/−</tspan><tspan dy="2.4"> +HHcy+mP6</tspan></text>
<text transform="translate(431.40,591.00) rotate(-90) scale(0.725,1)" font-size="8.5" text-anchor="middle" font-weight="normal" fill="#231f20" stroke="#231f20" stroke-width="0.3" >Relative HGB/Ctrl</text>
<text transform="translate(47.50,144.90)" font-size="7.3" text-anchor="end" font-weight="normal" fill="#231f20" stroke="#231f20" stroke-width="0.24" >Hcy</text>
<text transform="translate(61.50,143.90)" font-size="7.4" text-anchor="middle" font-weight="normal" fill="#231f20" stroke="#231f20" stroke-width="0.25" >–</text>
<text transform="translate(76.90,143.90)" font-size="7.4" text-anchor="middle" font-weight="normal" fill="#231f20" stroke="#231f20" stroke-width="0.25" >–</text>
<text transform="translate(92.30,144.90)" font-size="7.4" text-anchor="middle" font-weight="normal" fill="#231f20" stroke="#231f20" stroke-width="0.24" >+</text>
<text transform="translate(108.50,144.90)" font-size="7.4" text-anchor="middle" font-weight="normal" fill="#231f20" stroke="#231f20" stroke-width="0.24" >+</text>
<text transform="translate(47.50,155.10)" font-size="7.3" text-anchor="end" font-weight="normal" fill="#231f20" stroke="#231f20" stroke-width="0.24" >Thrombin</text>
<text transform="translate(61.50,154.10)" font-size="7.4" text-anchor="middle" font-weight="normal" fill="#231f20" stroke="#231f20" stroke-width="0.25" >–</text>
<text transform="translate(76.90,155.10)" font-size="7.4" text-anchor="middle" font-weight="normal" fill="#231f20" stroke="#231f20" stroke-width="0.24" >+</text>
<text transform="translate(92.30,154.10)" font-size="7.4" text-anchor="middle" font-weight="normal" fill="#231f20" stroke="#231f20" stroke-width="0.25" >–</text>
<text transform="translate(108.50,155.10)" font-size="7.4" text-anchor="middle" font-weight="normal" fill="#231f20" stroke="#231f20" stroke-width="0.24" >+</text>
<clipPath id="cb1"><rect x="51.10" y="158.50" width="65.60" height="13.30"/></clipPath>
<rect x="51.10" y="158.50" width="65.60" height="13.30" fill="#e9e9e9" />
<g clip-path="url(#cb1)">
<ellipse cx="60.00" cy="165.25" rx="5.00" ry="1.34" fill="#0d0d0d" opacity="0.06" filter="url(#b1)"/>
<ellipse cx="75.60" cy="165.25" rx="6.15" ry="1.68" fill="#0d0d0d" opacity="0.85" filter="url(#b1)"/>
<rect x="70.43" y="164.35" width="10.33" height="1.80" rx="0.90" fill="#0a0a0a" opacity="0.85" filter="url(#b05)"/>
<ellipse cx="91.50" cy="165.25" rx="5.00" ry="1.34" fill="#0d0d0d" opacity="0.05" filter="url(#b1)"/>
<ellipse cx="106.30" cy="165.25" rx="6.50" ry="2.46" fill="#0d0d0d" opacity="1.0" filter="url(#b1)"/>
<rect x="100.84" y="163.93" width="10.92" height="2.64" rx="1.32" fill="#0a0a0a" opacity="1.0" filter="url(#b05)"/>
</g>
<rect x="51.80" y="159.20" width="64.20" height="11.90" rx="0.7" fill="none" stroke="#151515" stroke-width="1.4"/>
<clipPath id="cb2"><rect x="51.10" y="173.80" width="65.60" height="13.40"/></clipPath>
<rect x="51.10" y="173.80" width="65.60" height="13.40" fill="#e9e9e9" />
<g clip-path="url(#cb2)">
<ellipse cx="60.00" cy="180.60" rx="7.00" ry="2.35" fill="#0d0d0d" opacity="1" filter="url(#b1)"/>
<rect x="54.12" y="179.34" width="11.76" height="2.52" rx="1.26" fill="#0a0a0a" opacity="1" filter="url(#b05)"/>
<ellipse cx="75.60" cy="180.60" rx="7.00" ry="2.35" fill="#0d0d0d" opacity="1" filter="url(#b1)"/>
<rect x="69.72" y="179.34" width="11.76" height="2.52" rx="1.26" fill="#0a0a0a" opacity="1" filter="url(#b05)"/>
<ellipse cx="91.50" cy="180.60" rx="7.00" ry="2.35" fill="#0d0d0d" opacity="1" filter="url(#b1)"/>
<rect x="85.62" y="179.34" width="11.76" height="2.52" rx="1.26" fill="#0a0a0a" opacity="1" filter="url(#b05)"/>
<ellipse cx="106.30" cy="180.60" rx="7.00" ry="2.35" fill="#0d0d0d" opacity="1" filter="url(#b1)"/>
<rect x="100.42" y="179.34" width="11.76" height="2.52" rx="1.26" fill="#0a0a0a" opacity="1" filter="url(#b05)"/>
</g>
<rect x="51.80" y="174.50" width="64.20" height="12.00" rx="0.7" fill="none" stroke="#151515" stroke-width="1.4"/>
<clipPath id="cb3"><rect x="51.10" y="189.20" width="65.60" height="13.50"/></clipPath>
<rect x="51.10" y="189.20" width="65.60" height="13.50" fill="#e9e9e9" />
<g clip-path="url(#cb3)">
<ellipse cx="75.60" cy="196.50" rx="6.00" ry="1.46" fill="#0d0d0d" opacity="0.75" filter="url(#b1)"/>
<rect x="70.56" y="195.72" width="10.08" height="1.56" rx="0.78" fill="#0a0a0a" opacity="0.75" filter="url(#b05)"/>
<ellipse cx="106.30" cy="196.50" rx="6.25" ry="1.57" fill="#0d0d0d" opacity="0.88" filter="url(#b1)"/>
<rect x="101.05" y="195.66" width="10.50" height="1.68" rx="0.84" fill="#0a0a0a" opacity="0.88" filter="url(#b05)"/>
</g>
<rect x="51.80" y="189.90" width="64.20" height="12.10" rx="0.7" fill="none" stroke="#151515" stroke-width="1.4"/>
<clipPath id="cb4"><rect x="51.10" y="204.80" width="65.60" height="13.00"/></clipPath>
<rect x="51.10" y="204.80" width="65.60" height="13.00" fill="#e9e9e9" />
<g clip-path="url(#cb4)">
<ellipse cx="60.00" cy="211.40" rx="7.00" ry="1.46" fill="#0d0d0d" opacity="0.92" filter="url(#b1)"/>
<rect x="54.12" y="210.62" width="11.76" height="1.56" rx="0.78" fill="#0a0a0a" opacity="0.92" filter="url(#b05)"/>
<ellipse cx="75.60" cy="211.40" rx="7.00" ry="1.46" fill="#0d0d0d" opacity="0.92" filter="url(#b1)"/>
<rect x="69.72" y="210.62" width="11.76" height="1.56" rx="0.78" fill="#0a0a0a" opacity="0.92" filter="url(#b05)"/>
<ellipse cx="91.50" cy="211.40" rx="7.00" ry="1.46" fill="#0d0d0d" opacity="0.92" filter="url(#b1)"/>
<rect x="85.62" y="210.62" width="11.76" height="1.56" rx="0.78" fill="#0a0a0a" opacity="0.92" filter="url(#b05)"/>
<ellipse cx="106.30" cy="211.40" rx="7.00" ry="1.46" fill="#0d0d0d" opacity="0.92" filter="url(#b1)"/>
<rect x="100.42" y="210.62" width="11.76" height="1.56" rx="0.78" fill="#0a0a0a" opacity="0.92" filter="url(#b05)"/>
</g>
<rect x="51.80" y="205.50" width="64.20" height="11.60" rx="0.7" fill="none" stroke="#151515" stroke-width="1.4"/>
<clipPath id="cb5"><rect x="51.10" y="219.80" width="65.60" height="13.20"/></clipPath>
<rect x="51.10" y="219.80" width="65.60" height="13.20" fill="#e9e9e9" />
<g clip-path="url(#cb5)">
<ellipse cx="60.00" cy="226.50" rx="7.00" ry="2.91" fill="#0d0d0d" opacity="1" filter="url(#b1)"/>
<rect x="54.12" y="224.94" width="11.76" height="3.12" rx="1.56" fill="#0a0a0a" opacity="1" filter="url(#b05)"/>
<ellipse cx="75.60" cy="226.50" rx="7.00" ry="2.91" fill="#0d0d0d" opacity="1" filter="url(#b1)"/>
<rect x="69.72" y="224.94" width="11.76" height="3.12" rx="1.56" fill="#0a0a0a" opacity="1" filter="url(#b05)"/>
<ellipse cx="91.50" cy="226.50" rx="7.00" ry="2.91" fill="#0d0d0d" opacity="1" filter="url(#b1)"/>
<rect x="85.62" y="224.94" width="11.76" height="3.12" rx="1.56" fill="#0a0a0a" opacity="1" filter="url(#b05)"/>
<ellipse cx="106.30" cy="226.50" rx="7.00" ry="2.91" fill="#0d0d0d" opacity="1" filter="url(#b1)"/>
<rect x="100.42" y="224.94" width="11.76" height="3.12" rx="1.56" fill="#0a0a0a" opacity="1" filter="url(#b05)"/>
</g>
<rect x="51.80" y="220.50" width="64.20" height="11.80" rx="0.7" fill="none" stroke="#151515" stroke-width="1.4"/>
<text transform="translate(47.50,168.60)" font-size="7.3" text-anchor="end" font-weight="normal" fill="#231f20" stroke="#231f20" stroke-width="0.24" >p-AKT<tspan font-size="6" dy="-2.3" stroke-width="0.12">Ser473</tspan></text>
<text transform="translate(47.50,183.00)" font-size="7.3" text-anchor="end" font-weight="normal" fill="#231f20" stroke="#231f20" stroke-width="0.24" >t-AKT</text>
<text transform="translate(47.50,198.80)" font-size="7.3" text-anchor="end" font-weight="normal" fill="#231f20" stroke="#231f20" stroke-width="0.24" >p-SRC<tspan font-size="6" dy="-2.3" stroke-width="0.12">Tyr416</tspan></text>
<text transform="translate(47.50,211.80)" font-size="7.3" text-anchor="end" font-weight="normal" fill="#231f20" stroke="#231f20" stroke-width="0.24" >t-SRC</text>
<text transform="translate(47.50,227.60)" font-size="7.3" text-anchor="end" font-weight="normal" fill="#231f20" stroke="#231f20" stroke-width="0.24" >β-Actin</text>
<text transform="translate(47.50,259.60)" font-size="7.3" text-anchor="end" font-weight="normal" fill="#231f20" stroke="#231f20" stroke-width="0.24" >Hcy</text>
<text transform="translate(56.70,258.60)" font-size="7.4" text-anchor="middle" font-weight="normal" fill="#231f20" stroke="#231f20" stroke-width="0.25" >–</text>
<text transform="translate(66.50,258.60)" font-size="7.4" text-anchor="middle" font-weight="normal" fill="#231f20" stroke="#231f20" stroke-width="0.25" >–</text>
<text transform="translate(76.30,258.60)" font-size="7.4" text-anchor="middle" font-weight="normal" fill="#231f20" stroke="#231f20" stroke-width="0.25" >–</text>
<text transform="translate(86.70,259.60)" font-size="7.4" text-anchor="middle" font-weight="normal" fill="#231f20" stroke="#231f20" stroke-width="0.24" >+</text>
<text transform="translate(98.20,259.60)" font-size="7.4" text-anchor="middle" font-weight="normal" fill="#231f20" stroke="#231f20" stroke-width="0.24" >+</text>
<text transform="translate(109.80,259.60)" font-size="7.4" text-anchor="middle" font-weight="normal" fill="#231f20" stroke="#231f20" stroke-width="0.24" >+</text>
<text transform="translate(47.50,269.30)" font-size="7.3" text-anchor="end" font-weight="normal" fill="#231f20" stroke="#231f20" stroke-width="0.24" >Thrombin</text>
<text transform="translate(56.70,268.30)" font-size="7.4" text-anchor="middle" font-weight="normal" fill="#231f20" stroke="#231f20" stroke-width="0.25" >–</text>
<text transform="translate(66.50,269.30)" font-size="7.4" text-anchor="middle" font-weight="normal" fill="#231f20" stroke="#231f20" stroke-width="0.24" >+</text>
<text transform="translate(76.30,269.30)" font-size="7.4" text-anchor="middle" font-weight="normal" fill="#231f20" stroke="#231f20" stroke-width="0.24" >+</text>
<text transform="translate(86.70,268.30)" font-size="7.4" text-anchor="middle" font-weight="normal" fill="#231f20" stroke="#231f20" stroke-width="0.25" >–</text>
<text transform="translate(98.20,269.30)" font-size="7.4" text-anchor="middle" font-weight="normal" fill="#231f20" stroke="#231f20" stroke-width="0.24" >+</text>
<text transform="translate(109.80,269.30)" font-size="7.4" text-anchor="middle" font-weight="normal" fill="#231f20" stroke="#231f20" stroke-width="0.24" >+</text>
<text transform="translate(47.50,278.00)" font-size="7.3" text-anchor="end" font-weight="normal" fill="#231f20" stroke="#231f20" stroke-width="0.24" >mP6</text>
<text transform="translate(56.70,277.00)" font-size="7.4" text-anchor="middle" font-weight="normal" fill="#231f20" stroke="#231f20" stroke-width="0.25" >–</text>
<text transform="translate(66.50,277.00)" font-size="7.4" text-anchor="middle" font-weight="normal" fill="#231f20" stroke="#231f20" stroke-width="0.25" >–</text>
<text transform="translate(76.30,278.00)" font-size="7.4" text-anchor="middle" font-weight="normal" fill="#231f20" stroke="#231f20" stroke-width="0.24" >+</text>
<text transform="translate(86.70,277.00)" font-size="7.4" text-anchor="middle" font-weight="normal" fill="#231f20" stroke="#231f20" stroke-width="0.25" >–</text>
<text transform="translate(98.20,277.00)" font-size="7.4" text-anchor="middle" font-weight="normal" fill="#231f20" stroke="#231f20" stroke-width="0.25" >–</text>
<text transform="translate(109.80,278.00)" font-size="7.4" text-anchor="middle" font-weight="normal" fill="#231f20" stroke="#231f20" stroke-width="0.24" >+</text>
<clipPath id="cb6"><rect x="51.10" y="280.90" width="66.00" height="12.90"/></clipPath>
<rect x="51.10" y="280.90" width="66.00" height="12.90" fill="#e9e9e9" />
<g clip-path="url(#cb6)">
<ellipse cx="67.90" cy="286.80" rx="4.40" ry="1.57" fill="#0d0d0d" opacity="0.95" filter="url(#b1)"/>
<rect x="64.20" y="285.96" width="7.39" height="1.68" rx="0.84" fill="#0a0a0a" opacity="0.95" filter="url(#b05)"/>
<ellipse cx="78.30" cy="286.80" rx="4.00" ry="1.12" fill="#0d0d0d" opacity="0.6" filter="url(#b1)"/>
<ellipse cx="98.60" cy="286.80" rx="4.90" ry="1.90" fill="#0d0d0d" opacity="1" filter="url(#b1)"/>
<rect x="94.48" y="285.78" width="8.23" height="2.04" rx="1.02" fill="#0a0a0a" opacity="1" filter="url(#b05)"/>
<ellipse cx="109.40" cy="286.80" rx="4.60" ry="1.34" fill="#0d0d0d" opacity="0.85" filter="url(#b1)"/>
<rect x="105.54" y="286.08" width="7.73" height="1.44" rx="0.72" fill="#0a0a0a" opacity="0.85" filter="url(#b05)"/>
</g>
<rect x="51.80" y="281.60" width="64.60" height="11.50" rx="0.7" fill="none" stroke="#151515" stroke-width="1.4"/>
<clipPath id="cb7"><rect x="51.10" y="296.20" width="66.00" height="13.20"/></clipPath>
<rect x="51.10" y="296.20" width="66.00" height="13.20" fill="#e9e9e9" />
<g clip-path="url(#cb7)">
<ellipse cx="57.50" cy="302.90" rx="4.90" ry="2.02" fill="#0d0d0d" opacity="1" filter="url(#b1)"/>
<rect x="53.38" y="301.82" width="8.23" height="2.16" rx="1.08" fill="#0a0a0a" opacity="1" filter="url(#b05)"/>
<ellipse cx="67.90" cy="302.90" rx="4.90" ry="2.02" fill="#0d0d0d" opacity="1" filter="url(#b1)"/>
<rect x="63.78" y="301.82" width="8.23" height="2.16" rx="1.08" fill="#0a0a0a" opacity="1" filter="url(#b05)"/>
<ellipse cx="78.30" cy="302.90" rx="4.90" ry="2.02" fill="#0d0d0d" opacity="1" filter="url(#b1)"/>
<rect x="74.18" y="301.82" width="8.23" height="2.16" rx="1.08" fill="#0a0a0a" opacity="1" filter="url(#b05)"/>
<ellipse cx="88.30" cy="302.90" rx="4.90" ry="2.02" fill="#0d0d0d" opacity="1" filter="url(#b1)"/>
<rect x="84.18" y="301.82" width="8.23" height="2.16" rx="1.08" fill="#0a0a0a" opacity="1" filter="url(#b05)"/>
<ellipse cx="98.60" cy="302.90" rx="4.90" ry="2.02" fill="#0d0d0d" opacity="1" filter="url(#b1)"/>
<rect x="94.48" y="301.82" width="8.23" height="2.16" rx="1.08" fill="#0a0a0a" opacity="1" filter="url(#b05)"/>
<ellipse cx="109.40" cy="302.90" rx="4.90" ry="2.02" fill="#0d0d0d" opacity="1" filter="url(#b1)"/>
<rect x="105.28" y="301.82" width="8.23" height="2.16" rx="1.08" fill="#0a0a0a" opacity="1" filter="url(#b05)"/>
</g>
<rect x="51.80" y="296.90" width="64.60" height="11.80" rx="0.7" fill="none" stroke="#151515" stroke-width="1.4"/>
<clipPath id="cb8"><rect x="51.10" y="311.50" width="66.00" height="13.10"/></clipPath>
<rect x="51.10" y="311.50" width="66.00" height="13.10" fill="#e9e9e9" />
<g clip-path="url(#cb8)">
<ellipse cx="67.90" cy="317.80" rx="4.40" ry="1.34" fill="#0d0d0d" opacity="0.9" filter="url(#b1)"/>
<rect x="64.20" y="317.08" width="7.39" height="1.44" rx="0.72" fill="#0a0a0a" opacity="0.9" filter="url(#b05)"/>
<ellipse cx="78.30" cy="317.80" rx="3.90" ry="1.01" fill="#0d0d0d" opacity="0.35" filter="url(#b1)"/>
<ellipse cx="98.60" cy="317.80" rx="4.60" ry="1.57" fill="#0d0d0d" opacity="1" filter="url(#b1)"/>
<rect x="94.74" y="316.96" width="7.73" height="1.68" rx="0.84" fill="#0a0a0a" opacity="1" filter="url(#b05)"/>
<ellipse cx="109.40" cy="317.80" rx="4.00" ry="1.01" fill="#0d0d0d" opacity="0.5" filter="url(#b1)"/>
</g>
<rect x="51.80" y="312.20" width="64.60" height="11.70" rx="0.7" fill="none" stroke="#151515" stroke-width="1.4"/>
<clipPath id="cb9"><rect x="51.10" y="327.20" width="66.00" height="12.30"/></clipPath>
<rect x="51.10" y="327.20" width="66.00" height="12.30" fill="#e9e9e9" />
<g clip-path="url(#cb9)">
<ellipse cx="57.50" cy="333.45" rx="4.90" ry="1.34" fill="#0d0d0d" opacity="0.92" filter="url(#b1)"/>
<rect x="53.38" y="332.73" width="8.23" height="1.44" rx="0.72" fill="#0a0a0a" opacity="0.92" filter="url(#b05)"/>
<ellipse cx="67.90" cy="333.45" rx="4.90" ry="1.34" fill="#0d0d0d" opacity="0.92" filter="url(#b1)"/>
<rect x="63.78" y="332.73" width="8.23" height="1.44" rx="0.72" fill="#0a0a0a" opacity="0.92" filter="url(#b05)"/>
<ellipse cx="78.30" cy="333.45" rx="4.90" ry="1.34" fill="#0d0d0d" opacity="0.92" filter="url(#b1)"/>
<rect x="74.18" y="332.73" width="8.23" height="1.44" rx="0.72" fill="#0a0a0a" opacity="0.92" filter="url(#b05)"/>
<ellipse cx="88.30" cy="333.45" rx="4.90" ry="1.34" fill="#0d0d0d" opacity="0.92" filter="url(#b1)"/>
<rect x="84.18" y="332.73" width="8.23" height="1.44" rx="0.72" fill="#0a0a0a" opacity="0.92" filter="url(#b05)"/>
<ellipse cx="98.60" cy="333.45" rx="4.90" ry="1.34" fill="#0d0d0d" opacity="0.92" filter="url(#b1)"/>
<rect x="94.48" y="332.73" width="8.23" height="1.44" rx="0.72" fill="#0a0a0a" opacity="0.92" filter="url(#b05)"/>
<ellipse cx="109.40" cy="333.45" rx="4.90" ry="1.34" fill="#0d0d0d" opacity="0.92" filter="url(#b1)"/>
<rect x="105.28" y="332.73" width="8.23" height="1.44" rx="0.72" fill="#0a0a0a" opacity="0.92" filter="url(#b05)"/>
</g>
<rect x="51.80" y="327.90" width="64.60" height="10.90" rx="0.7" fill="none" stroke="#151515" stroke-width="1.4"/>
<clipPath id="cb10"><rect x="51.10" y="342.20" width="66.00" height="12.60"/></clipPath>
<rect x="51.10" y="342.20" width="66.00" height="12.60" fill="#e9e9e9" />
<g clip-path="url(#cb10)">
<ellipse cx="57.50" cy="348.60" rx="5.10" ry="1.90" fill="#0d0d0d" opacity="1" filter="url(#b1)"/>
<rect x="53.22" y="347.58" width="8.57" height="2.04" rx="1.02" fill="#0a0a0a" opacity="1" filter="url(#b05)"/>
<ellipse cx="67.90" cy="348.60" rx="5.10" ry="1.90" fill="#0d0d0d" opacity="1" filter="url(#b1)"/>
<rect x="63.62" y="347.58" width="8.57" height="2.04" rx="1.02" fill="#0a0a0a" opacity="1" filter="url(#b05)"/>
<ellipse cx="78.30" cy="348.60" rx="5.10" ry="1.90" fill="#0d0d0d" opacity="1" filter="url(#b1)"/>
<rect x="74.02" y="347.58" width="8.57" height="2.04" rx="1.02" fill="#0a0a0a" opacity="1" filter="url(#b05)"/>
<ellipse cx="88.30" cy="348.60" rx="5.10" ry="1.90" fill="#0d0d0d" opacity="1" filter="url(#b1)"/>
<rect x="84.02" y="347.58" width="8.57" height="2.04" rx="1.02" fill="#0a0a0a" opacity="1" filter="url(#b05)"/>
<ellipse cx="98.60" cy="348.60" rx="5.10" ry="1.90" fill="#0d0d0d" opacity="1" filter="url(#b1)"/>
<rect x="94.32" y="347.58" width="8.57" height="2.04" rx="1.02" fill="#0a0a0a" opacity="1" filter="url(#b05)"/>
<ellipse cx="109.40" cy="348.60" rx="5.10" ry="1.90" fill="#0d0d0d" opacity="1" filter="url(#b1)"/>
<rect x="105.12" y="347.58" width="8.57" height="2.04" rx="1.02" fill="#0a0a0a" opacity="1" filter="url(#b05)"/>
</g>
<rect x="51.80" y="342.90" width="64.60" height="11.20" rx="0.7" fill="none" stroke="#151515" stroke-width="1.4"/>
<text transform="translate(47.50,289.80)" font-size="7.3" text-anchor="end" font-weight="normal" fill="#231f20" stroke="#231f20" stroke-width="0.24" >p-AKT<tspan font-size="6" dy="-2.3" stroke-width="0.12">Ser473</tspan></text>
<text transform="translate(47.50,305.50)" font-size="7.3" text-anchor="end" font-weight="normal" fill="#231f20" stroke="#231f20" stroke-width="0.24" >t-AKT</text>
<text transform="translate(47.50,321.00)" font-size="7.3" text-anchor="end" font-weight="normal" fill="#231f20" stroke="#231f20" stroke-width="0.24" >p-SRC<tspan font-size="6" dy="-2.3" stroke-width="0.12">Tyr416</tspan></text>
<text transform="translate(47.50,336.00)" font-size="7.3" text-anchor="end" font-weight="normal" fill="#231f20" stroke="#231f20" stroke-width="0.24" >t-SRC</text>
<text transform="translate(47.50,351.00)" font-size="7.3" text-anchor="end" font-weight="normal" fill="#231f20" stroke="#231f20" stroke-width="0.24" >β-Actin</text>
<text transform="translate(385.90,152.80)" font-size="7.3" text-anchor="start" font-weight="normal" fill="#231f20" stroke="#231f20" stroke-width="0.24" >IP:</text>
<text transform="translate(401.00,155.80)" font-size="7.3" text-anchor="start" font-weight="normal" fill="#231f20" stroke="#231f20" stroke-width="0.24" >IgG</text>
<text transform="translate(458.50,155.60)" font-size="7.3" text-anchor="middle" font-weight="normal" fill="#231f20" stroke="#231f20" stroke-width="0.24" >Anti-β3</text>
<line x1="421.30" y1="160.20" x2="498.40" y2="160.20" stroke="#231f20" stroke-width="1.1" />
<text transform="translate(393.70,168.80)" font-size="7.3" text-anchor="end" font-weight="normal" fill="#231f20" stroke="#231f20" stroke-width="0.24" >Hcy</text>
<text transform="translate(420.60,167.80)" font-size="7.4" text-anchor="middle" font-weight="normal" fill="#231f20" stroke="#231f20" stroke-width="0.25" >–</text>
<text transform="translate(433.50,167.80)" font-size="7.4" text-anchor="middle" font-weight="normal" fill="#231f20" stroke="#231f20" stroke-width="0.25" >–</text>
<text transform="translate(446.30,167.80)" font-size="7.4" text-anchor="middle" font-weight="normal" fill="#231f20" stroke="#231f20" stroke-width="0.25" >–</text>
<text transform="translate(460.60,167.80)" font-size="7.4" text-anchor="middle" font-weight="normal" fill="#231f20" stroke="#231f20" stroke-width="0.25" >–</text>
<text transform="translate(474.00,168.80)" font-size="7.4" text-anchor="middle" font-weight="normal" fill="#231f20" stroke="#231f20" stroke-width="0.24" >+</text>
<text transform="translate(486.30,168.80)" font-size="7.4" text-anchor="middle" font-weight="normal" fill="#231f20" stroke="#231f20" stroke-width="0.24" >+</text>
<text transform="translate(502.00,168.80)" font-size="7.4" text-anchor="middle" font-weight="normal" fill="#231f20" stroke="#231f20" stroke-width="0.24" >+</text>
<text transform="translate(393.70,181.00)" font-size="7.3" text-anchor="end" font-weight="normal" fill="#231f20" stroke="#231f20" stroke-width="0.24" >Thrombin</text>
<text transform="translate(420.60,180.00)" font-size="7.4" text-anchor="middle" font-weight="normal" fill="#231f20" stroke="#231f20" stroke-width="0.25" >–</text>
<text transform="translate(433.50,181.00)" font-size="7.4" text-anchor="middle" font-weight="normal" fill="#231f20" stroke="#231f20" stroke-width="0.24" >+</text>
<text transform="translate(446.30,181.00)" font-size="7.4" text-anchor="middle" font-weight="normal" fill="#231f20" stroke="#231f20" stroke-width="0.24" >+</text>
<text transform="translate(460.60,181.00)" font-size="7.4" text-anchor="middle" font-weight="normal" fill="#231f20" stroke="#231f20" stroke-width="0.24" >+</text>
<text transform="translate(474.00,181.00)" font-size="7.4" text-anchor="middle" font-weight="normal" fill="#231f20" stroke="#231f20" stroke-width="0.24" >+</text>
<text transform="translate(486.30,181.00)" font-size="7.4" text-anchor="middle" font-weight="normal" fill="#231f20" stroke="#231f20" stroke-width="0.24" >+</text>
<text transform="translate(502.00,181.00)" font-size="7.4" text-anchor="middle" font-weight="normal" fill="#231f20" stroke="#231f20" stroke-width="0.24" >+</text>
<text transform="translate(393.70,189.60)" font-size="7.3" text-anchor="end" font-weight="normal" fill="#231f20" stroke="#231f20" stroke-width="0.24" >Time</text>
<text transform="translate(420.60,190.30)" font-size="7.3" text-anchor="middle" font-weight="normal" fill="#231f20" stroke="#231f20" stroke-width="0.24" >0</text>
<text transform="translate(433.50,190.30)" font-size="7.3" text-anchor="middle" font-weight="normal" fill="#231f20" stroke="#231f20" stroke-width="0.24" >2</text>
<text transform="translate(446.30,190.30)" font-size="7.3" text-anchor="middle" font-weight="normal" fill="#231f20" stroke="#231f20" stroke-width="0.24" >5</text>
<text transform="translate(460.60,190.30)" font-size="7.3" text-anchor="middle" font-weight="normal" fill="#231f20" stroke="#231f20" stroke-width="0.24" >10</text>
<text transform="translate(474.00,190.30)" font-size="7.3" text-anchor="middle" font-weight="normal" fill="#231f20" stroke="#231f20" stroke-width="0.24" >2</text>
<text transform="translate(486.30,190.30)" font-size="7.3" text-anchor="middle" font-weight="normal" fill="#231f20" stroke="#231f20" stroke-width="0.24" >5</text>
<text transform="translate(502.00,190.30)" font-size="7.3" text-anchor="middle" font-weight="normal" fill="#231f20" stroke="#231f20" stroke-width="0.24" >10</text>
<clipPath id="cb11"><rect x="396.90" y="191.50" width="111.85" height="14.10"/></clipPath>
<rect x="396.90" y="191.50" width="111.85" height="14.10" fill="#e9e9e9" />
<g clip-path="url(#cb11)">
<ellipse cx="420.00" cy="198.65" rx="6.20" ry="2.02" fill="#0d0d0d" opacity="1" filter="url(#b1)"/>
<rect x="414.79" y="197.57" width="10.42" height="2.16" rx="1.08" fill="#0a0a0a" opacity="1" filter="url(#b05)"/>
<ellipse cx="433.10" cy="198.65" rx="6.20" ry="2.02" fill="#0d0d0d" opacity="1" filter="url(#b1)"/>
<rect x="427.89" y="197.57" width="10.42" height="2.16" rx="1.08" fill="#0a0a0a" opacity="1" filter="url(#b05)"/>
<ellipse cx="446.90" cy="198.65" rx="6.20" ry="2.02" fill="#0d0d0d" opacity="1" filter="url(#b1)"/>
<rect x="441.69" y="197.57" width="10.42" height="2.16" rx="1.08" fill="#0a0a0a" opacity="1" filter="url(#b05)"/>
<ellipse cx="460.30" cy="198.65" rx="6.20" ry="2.02" fill="#0d0d0d" opacity="1" filter="url(#b1)"/>
<rect x="455.09" y="197.57" width="10.42" height="2.16" rx="1.08" fill="#0a0a0a" opacity="1" filter="url(#b05)"/>
<ellipse cx="474.00" cy="198.65" rx="6.20" ry="2.02" fill="#0d0d0d" opacity="1" filter="url(#b1)"/>
<rect x="468.79" y="197.57" width="10.42" height="2.16" rx="1.08" fill="#0a0a0a" opacity="1" filter="url(#b05)"/>
<ellipse cx="487.70" cy="198.65" rx="6.20" ry="2.02" fill="#0d0d0d" opacity="1" filter="url(#b1)"/>
<rect x="482.49" y="197.57" width="10.42" height="2.16" rx="1.08" fill="#0a0a0a" opacity="1" filter="url(#b05)"/>
<ellipse cx="501.00" cy="198.65" rx="6.20" ry="2.02" fill="#0d0d0d" opacity="1" filter="url(#b1)"/>
<rect x="495.79" y="197.57" width="10.42" height="2.16" rx="1.08" fill="#0a0a0a" opacity="1" filter="url(#b05)"/>
</g>
<rect x="397.60" y="192.20" width="110.45" height="12.70" rx="0.7" fill="none" stroke="#151515" stroke-width="1.4"/>
<clipPath id="cb12"><rect x="396.90" y="206.90" width="111.85" height="14.60"/></clipPath>
<rect x="396.90" y="206.90" width="111.85" height="14.60" fill="#e9e9e9" />
<g clip-path="url(#cb12)">
<ellipse cx="433.10" cy="213.30" rx="5.00" ry="1.46" fill="#0d0d0d" opacity="0.3" filter="url(#b1)"/>
<ellipse cx="446.90" cy="213.30" rx="5.50" ry="1.79" fill="#0d0d0d" opacity="0.5" filter="url(#b1)"/>
<ellipse cx="460.30" cy="213.30" rx="6.00" ry="2.35" fill="#0d0d0d" opacity="0.9" filter="url(#b1)"/>
<rect x="455.26" y="212.04" width="10.08" height="2.52" rx="1.26" fill="#0a0a0a" opacity="0.9" filter="url(#b05)"/>
<ellipse cx="474.00" cy="213.30" rx="5.25" ry="1.68" fill="#0d0d0d" opacity="0.45" filter="url(#b1)"/>
<ellipse cx="487.70" cy="213.30" rx="6.15" ry="2.46" fill="#0d0d0d" opacity="0.95" filter="url(#b1)"/>
<rect x="482.53" y="211.98" width="10.33" height="2.64" rx="1.32" fill="#0a0a0a" opacity="0.95" filter="url(#b05)"/>
<ellipse cx="501.00" cy="213.30" rx="6.25" ry="2.58" fill="#0d0d0d" opacity="0.95" filter="url(#b1)"/>
<rect x="495.75" y="211.92" width="10.50" height="2.76" rx="1.38" fill="#0a0a0a" opacity="0.95" filter="url(#b05)"/>
</g>
<rect x="397.60" y="207.60" width="110.45" height="13.20" rx="0.7" fill="none" stroke="#151515" stroke-width="1.4"/>
<text transform="translate(393.70,201.60)" font-size="7.3" text-anchor="end" font-weight="normal" fill="#231f20" stroke="#231f20" stroke-width="0.24" >β3</text>
<text transform="translate(393.70,217.80)" font-size="7.3" text-anchor="end" font-weight="normal" fill="#231f20" stroke="#231f20" stroke-width="0.24" >Gα13</text>
<text transform="translate(289.80,21.00)" font-size="7.0" text-anchor="middle" font-weight="normal" fill="#231f20" stroke="#231f20" stroke-width="0.12" >Th 0</text>
<text transform="translate(353.00,21.00)" font-size="7.0" text-anchor="middle" font-weight="normal" fill="#231f20" stroke="#231f20" stroke-width="0.12" >Th 0.006</text>
<text transform="translate(254.20,46.00) rotate(-90)" font-size="7.0" text-anchor="middle" font-weight="normal" fill="#231f20" stroke="#231f20" stroke-width="0.24" >Ctrl</text>
<text transform="translate(254.20,89.50) rotate(-90)" font-size="7.0" text-anchor="middle" font-weight="normal" fill="#231f20" stroke="#231f20" stroke-width="0.24" >Hcy</text>
<rect x="257.80" y="24.90" width="127.20" height="85.50" fill="#0a1f0b" />
<clipPath id="mc1"><rect x="257.80" y="24.90" width="63.80" height="42.70"/></clipPath>
<g clip-path="url(#mc1)">
<rect x="257.80" y="24.90" width="63.80" height="42.70" fill="#0b1f0c" />
<g fill="#187024" opacity="0.5" filter="url(#b2)">
<circle cx="271.0" cy="27.0" r="3.22"/>
<circle cx="281.5" cy="27.9" r="3.22"/>
<circle cx="311.6" cy="31.8" r="3.22"/>
<circle cx="315.5" cy="36.6" r="3.22"/>
<circle cx="293.3" cy="35.7" r="3.22"/>
<circle cx="281.5" cy="38.7" r="3.22"/>
<circle cx="299.2" cy="39.0" r="3.22"/>
<circle cx="308.3" cy="39.0" r="3.22"/>
<circle cx="305.0" cy="42.7" r="3.22"/>
<circle cx="307.7" cy="44.5" r="3.22"/>
<circle cx="265.4" cy="40.3" r="3.22"/>
<circle cx="269.1" cy="42.9" r="3.22"/>
<circle cx="276.9" cy="42.9" r="3.22"/>
<circle cx="261.9" cy="49.5" r="3.22"/>
<circle cx="317.5" cy="49.5" r="3.22"/>
<circle cx="302.4" cy="53.1" r="3.22"/>
<circle cx="299.8" cy="57.6" r="3.22"/>
<circle cx="302.8" cy="63.8" r="3.22"/>
<circle cx="323.3" cy="27.2" r="3.22"/>
<ellipse cx="283.5" cy="52.3" rx="3.22" ry="1.90" transform="rotate(-40 283.5 52.3)"/>
<ellipse cx="276.3" cy="64.1" rx="2.28" ry="3.41" transform="rotate(10 276.3 64.1)"/>
</g>
<g fill="#2ab842" opacity="0.95" filter="url(#b05)">
<circle cx="271.0" cy="27.0" r="2.22"/>
<circle cx="281.5" cy="27.9" r="2.22"/>
<circle cx="311.6" cy="31.8" r="2.22"/>
<circle cx="315.5" cy="36.6" r="2.22"/>
<circle cx="293.3" cy="35.7" r="2.22"/>
<circle cx="281.5" cy="38.7" r="2.22"/>
<circle cx="299.2" cy="39.0" r="2.22"/>
<circle cx="308.3" cy="39.0" r="2.22"/>
<circle cx="305.0" cy="42.7" r="2.22"/>
<circle cx="307.7" cy="44.5" r="2.22"/>
<circle cx="265.4" cy="40.3" r="2.22"/>
<circle cx="269.1" cy="42.9" r="2.22"/>
<circle cx="276.9" cy="42.9" r="2.22"/>
<circle cx="261.9" cy="49.5" r="2.22"/>
<circle cx="317.5" cy="49.5" r="2.22"/>
<circle cx="302.4" cy="53.1" r="2.22"/>
<circle cx="299.8" cy="57.6" r="2.22"/>
<circle cx="302.8" cy="63.8" r="2.22"/>
<circle cx="323.3" cy="27.2" r="2.22"/>
<ellipse cx="283.5" cy="52.3" rx="2.22" ry="1.31" transform="rotate(-40 283.5 52.3)"/>
<ellipse cx="276.3" cy="64.1" rx="1.57" ry="2.35" transform="rotate(10 276.3 64.1)"/>
</g>
<g fill="#84e65c" opacity="0.7" filter="url(#b05)">
<circle cx="271.0" cy="27.0" r="1.22"/>
<circle cx="281.5" cy="27.9" r="1.22"/>
<circle cx="311.6" cy="31.8" r="1.22"/>
<circle cx="315.5" cy="36.6" r="1.22"/>
<circle cx="293.3" cy="35.7" r="1.22"/>
<circle cx="281.5" cy="38.7" r="1.22"/>
<circle cx="299.2" cy="39.0" r="1.22"/>
<circle cx="308.3" cy="39.0" r="1.22"/>
<circle cx="305.0" cy="42.7" r="1.22"/>
<circle cx="307.7" cy="44.5" r="1.22"/>
<circle cx="265.4" cy="40.3" r="1.22"/>
<circle cx="269.1" cy="42.9" r="1.22"/>
<circle cx="276.9" cy="42.9" r="1.22"/>
<circle cx="261.9" cy="49.5" r="1.22"/>
<circle cx="317.5" cy="49.5" r="1.22"/>
<circle cx="302.4" cy="53.1" r="1.22"/>
<circle cx="299.8" cy="57.6" r="1.22"/>
<circle cx="302.8" cy="63.8" r="1.22"/>
<circle cx="323.3" cy="27.2" r="1.22"/>
<ellipse cx="283.5" cy="52.3" rx="1.22" ry="0.72" transform="rotate(-40 283.5 52.3)"/>
<ellipse cx="276.3" cy="64.1" rx="0.86" ry="1.29" transform="rotate(10 276.3 64.1)"/>
</g>
</g>
<clipPath id="mc2"><rect x="321.60" y="24.90" width="63.40" height="42.70"/></clipPath>
<g clip-path="url(#mc2)">
<rect x="321.60" y="24.90" width="63.40" height="42.70" fill="#0b230e" />
<g fill="#187024" opacity="0.5" filter="url(#b2)">
<ellipse cx="324.6" cy="27.9" rx="2.65" ry="4.17" transform="rotate(10 324.6 27.9)"/>
<ellipse cx="332.4" cy="26.6" rx="1.90" ry="1.52"/>
<ellipse cx="347.5" cy="29.2" rx="5.69" ry="2.65" transform="rotate(-45 347.5 29.2)"/>
<ellipse cx="374.3" cy="27.9" rx="2.65" ry="5.31" transform="rotate(15 374.3 27.9)"/>
<ellipse cx="380.2" cy="27.9" rx="4.17" ry="5.31"/>
<ellipse cx="384.1" cy="33.1" rx="1.90" ry="2.65"/>
<ellipse cx="331.8" cy="36.4" rx="6.07" ry="3.03" transform="rotate(-30 331.8 36.4)"/>
<ellipse cx="337.7" cy="38.7" rx="3.03" ry="2.65"/>
<ellipse cx="344.8" cy="39.0" rx="6.07" ry="2.28" transform="rotate(5 344.8 39.0)"/>
<circle cx="350.7" cy="35.1" r="3.03"/>
<ellipse cx="353.3" cy="39.0" rx="2.65" ry="5.31" transform="rotate(25 353.3 39.0)"/>
<circle cx="362.5" cy="38.3" r="3.03"/>
<ellipse cx="368.6" cy="37.7" rx="3.79" ry="5.31" transform="rotate(-10 368.6 37.7)"/>
<ellipse cx="337.0" cy="43.6" rx="6.45" ry="1.90" transform="rotate(25 337.0 43.6)"/>
<ellipse cx="322.0" cy="36.4" rx="1.90" ry="3.79"/>
<ellipse cx="343.5" cy="46.8" rx="4.17" ry="2.28" transform="rotate(-30 343.5 46.8)"/>
<ellipse cx="346.8" cy="51.8" rx="2.65" ry="3.41"/>
<ellipse cx="361.2" cy="47.5" rx="2.28" ry="6.83" transform="rotate(-25 361.2 47.5)"/>
<ellipse cx="322.6" cy="53.4" rx="1.90" ry="3.79"/>
<ellipse cx="339.6" cy="55.7" rx="4.93" ry="3.03" transform="rotate(10 339.6 55.7)"/>
<ellipse cx="327.2" cy="59.3" rx="6.07" ry="2.28" transform="rotate(-45 327.2 59.3)"/>
<ellipse cx="328.5" cy="64.5" rx="3.03" ry="2.65"/>
<ellipse cx="349.4" cy="59.3" rx="6.07" ry="2.65" transform="rotate(10 349.4 59.3)"/>
<ellipse cx="365.1" cy="54.7" rx="4.93" ry="2.28" transform="rotate(-30 365.1 54.7)"/>
<circle cx="369.7" cy="58.6" r="4.55"/>
<circle cx="363.2" cy="64.5" r="3.03"/>
<ellipse cx="382.1" cy="65.8" rx="3.79" ry="1.90"/>
<ellipse cx="346.8" cy="67.1" rx="3.03" ry="1.52"/>
</g>
<g fill="#2ab842" opacity="0.95" filter="url(#b05)">
<ellipse cx="324.6" cy="27.9" rx="1.83" ry="2.88" transform="rotate(10 324.6 27.9)"/>
<ellipse cx="332.4" cy="26.6" rx="1.31" ry="1.05"/>
<ellipse cx="347.5" cy="29.2" rx="3.92" ry="1.83" transform="rotate(-45 347.5 29.2)"/>
<ellipse cx="374.3" cy="27.9" rx="1.83" ry="3.66" transform="rotate(15 374.3 27.9)"/>
<ellipse cx="380.2" cy="27.9" rx="2.88" ry="3.66"/>
<ellipse cx="384.1" cy="33.1" rx="1.31" ry="1.83"/>
<ellipse cx="331.8" cy="36.4" rx="4.18" ry="2.09" transform="rotate(-30 331.8 36.4)"/>
<ellipse cx="337.7" cy="38.7" rx="2.09" ry="1.83"/>
<ellipse cx="344.8" cy="39.0" rx="4.18" ry="1.57" transform="rotate(5 344.8 39.0)"/>
<circle cx="350.7" cy="35.1" r="2.09"/>
<ellipse cx="353.3" cy="39.0" rx="1.83" ry="3.66" transform="rotate(25 353.3 39.0)"/>
<circle cx="362.5" cy="38.3" r="2.09"/>
<ellipse cx="368.6" cy="37.7" rx="2.62" ry="3.66" transform="rotate(-10 368.6 37.7)"/>
<ellipse cx="337.0" cy="43.6" rx="4.45" ry="1.31" transform="rotate(25 337.0 43.6)"/>
<ellipse cx="322.0" cy="36.4" rx="1.31" ry="2.62"/>
<ellipse cx="343.5" cy="46.8" rx="2.88" ry="1.57" transform="rotate(-30 343.5 46.8)"/>
<ellipse cx="346.8" cy="51.8" rx="1.83" ry="2.35"/>
<ellipse cx="361.2" cy="47.5" rx="1.57" ry="4.71" transform="rotate(-25 361.2 47.5)"/>
<ellipse cx="322.6" cy="53.4" rx="1.31" ry="2.62"/>
<ellipse cx="339.6" cy="55.7" rx="3.40" ry="2.09" transform="rotate(10 339.6 55.7)"/>
<ellipse cx="327.2" cy="59.3" rx="4.18" ry="1.57" transform="rotate(-45 327.2 59.3)"/>
<ellipse cx="328.5" cy="64.5" rx="2.09" ry="1.83"/>
<ellipse cx="349.4" cy="59.3" rx="4.18" ry="1.83" transform="rotate(10 349.4 59.3)"/>
<ellipse cx="365.1" cy="54.7" rx="3.40" ry="1.57" transform="rotate(-30 365.1 54.7)"/>
<circle cx="369.7" cy="58.6" r="3.14"/>
<circle cx="363.2" cy="64.5" r="2.09"/>
<ellipse cx="382.1" cy="65.8" rx="2.62" ry="1.31"/>
<ellipse cx="346.8" cy="67.1" rx="2.09" ry="1.05"/>
</g>
<g fill="#84e65c" opacity="0.7" filter="url(#b05)">
<ellipse cx="324.6" cy="27.9" rx="1.01" ry="1.58" transform="rotate(10 324.6 27.9)"/>
<ellipse cx="332.4" cy="26.6" rx="0.72" ry="0.58"/>
<ellipse cx="347.5" cy="29.2" rx="2.16" ry="1.01" transform="rotate(-45 347.5 29.2)"/>
<ellipse cx="374.3" cy="27.9" rx="1.01" ry="2.01" transform="rotate(15 374.3 27.9)"/>
<ellipse cx="380.2" cy="27.9" rx="1.58" ry="2.01"/>
<ellipse cx="384.1" cy="33.1" rx="0.72" ry="1.01"/>
<ellipse cx="331.8" cy="36.4" rx="2.30" ry="1.15" transform="rotate(-30 331.8 36.4)"/>
<ellipse cx="337.7" cy="38.7" rx="1.15" ry="1.01"/>
<ellipse cx="344.8" cy="39.0" rx="2.30" ry="0.86" transform="rotate(5 344.8 39.0)"/>
<circle cx="350.7" cy="35.1" r="1.15"/>
<ellipse cx="353.3" cy="39.0" rx="1.01" ry="2.01" transform="rotate(25 353.3 39.0)"/>
<circle cx="362.5" cy="38.3" r="1.15"/>
<ellipse cx="368.6" cy="37.7" rx="1.44" ry="2.01" transform="rotate(-10 368.6 37.7)"/>
<ellipse cx="337.0" cy="43.6" rx="2.45" ry="0.72" transform="rotate(25 337.0 43.6)"/>
<ellipse cx="322.0" cy="36.4" rx="0.72" ry="1.44"/>
<ellipse cx="343.5" cy="46.8" rx="1.58" ry="0.86" transform="rotate(-30 343.5 46.8)"/>
<ellipse cx="346.8" cy="51.8" rx="1.01" ry="1.29"/>
<ellipse cx="361.2" cy="47.5" rx="0.86" ry="2.59" transform="rotate(-25 361.2 47.5)"/>
<ellipse cx="322.6" cy="53.4" rx="0.72" ry="1.44"/>
<ellipse cx="339.6" cy="55.7" rx="1.87" ry="1.15" transform="rotate(10 339.6 55.7)"/>
<ellipse cx="327.2" cy="59.3" rx="2.30" ry="0.86" transform="rotate(-45 327.2 59.3)"/>
<ellipse cx="328.5" cy="64.5" rx="1.15" ry="1.01"/>
<ellipse cx="349.4" cy="59.3" rx="2.30" ry="1.01" transform="rotate(10 349.4 59.3)"/>
<ellipse cx="365.1" cy="54.7" rx="1.87" ry="0.86" transform="rotate(-30 365.1 54.7)"/>
<circle cx="369.7" cy="58.6" r="1.73"/>
<circle cx="363.2" cy="64.5" r="1.15"/>
<ellipse cx="382.1" cy="65.8" rx="1.44" ry="0.72"/>
<ellipse cx="346.8" cy="67.1" rx="1.15" ry="0.58"/>
</g>
</g>
<clipPath id="mc3"><rect x="257.80" y="67.60" width="63.80" height="42.80"/></clipPath>
<g clip-path="url(#mc3)">
<rect x="257.80" y="67.60" width="63.80" height="42.80" fill="#091a0a" />
<g fill="#187024" opacity="0.5" filter="url(#b2)">
<circle cx="260.6" cy="70.5" r="3.22"/>
<circle cx="264.5" cy="74.8" r="3.22"/>
<circle cx="263.6" cy="80.7" r="3.22"/>
<circle cx="280.2" cy="71.8" r="3.22"/>
<circle cx="285.4" cy="73.1" r="3.22"/>
<circle cx="289.3" cy="78.1" r="3.22"/>
<circle cx="282.8" cy="81.3" r="3.22"/>
<circle cx="277.6" cy="83.3" r="3.22"/>
<circle cx="276.3" cy="88.5" r="3.22"/>
<circle cx="295.2" cy="85.9" r="3.22"/>
<circle cx="291.3" cy="91.2" r="3.22"/>
<circle cx="286.7" cy="93.1" r="3.22"/>
<circle cx="292.6" cy="96.4" r="3.22"/>
<circle cx="264.5" cy="96.4" r="3.22"/>
<circle cx="264.5" cy="104.2" r="3.22"/>
<circle cx="275.6" cy="107.1" r="3.22"/>
<circle cx="317.5" cy="77.8" r="3.22"/>
<circle cx="315.5" cy="89.8" r="3.22"/>
<circle cx="312.9" cy="104.9" r="3.22"/>
<circle cx="309.0" cy="102.3" r="3.22"/>
<circle cx="293.9" cy="78.7" r="2.28"/>
<circle cx="290.3" cy="84.4" r="2.28"/>
<circle cx="268.4" cy="87.9" r="2.28"/>
<circle cx="311.6" cy="94.4" r="2.28"/>
<circle cx="320.1" cy="96.4" r="2.28"/>
<circle cx="305.0" cy="103.6" r="2.28"/>
<circle cx="297.8" cy="110.8" r="2.28"/>
<ellipse cx="298.5" cy="78.7" rx="2.65" ry="3.79"/>
<ellipse cx="285.4" cy="99.7" rx="4.17" ry="2.47" transform="rotate(-30 285.4 99.7)"/>
<circle cx="271.7" cy="82.0" r="2.65"/>
<circle cx="307.0" cy="84.6" r="2.84"/>
</g>
<g fill="#2ab842" opacity="0.95" filter="url(#b05)">
<circle cx="260.6" cy="70.5" r="2.22"/>
<circle cx="264.5" cy="74.8" r="2.22"/>
<circle cx="263.6" cy="80.7" r="2.22"/>
<circle cx="280.2" cy="71.8" r="2.22"/>
<circle cx="285.4" cy="73.1" r="2.22"/>
<circle cx="289.3" cy="78.1" r="2.22"/>
<circle cx="282.8" cy="81.3" r="2.22"/>
<circle cx="277.6" cy="83.3" r="2.22"/>
<circle cx="276.3" cy="88.5" r="2.22"/>
<circle cx="295.2" cy="85.9" r="2.22"/>
<circle cx="291.3" cy="91.2" r="2.22"/>
<circle cx="286.7" cy="93.1" r="2.22"/>
<circle cx="292.6" cy="96.4" r="2.22"/>
<circle cx="264.5" cy="96.4" r="2.22"/>
<circle cx="264.5" cy="104.2" r="2.22"/>
<circle cx="275.6" cy="107.1" r="2.22"/>
<circle cx="317.5" cy="77.8" r="2.22"/>
<circle cx="315.5" cy="89.8" r="2.22"/>
<circle cx="312.9" cy="104.9" r="2.22"/>
<circle cx="309.0" cy="102.3" r="2.22"/>
<circle cx="293.9" cy="78.7" r="1.57"/>
<circle cx="290.3" cy="84.4" r="1.57"/>
<circle cx="268.4" cy="87.9" r="1.57"/>
<circle cx="311.6" cy="94.4" r="1.57"/>
<circle cx="320.1" cy="96.4" r="1.57"/>
<circle cx="305.0" cy="103.6" r="1.57"/>
<circle cx="297.8" cy="110.8" r="1.57"/>
<ellipse cx="298.5" cy="78.7" rx="1.83" ry="2.62"/>
<ellipse cx="285.4" cy="99.7" rx="2.88" ry="1.70" transform="rotate(-30 285.4 99.7)"/>
<circle cx="271.7" cy="82.0" r="1.83"/>
<circle cx="307.0" cy="84.6" r="1.96"/>
</g>
<g fill="#84e65c" opacity="0.7" filter="url(#b05)">
<circle cx="260.6" cy="70.5" r="1.22"/>
<circle cx="264.5" cy="74.8" r="1.22"/>
<circle cx="263.6" cy="80.7" r="1.22"/>
<circle cx="280.2" cy="71.8" r="1.22"/>
<circle cx="285.4" cy="73.1" r="1.22"/>
<circle cx="289.3" cy="78.1" r="1.22"/>
<circle cx="282.8" cy="81.3" r="1.22"/>
<circle cx="277.6" cy="83.3" r="1.22"/>
<circle cx="276.3" cy="88.5" r="1.22"/>
<circle cx="295.2" cy="85.9" r="1.22"/>
<circle cx="291.3" cy="91.2" r="1.22"/>
<circle cx="286.7" cy="93.1" r="1.22"/>
<circle cx="292.6" cy="96.4" r="1.22"/>
<circle cx="264.5" cy="96.4" r="1.22"/>
<circle cx="264.5" cy="104.2" r="1.22"/>
<circle cx="275.6" cy="107.1" r="1.22"/>
<circle cx="317.5" cy="77.8" r="1.22"/>
<circle cx="315.5" cy="89.8" r="1.22"/>
<circle cx="312.9" cy="104.9" r="1.22"/>
<circle cx="309.0" cy="102.3" r="1.22"/>
<circle cx="293.9" cy="78.7" r="0.86"/>
<circle cx="290.3" cy="84.4" r="0.86"/>
<circle cx="268.4" cy="87.9" r="0.86"/>
<circle cx="311.6" cy="94.4" r="0.86"/>
<circle cx="320.1" cy="96.4" r="0.86"/>
<circle cx="305.0" cy="103.6" r="0.86"/>
<circle cx="297.8" cy="110.8" r="0.86"/>
<ellipse cx="298.5" cy="78.7" rx="1.01" ry="1.44"/>
<ellipse cx="285.4" cy="99.7" rx="1.58" ry="0.94" transform="rotate(-30 285.4 99.7)"/>
<circle cx="271.7" cy="82.0" r="1.01"/>
<circle cx="307.0" cy="84.6" r="1.08"/>
</g>
</g>
<clipPath id="mc4"><rect x="321.60" y="67.60" width="63.40" height="42.80"/></clipPath>
<g clip-path="url(#mc4)">
<rect x="321.60" y="67.60" width="63.40" height="42.80" fill="#0a1e0c" />
<g fill="#187024" opacity="0.55" filter="url(#b2)">
<ellipse cx="327.8" cy="72.8" rx="8.53" ry="3.41" transform="rotate(30 327.8 72.8)"/>
<ellipse cx="341.6" cy="71.5" rx="4.74" ry="2.65" transform="rotate(35 341.6 71.5)"/>
<ellipse cx="344.2" cy="80.0" rx="5.31" ry="6.45"/>
<ellipse cx="338.3" cy="89.2" rx="7.21" ry="8.53" transform="rotate(15 338.3 89.2)"/>
<ellipse cx="335.0" cy="95.7" rx="4.74" ry="8.53" transform="rotate(15 335.0 95.7)"/>
<ellipse cx="344.2" cy="91.2" rx="3.79" ry="7.58" transform="rotate(10 344.2 91.2)"/>
<ellipse cx="339.0" cy="101.6" rx="6.64" ry="4.74" transform="rotate(-40 339.0 101.6)"/>
<ellipse cx="332.4" cy="103.6" rx="4.74" ry="3.41" transform="rotate(-30 332.4 103.6)"/>
<ellipse cx="323.9" cy="108.8" rx="3.79" ry="2.28" transform="rotate(-40 323.9 108.8)"/>
<ellipse cx="360.5" cy="74.2" rx="5.69" ry="4.17" transform="rotate(-20 360.5 74.2)"/>
<ellipse cx="369.0" cy="75.5" rx="6.64" ry="3.41" transform="rotate(15 369.0 75.5)"/>
<ellipse cx="376.9" cy="71.5" rx="3.41" ry="4.17"/>
<ellipse cx="378.2" cy="77.4" rx="7.58" ry="3.79" transform="rotate(25 378.2 77.4)"/>
<ellipse cx="374.9" cy="81.3" rx="6.64" ry="3.41" transform="rotate(30 374.9 81.3)"/>
<ellipse cx="383.4" cy="74.2" rx="2.65" ry="5.69"/>
<ellipse cx="357.3" cy="86.6" rx="7.58" ry="3.41" transform="rotate(-35 357.3 86.6)"/>
<ellipse cx="354.7" cy="85.9" rx="2.65" ry="4.17" transform="rotate(30 354.7 85.9)"/>
<ellipse cx="376.2" cy="88.5" rx="7.21" ry="3.41"/>
<ellipse cx="363.8" cy="93.1" rx="6.64" ry="4.17" transform="rotate(-30 363.8 93.1)"/>
<ellipse cx="352.0" cy="94.4" rx="4.74" ry="2.65" transform="rotate(40 352.0 94.4)"/>
<ellipse cx="377.5" cy="102.9" rx="7.58" ry="4.17" transform="rotate(-35 377.5 102.9)"/>
<ellipse cx="382.8" cy="105.5" rx="3.41" ry="4.74"/>
<ellipse cx="366.4" cy="106.8" rx="2.65" ry="3.41"/>
<ellipse cx="384.1" cy="86.6" rx="1.52" ry="3.79"/>
</g>
<g fill="#22a83c" opacity="0.95" filter="url(#b05)">
<ellipse cx="327.8" cy="72.8" rx="5.88" ry="2.35" transform="rotate(30 327.8 72.8)"/>
<ellipse cx="341.6" cy="71.5" rx="3.27" ry="1.83" transform="rotate(35 341.6 71.5)"/>
<ellipse cx="344.2" cy="80.0" rx="3.66" ry="4.45"/>
<ellipse cx="338.3" cy="89.2" rx="4.97" ry="5.88" transform="rotate(15 338.3 89.2)"/>
<ellipse cx="335.0" cy="95.7" rx="3.27" ry="5.88" transform="rotate(15 335.0 95.7)"/>
<ellipse cx="344.2" cy="91.2" rx="2.62" ry="5.23" transform="rotate(10 344.2 91.2)"/>
<ellipse cx="339.0" cy="101.6" rx="4.58" ry="3.27" transform="rotate(-40 339.0 101.6)"/>
<ellipse cx="332.4" cy="103.6" rx="3.27" ry="2.35" transform="rotate(-30 332.4 103.6)"/>
<ellipse cx="323.9" cy="108.8" rx="2.62" ry="1.57" transform="rotate(-40 323.9 108.8)"/>
<ellipse cx="360.5" cy="74.2" rx="3.92" ry="2.88" transform="rotate(-20 360.5 74.2)"/>
<ellipse cx="369.0" cy="75.5" rx="4.58" ry="2.35" transform="rotate(15 369.0 75.5)"/>
<ellipse cx="376.9" cy="71.5" rx="2.35" ry="2.88"/>
<ellipse cx="378.2" cy="77.4" rx="5.23" ry="2.62" transform="rotate(25 378.2 77.4)"/>
<ellipse cx="374.9" cy="81.3" rx="4.58" ry="2.35" transform="rotate(30 374.9 81.3)"/>
<ellipse cx="383.4" cy="74.2" rx="1.83" ry="3.92"/>
<ellipse cx="357.3" cy="86.6" rx="5.23" ry="2.35" transform="rotate(-35 357.3 86.6)"/>
<ellipse cx="354.7" cy="85.9" rx="1.83" ry="2.88" transform="rotate(30 354.7 85.9)"/>
<ellipse cx="376.2" cy="88.5" rx="4.97" ry="2.35"/>
<ellipse cx="363.8" cy="93.1" rx="4.58" ry="2.88" transform="rotate(-30 363.8 93.1)"/>
<ellipse cx="352.0" cy="94.4" rx="3.27" ry="1.83" transform="rotate(40 352.0 94.4)"/>
<ellipse cx="377.5" cy="102.9" rx="5.23" ry="2.88" transform="rotate(-35 377.5 102.9)"/>
<ellipse cx="382.8" cy="105.5" rx="2.35" ry="3.27"/>
<ellipse cx="366.4" cy="106.8" rx="1.83" ry="2.35"/>
<ellipse cx="384.1" cy="86.6" rx="1.05" ry="2.62"/>
</g>
<g fill="#84e65c" opacity="0.5" filter="url(#b05)">
<ellipse cx="327.8" cy="72.8" rx="3.24" ry="1.29" transform="rotate(30 327.8 72.8)"/>
<ellipse cx="341.6" cy="71.5" rx="1.80" ry="1.01" transform="rotate(35 341.6 71.5)"/>
<ellipse cx="344.2" cy="80.0" rx="2.01" ry="2.45"/>
<ellipse cx="338.3" cy="89.2" rx="2.73" ry="3.24" transform="rotate(15 338.3 89.2)"/>
<ellipse cx="335.0" cy="95.7" rx="1.80" ry="3.24" transform="rotate(15 335.0 95.7)"/>
<ellipse cx="344.2" cy="91.2" rx="1.44" ry="2.88" transform="rotate(10 344.2 91.2)"/>
<ellipse cx="339.0" cy="101.6" rx="2.52" ry="1.80" transform="rotate(-40 339.0 101.6)"/>
<ellipse cx="332.4" cy="103.6" rx="1.80" ry="1.29" transform="rotate(-30 332.4 103.6)"/>
<ellipse cx="323.9" cy="108.8" rx="1.44" ry="0.86" transform="rotate(-40 323.9 108.8)"/>
<ellipse cx="360.5" cy="74.2" rx="2.16" ry="1.58" transform="rotate(-20 360.5 74.2)"/>
<ellipse cx="369.0" cy="75.5" rx="2.52" ry="1.29" transform="rotate(15 369.0 75.5)"/>
<ellipse cx="376.9" cy="71.5" rx="1.29" ry="1.58"/>
<ellipse cx="378.2" cy="77.4" rx="2.88" ry="1.44" transform="rotate(25 378.2 77.4)"/>
<ellipse cx="374.9" cy="81.3" rx="2.52" ry="1.29" transform="rotate(30 374.9 81.3)"/>
<ellipse cx="383.4" cy="74.2" rx="1.01" ry="2.16"/>
<ellipse cx="357.3" cy="86.6" rx="2.88" ry="1.29" transform="rotate(-35 357.3 86.6)"/>
<ellipse cx="354.7" cy="85.9" rx="1.01" ry="1.58" transform="rotate(30 354.7 85.9)"/>
<ellipse cx="376.2" cy="88.5" rx="2.73" ry="1.29"/>
<ellipse cx="363.8" cy="93.1" rx="2.52" ry="1.58" transform="rotate(-30 363.8 93.1)"/>
<ellipse cx="352.0" cy="94.4" rx="1.80" ry="1.01" transform="rotate(40 352.0 94.4)"/>
<ellipse cx="377.5" cy="102.9" rx="2.88" ry="1.58" transform="rotate(-35 377.5 102.9)"/>
<ellipse cx="382.8" cy="105.5" rx="1.29" ry="1.80"/>
<ellipse cx="366.4" cy="106.8" rx="1.01" ry="1.29"/>
<ellipse cx="384.1" cy="86.6" rx="0.58" ry="1.44"/>
</g>
</g>
<rect x="257.80" y="24.90" width="127.20" height="85.50" fill="none" stroke="#0a0d0a" stroke-width="0.9"/>
<line x1="321.60" y1="24.90" x2="321.60" y2="110.40" stroke="#8f8f8f" stroke-width="0.9" />
<line x1="257.80" y1="67.60" x2="385.00" y2="67.60" stroke="#8f8f8f" stroke-width="0.9" />
<text transform="translate(303.40,377.40)" font-size="7.0" text-anchor="middle" font-weight="normal" fill="#231f20" stroke="#231f20" stroke-width="0.12" >Th 0</text>
<text transform="translate(359.00,377.40)" font-size="7.0" text-anchor="middle" font-weight="normal" fill="#231f20" stroke="#231f20" stroke-width="0.12" >Th 0.006</text>
<text transform="translate(272.20,397.80) rotate(-90)" font-size="6.8" text-anchor="middle" font-weight="normal" fill="#231f20" stroke="#231f20" stroke-width="0.24" >Ctrl</text>
<text transform="translate(272.20,435.60) rotate(-90)" font-size="6.8" text-anchor="middle" font-weight="normal" fill="#231f20" stroke="#231f20" stroke-width="0.24" >Hcy</text>
<text transform="translate(272.20,472.50) rotate(-90)" font-size="6.8" text-anchor="middle" font-weight="normal" fill="#231f20" stroke="#231f20" stroke-width="0.24" >mP6</text>
<text transform="translate(272.20,509.50) rotate(-90)" font-size="6.8" text-anchor="middle" font-weight="normal" fill="#231f20" stroke="#231f20" stroke-width="0.24" >Hcy+mP6</text>
<rect x="275.20" y="380.60" width="111.60" height="146.10" fill="#f1f1f1" />
<clipPath id="mc5"><rect x="275.20" y="380.60" width="55.30" height="34.70"/></clipPath>
<g clip-path="url(#mc5)">
<rect x="275.20" y="380.60" width="55.30" height="34.70" fill="#071609" />
<g fill="#1f7f2c" opacity="0.1" filter="url(#b3)">
<ellipse cx="300.2" cy="400.0" rx="8.70" ry="5.40"/>
<ellipse cx="303.3" cy="401.0" rx="5.74" ry="5.54"/>
<ellipse cx="310.0" cy="408.1" rx="5.38" ry="4.91"/>
<ellipse cx="280.2" cy="408.7" rx="7.77" ry="4.13"/>
<ellipse cx="329.5" cy="414.1" rx="7.62" ry="5.85"/>
<ellipse cx="283.9" cy="381.1" rx="7.11" ry="4.18"/>
<ellipse cx="285.7" cy="389.0" rx="5.12" ry="5.39"/>
</g>
<g fill="#239c38" opacity="0.75" filter="url(#b1)">
<ellipse cx="321.8" cy="398.6" rx="1.31" ry="1.17" transform="rotate(90 321.8 398.6)"/>
<ellipse cx="279.9" cy="403.3" rx="1.00" ry="0.82" transform="rotate(120 279.9 403.3)"/>
<ellipse cx="321.7" cy="405.2" rx="1.70" ry="1.35" transform="rotate(30 321.7 405.2)"/>
<ellipse cx="276.8" cy="400.1" rx="1.36" ry="1.00"/>
<ellipse cx="296.6" cy="413.8" rx="1.59" ry="1.52"/>
<ellipse cx="326.5" cy="382.4" rx="1.15" ry="0.93" transform="rotate(150 326.5 382.4)"/>
<ellipse cx="279.2" cy="402.4" rx="1.28" ry="1.19" transform="rotate(60 279.2 402.4)"/>
<ellipse cx="292.4" cy="381.1" rx="1.24" ry="1.02"/>
<ellipse cx="314.3" cy="381.0" rx="1.09" ry="0.92" transform="rotate(90 314.3 381.0)"/>
<ellipse cx="306.1" cy="396.1" rx="1.12" ry="0.85" transform="rotate(150 306.1 396.1)"/>
<ellipse cx="298.4" cy="393.9" rx="1.54" ry="1.26" transform="rotate(30 298.4 393.9)"/>
<ellipse cx="323.0" cy="414.4" rx="1.00" ry="0.88"/>
<ellipse cx="297.0" cy="410.2" rx="1.15" ry="1.02"/>
<ellipse cx="283.3" cy="395.9" rx="1.03" ry="0.72" transform="rotate(120 283.3 395.9)"/>
<ellipse cx="291.6" cy="383.1" rx="1.23" ry="0.89" transform="rotate(120 291.6 383.1)"/>
<ellipse cx="276.1" cy="393.4" rx="1.45" ry="1.28" transform="rotate(30 276.1 393.4)"/>
<ellipse cx="301.9" cy="400.5" rx="1.67" ry="1.60" transform="rotate(30 301.9 400.5)"/>
<ellipse cx="292.4" cy="388.5" rx="1.44" ry="1.27" transform="rotate(150 292.4 388.5)"/>
<ellipse cx="316.1" cy="413.2" rx="1.13" ry="0.86" transform="rotate(90 316.1 413.2)"/>
<ellipse cx="308.6" cy="395.2" rx="1.62" ry="1.18"/>
<ellipse cx="289.3" cy="406.3" rx="1.36" ry="1.11" transform="rotate(90 289.3 406.3)"/>
<ellipse cx="308.2" cy="390.8" rx="1.58" ry="1.19" transform="rotate(150 308.2 390.8)"/>
<ellipse cx="282.2" cy="397.2" rx="1.68" ry="1.51" transform="rotate(120 282.2 397.2)"/>
<ellipse cx="290.7" cy="412.4" rx="1.43" ry="1.09"/>
<ellipse cx="298.0" cy="389.2" rx="1.05" ry="0.75" transform="rotate(60 298.0 389.2)"/>
<ellipse cx="306.8" cy="385.2" rx="1.26" ry="1.02" transform="rotate(90 306.8 385.2)"/>
</g>
<g fill="#36c94d" opacity="0.95" filter="url(#b05)">
<ellipse cx="311.5" cy="404.6" rx="1.19" ry="1.04" transform="rotate(30 311.5 404.6)"/>
<ellipse cx="326.3" cy="397.1" rx="0.99" ry="0.80" transform="rotate(60 326.3 397.1)"/>
<ellipse cx="276.4" cy="402.7" rx="1.18" ry="1.00" transform="rotate(150 276.4 402.7)"/>
<ellipse cx="282.8" cy="383.1" rx="0.86" ry="0.72" transform="rotate(60 282.8 383.1)"/>
<ellipse cx="325.0" cy="406.2" rx="1.07" ry="0.97" transform="rotate(60 325.0 406.2)"/>
<circle cx="313.1" cy="411.9" r="0.88"/>
<ellipse cx="276.9" cy="397.9" rx="1.17" ry="0.83" transform="rotate(150 276.9 397.9)"/>
<ellipse cx="307.4" cy="401.7" rx="0.89" ry="0.65" transform="rotate(150 307.4 401.7)"/>
<ellipse cx="289.4" cy="395.0" rx="0.76" ry="0.61" transform="rotate(150 289.4 395.0)"/>
<ellipse cx="300.5" cy="396.7" rx="1.05" ry="0.90" transform="rotate(120 300.5 396.7)"/>
<ellipse cx="276.8" cy="401.5" rx="1.08" ry="0.91" transform="rotate(30 276.8 401.5)"/>
<ellipse cx="281.4" cy="407.7" rx="1.18" ry="1.06" transform="rotate(90 281.4 407.7)"/>
<ellipse cx="275.8" cy="391.0" rx="0.83" ry="0.75" transform="rotate(30 275.8 391.0)"/>
<circle cx="316.9" cy="392.5" r="0.96"/>
<ellipse cx="293.3" cy="403.7" rx="1.15" ry="0.87" transform="rotate(90 293.3 403.7)"/>
<ellipse cx="316.9" cy="387.6" rx="1.10" ry="0.84" transform="rotate(30 316.9 387.6)"/>
<ellipse cx="292.7" cy="385.3" rx="0.99" ry="0.84"/>
<ellipse cx="327.7" cy="390.2" rx="1.06" ry="0.79" transform="rotate(90 327.7 390.2)"/>
<ellipse cx="326.4" cy="409.4" rx="0.94" ry="0.76" transform="rotate(120 326.4 409.4)"/>
<circle cx="292.6" cy="409.7" r="0.95"/>
<ellipse cx="321.0" cy="390.3" rx="0.86" ry="0.76" transform="rotate(150 321.0 390.3)"/>
<ellipse cx="306.8" cy="391.3" rx="1.05" ry="0.99"/>
<ellipse cx="297.6" cy="387.2" rx="1.02" ry="0.95" transform="rotate(60 297.6 387.2)"/>
<ellipse cx="283.0" cy="382.2" rx="0.82" ry="0.73" transform="rotate(90 283.0 382.2)"/>
<ellipse cx="304.8" cy="402.8" rx="0.75" ry="0.61"/>
<ellipse cx="286.2" cy="397.1" rx="1.04" ry="0.79"/>
<ellipse cx="304.8" cy="381.9" rx="1.08" ry="0.83" transform="rotate(60 304.8 381.9)"/>
<circle cx="327.6" cy="398.0" r="0.97"/>
<ellipse cx="319.0" cy="412.0" rx="0.90" ry="0.65" transform="rotate(150 319.0 412.0)"/>
<circle cx="300.1" cy="387.4" r="0.89"/>
<ellipse cx="306.7" cy="411.1" rx="0.89" ry="0.83" transform="rotate(60 306.7 411.1)"/>
<ellipse cx="311.2" cy="387.7" rx="0.93" ry="0.85" transform="rotate(150 311.2 387.7)"/>
<ellipse cx="282.0" cy="389.0" rx="1.16" ry="0.95"/>
<ellipse cx="304.9" cy="408.0" rx="1.19" ry="0.95" transform="rotate(150 304.9 408.0)"/>
<ellipse cx="294.5" cy="383.5" rx="1.13" ry="0.94" transform="rotate(120 294.5 383.5)"/>
<ellipse cx="290.4" cy="412.5" rx="0.91" ry="0.70"/>
<ellipse cx="277.1" cy="399.1" rx="0.91" ry="0.83" transform="rotate(30 277.1 399.1)"/>
<ellipse cx="330.5" cy="411.8" rx="0.94" ry="0.80" transform="rotate(150 330.5 411.8)"/>
<circle cx="327.5" cy="397.7" r="1.04"/>
<ellipse cx="299.5" cy="400.0" rx="1.08" ry="1.02" transform="rotate(120 299.5 400.0)"/>
<ellipse cx="304.1" cy="409.9" rx="1.02" ry="0.88" transform="rotate(60 304.1 409.9)"/>
<ellipse cx="328.0" cy="410.8" rx="1.04" ry="0.91" transform="rotate(60 328.0 410.8)"/>
<ellipse cx="328.8" cy="398.8" rx="1.13" ry="0.98" transform="rotate(30 328.8 398.8)"/>
<ellipse cx="281.5" cy="380.8" rx="0.91" ry="0.74" transform="rotate(120 281.5 380.8)"/>
<ellipse cx="303.7" cy="394.5" rx="1.18" ry="1.11" transform="rotate(120 303.7 394.5)"/>
<circle cx="280.4" cy="386.4" r="0.76"/>
</g>
<g fill="#7cf07a" opacity="0.9">
<ellipse cx="328.1" cy="412.6" rx="0.48" ry="0.38" transform="rotate(90 328.1 412.6)"/>
<circle cx="294.0" cy="411.9" r="0.50"/>
<ellipse cx="281.2" cy="395.2" rx="0.50" ry="0.36" transform="rotate(60 281.2 395.2)"/>
<ellipse cx="318.3" cy="381.4" rx="0.43" ry="0.32" transform="rotate(30 318.3 381.4)"/>
<ellipse cx="290.9" cy="405.7" rx="0.40" ry="0.31" transform="rotate(90 290.9 405.7)"/>
<ellipse cx="315.6" cy="384.9" rx="0.42" ry="0.36" transform="rotate(60 315.6 384.9)"/>
<ellipse cx="314.0" cy="411.1" rx="0.54" ry="0.38" transform="rotate(150 314.0 411.1)"/>
<ellipse cx="304.5" cy="386.1" rx="0.48" ry="0.37" transform="rotate(150 304.5 386.1)"/>
<ellipse cx="287.3" cy="388.1" rx="0.51" ry="0.44" transform="rotate(120 287.3 388.1)"/>
<circle cx="288.1" cy="406.3" r="0.57"/>
<ellipse cx="292.6" cy="412.6" rx="0.46" ry="0.35" transform="rotate(30 292.6 412.6)"/>
<circle cx="282.6" cy="388.9" r="0.58"/>
<ellipse cx="299.2" cy="413.3" rx="0.48" ry="0.41" transform="rotate(150 299.2 413.3)"/>
<ellipse cx="297.5" cy="404.4" rx="0.43" ry="0.30" transform="rotate(30 297.5 404.4)"/>
<ellipse cx="295.0" cy="409.1" rx="0.51" ry="0.42" transform="rotate(150 295.0 409.1)"/>
<circle cx="317.1" cy="398.0" r="0.50"/>
</g>
</g>
<rect x="275.60" y="381.00" width="54.50" height="33.90" fill="none" stroke="#050805" stroke-width="0.8"/>
<clipPath id="mc6"><rect x="332.50" y="380.60" width="54.30" height="34.70"/></clipPath>
<g clip-path="url(#mc6)">
<rect x="332.50" y="380.60" width="54.30" height="34.70" fill="#0a230e" />
<g fill="#1f7f2c" opacity="0.25" filter="url(#b3)">
<ellipse cx="376.1" cy="397.3" rx="5.10" ry="6.29"/>
<ellipse cx="365.8" cy="412.0" rx="6.93" ry="4.57"/>
<ellipse cx="338.7" cy="386.6" rx="5.63" ry="4.85"/>
<ellipse cx="369.0" cy="400.7" rx="5.54" ry="6.04"/>
<ellipse cx="336.7" cy="384.0" rx="6.56" ry="5.28"/>
<ellipse cx="351.8" cy="387.9" rx="6.49" ry="5.90"/>
<ellipse cx="334.7" cy="387.5" rx="6.63" ry="5.08"/>
</g>
<g fill="#239c38" opacity="0.7" filter="url(#b1)">
<ellipse cx="382.6" cy="401.6" rx="1.67" ry="1.22"/>
<ellipse cx="337.1" cy="409.8" rx="1.62" ry="1.56" transform="rotate(150 337.1 409.8)"/>
<ellipse cx="363.4" cy="387.2" rx="2.24" ry="1.96" transform="rotate(60 363.4 387.2)"/>
<ellipse cx="346.5" cy="412.2" rx="2.10" ry="1.94" transform="rotate(30 346.5 412.2)"/>
<ellipse cx="354.5" cy="411.7" rx="2.11" ry="2.04" transform="rotate(150 354.5 411.7)"/>
<ellipse cx="355.9" cy="386.9" rx="1.67" ry="1.27" transform="rotate(30 355.9 386.9)"/>
<ellipse cx="351.1" cy="396.9" rx="1.37" ry="0.96" transform="rotate(60 351.1 396.9)"/>
<ellipse cx="381.5" cy="382.3" rx="2.29" ry="1.79" transform="rotate(150 381.5 382.3)"/>
<ellipse cx="344.2" cy="394.7" rx="1.60" ry="1.21"/>
<ellipse cx="386.8" cy="402.9" rx="1.69" ry="1.54" transform="rotate(90 386.8 402.9)"/>
<ellipse cx="333.7" cy="402.0" rx="2.28" ry="2.10" transform="rotate(60 333.7 402.0)"/>
<ellipse cx="359.9" cy="407.0" rx="1.74" ry="1.56"/>
<ellipse cx="346.1" cy="412.0" rx="1.40" ry="1.21" transform="rotate(120 346.1 412.0)"/>
<ellipse cx="360.8" cy="410.0" rx="1.72" ry="1.25" transform="rotate(90 360.8 410.0)"/>
<ellipse cx="336.6" cy="401.3" rx="2.11" ry="1.96"/>
<circle cx="383.5" cy="394.0" r="1.69"/>
<ellipse cx="364.9" cy="395.5" rx="1.84" ry="1.56" transform="rotate(60 364.9 395.5)"/>
<ellipse cx="365.0" cy="393.3" rx="1.83" ry="1.44" transform="rotate(150 365.0 393.3)"/>
<ellipse cx="383.0" cy="403.6" rx="1.57" ry="1.45"/>
<ellipse cx="345.8" cy="382.1" rx="1.31" ry="0.98" transform="rotate(150 345.8 382.1)"/>
<ellipse cx="381.2" cy="406.6" rx="1.69" ry="1.21" transform="rotate(150 381.2 406.6)"/>
<ellipse cx="336.5" cy="412.0" rx="2.24" ry="1.86" transform="rotate(90 336.5 412.0)"/>
<ellipse cx="373.5" cy="382.2" rx="1.55" ry="1.13" transform="rotate(150 373.5 382.2)"/>
<ellipse cx="340.3" cy="413.9" rx="2.21" ry="1.71" transform="rotate(150 340.3 413.9)"/>
<ellipse cx="366.4" cy="396.4" rx="1.42" ry="1.08"/>
<ellipse cx="340.9" cy="393.2" rx="1.66" ry="1.23" transform="rotate(90 340.9 393.2)"/>
<ellipse cx="346.7" cy="400.8" rx="1.76" ry="1.45" transform="rotate(150 346.7 400.8)"/>
<ellipse cx="386.7" cy="413.7" rx="1.83" ry="1.68" transform="rotate(30 386.7 413.7)"/>
<ellipse cx="359.8" cy="391.3" rx="1.78" ry="1.52" transform="rotate(60 359.8 391.3)"/>
<ellipse cx="365.6" cy="405.8" rx="1.57" ry="1.43" transform="rotate(30 365.6 405.8)"/>
<ellipse cx="373.4" cy="387.2" rx="1.93" ry="1.50" transform="rotate(150 373.4 387.2)"/>
<ellipse cx="380.2" cy="382.0" rx="2.22" ry="1.59" transform="rotate(60 380.2 382.0)"/>
<ellipse cx="334.0" cy="381.9" rx="1.56" ry="1.20" transform="rotate(60 334.0 381.9)"/>
<ellipse cx="337.2" cy="404.1" rx="1.37" ry="1.19" transform="rotate(150 337.2 404.1)"/>
<ellipse cx="358.8" cy="392.9" rx="2.28" ry="1.83" transform="rotate(90 358.8 392.9)"/>
<ellipse cx="378.0" cy="383.2" rx="2.04" ry="1.50" transform="rotate(120 378.0 383.2)"/>
<ellipse cx="374.3" cy="396.0" rx="2.14" ry="1.98" transform="rotate(90 374.3 396.0)"/>
<circle cx="352.5" cy="403.3" r="2.11"/>
<ellipse cx="373.7" cy="409.3" rx="1.59" ry="1.20" transform="rotate(150 373.7 409.3)"/>
<ellipse cx="337.8" cy="411.0" rx="1.67" ry="1.21"/>
<ellipse cx="363.3" cy="408.9" rx="1.73" ry="1.45"/>
<ellipse cx="344.1" cy="403.6" rx="1.38" ry="1.00" transform="rotate(60 344.1 403.6)"/>
<ellipse cx="374.0" cy="392.0" rx="1.79" ry="1.73" transform="rotate(30 374.0 392.0)"/>
<ellipse cx="371.9" cy="393.3" rx="1.66" ry="1.22" transform="rotate(150 371.9 393.3)"/>
<ellipse cx="364.8" cy="411.9" rx="1.74" ry="1.58" transform="rotate(60 364.8 411.9)"/>
<ellipse cx="376.1" cy="391.2" rx="1.74" ry="1.38" transform="rotate(90 376.1 391.2)"/>
</g>
<g fill="#36c94d" opacity="0.9" filter="url(#b05)">
<ellipse cx="372.1" cy="398.5" rx="1.48" ry="1.07" transform="rotate(60 372.1 398.5)"/>
<circle cx="369.3" cy="400.9" r="0.82"/>
<ellipse cx="375.8" cy="399.4" rx="1.19" ry="1.14" transform="rotate(120 375.8 399.4)"/>
<circle cx="337.4" cy="396.4" r="0.92"/>
<ellipse cx="335.6" cy="386.1" rx="0.95" ry="0.75"/>
<ellipse cx="376.2" cy="382.8" rx="1.26" ry="1.09" transform="rotate(120 376.2 382.8)"/>
<circle cx="336.9" cy="406.2" r="0.86"/>
<circle cx="368.0" cy="384.0" r="0.82"/>
<ellipse cx="344.5" cy="407.2" rx="0.97" ry="0.83" transform="rotate(90 344.5 407.2)"/>
<ellipse cx="350.8" cy="414.2" rx="1.08" ry="0.97" transform="rotate(90 350.8 414.2)"/>
<ellipse cx="376.2" cy="383.1" rx="1.14" ry="1.01"/>
<circle cx="377.4" cy="403.7" r="1.09"/>
<ellipse cx="380.8" cy="413.8" rx="1.38" ry="1.23" transform="rotate(120 380.8 413.8)"/>
<circle cx="333.1" cy="384.4" r="1.05"/>
<ellipse cx="341.3" cy="402.6" rx="0.97" ry="0.88" transform="rotate(60 341.3 402.6)"/>
<circle cx="355.6" cy="390.7" r="0.94"/>
<ellipse cx="372.2" cy="391.1" rx="1.13" ry="0.84" transform="rotate(30 372.2 391.1)"/>
<ellipse cx="373.4" cy="381.2" rx="1.44" ry="1.21"/>
<ellipse cx="343.2" cy="393.1" rx="1.02" ry="0.89" transform="rotate(120 343.2 393.1)"/>
<ellipse cx="364.8" cy="388.4" rx="1.30" ry="0.98" transform="rotate(60 364.8 388.4)"/>
<ellipse cx="381.9" cy="413.1" rx="1.08" ry="0.96" transform="rotate(120 381.9 413.1)"/>
<circle cx="346.6" cy="411.4" r="1.14"/>
<ellipse cx="374.4" cy="383.8" rx="1.26" ry="1.21" transform="rotate(90 374.4 383.8)"/>
<ellipse cx="384.0" cy="408.4" rx="0.83" ry="0.68" transform="rotate(120 384.0 408.4)"/>
<ellipse cx="374.5" cy="407.9" rx="1.36" ry="0.97" transform="rotate(30 374.5 407.9)"/>
<ellipse cx="380.0" cy="412.0" rx="1.42" ry="1.19" transform="rotate(30 380.0 412.0)"/>
<ellipse cx="365.4" cy="386.1" rx="1.30" ry="0.97" transform="rotate(60 365.4 386.1)"/>
<ellipse cx="381.8" cy="408.7" rx="0.90" ry="0.67" transform="rotate(150 381.8 408.7)"/>
<ellipse cx="347.0" cy="399.1" rx="1.50" ry="1.11" transform="rotate(30 347.0 399.1)"/>
<circle cx="377.1" cy="410.0" r="0.80"/>
<circle cx="365.9" cy="398.9" r="1.05"/>
<circle cx="384.4" cy="401.0" r="1.13"/>
<ellipse cx="342.7" cy="387.3" rx="0.81" ry="0.74" transform="rotate(90 342.7 387.3)"/>
<ellipse cx="362.0" cy="398.8" rx="0.95" ry="0.71" transform="rotate(60 362.0 398.8)"/>
<circle cx="354.5" cy="399.9" r="1.02"/>
<ellipse cx="352.0" cy="404.4" rx="1.30" ry="0.95" transform="rotate(90 352.0 404.4)"/>
<ellipse cx="373.0" cy="407.8" rx="1.27" ry="0.94" transform="rotate(90 373.0 407.8)"/>
<ellipse cx="353.0" cy="405.2" rx="0.81" ry="0.62" transform="rotate(120 353.0 405.2)"/>
<circle cx="374.4" cy="410.3" r="0.88"/>
<ellipse cx="366.0" cy="390.7" rx="0.94" ry="0.77" transform="rotate(120 366.0 390.7)"/>
<ellipse cx="384.3" cy="406.8" rx="1.32" ry="1.15"/>
<ellipse cx="343.4" cy="406.0" rx="0.98" ry="0.78" transform="rotate(60 343.4 406.0)"/>
<ellipse cx="371.8" cy="392.1" rx="1.19" ry="1.13"/>
<ellipse cx="366.3" cy="385.2" rx="0.87" ry="0.77" transform="rotate(30 366.3 385.2)"/>
<ellipse cx="354.3" cy="409.6" rx="0.93" ry="0.81"/>
<ellipse cx="334.3" cy="414.9" rx="0.87" ry="0.72"/>
<ellipse cx="377.2" cy="412.8" rx="1.04" ry="0.77" transform="rotate(30 377.2 412.8)"/>
<ellipse cx="377.1" cy="394.0" rx="1.34" ry="1.07" transform="rotate(90 377.1 394.0)"/>
<ellipse cx="372.0" cy="401.9" rx="1.24" ry="0.98" transform="rotate(30 372.0 401.9)"/>
<ellipse cx="365.5" cy="381.2" rx="1.26" ry="1.01" transform="rotate(60 365.5 381.2)"/>
</g>
<g fill="#7cf07a" opacity="0.8">
<ellipse cx="356.5" cy="399.9" rx="0.46" ry="0.35" transform="rotate(60 356.5 399.9)"/>
<ellipse cx="377.3" cy="401.8" rx="0.56" ry="0.42" transform="rotate(120 377.3 401.8)"/>
<ellipse cx="362.3" cy="392.8" rx="0.58" ry="0.49" transform="rotate(30 362.3 392.8)"/>
<circle cx="343.3" cy="413.0" r="0.51"/>
<ellipse cx="343.2" cy="413.4" rx="0.57" ry="0.50" transform="rotate(30 343.2 413.4)"/>
<ellipse cx="339.9" cy="397.2" rx="0.56" ry="0.46" transform="rotate(60 339.9 397.2)"/>
<ellipse cx="382.9" cy="393.1" rx="0.47" ry="0.39"/>
<ellipse cx="372.1" cy="388.9" rx="0.49" ry="0.43" transform="rotate(120 372.1 388.9)"/>
<circle cx="362.9" cy="389.8" r="0.51"/>
<ellipse cx="339.2" cy="409.2" rx="0.52" ry="0.41" transform="rotate(60 339.2 409.2)"/>
<ellipse cx="363.6" cy="409.4" rx="0.45" ry="0.34" transform="rotate(120 363.6 409.4)"/>
<circle cx="357.2" cy="394.6" r="0.56"/>
<circle cx="373.6" cy="410.0" r="0.43"/>
<ellipse cx="376.1" cy="381.2" rx="0.52" ry="0.39" transform="rotate(90 376.1 381.2)"/>
</g>
</g>
<rect x="332.90" y="381.00" width="53.50" height="33.90" fill="none" stroke="#050805" stroke-width="0.8"/>
<clipPath id="mc7"><rect x="275.20" y="417.60" width="55.30" height="35.40"/></clipPath>
<g clip-path="url(#mc7)">
<rect x="275.20" y="417.60" width="55.30" height="35.40" fill="#0a220d" />
<g fill="#1f7f2c" opacity="0.25" filter="url(#b3)">
<ellipse cx="277.0" cy="436.3" rx="5.47" ry="5.22"/>
<ellipse cx="293.8" cy="422.3" rx="5.98" ry="6.80"/>
<ellipse cx="278.2" cy="445.4" rx="7.89" ry="6.36"/>
<ellipse cx="297.5" cy="435.2" rx="5.41" ry="5.04"/>
<ellipse cx="324.8" cy="449.9" rx="7.26" ry="5.22"/>
<ellipse cx="290.8" cy="449.1" rx="6.85" ry="6.72"/>
<ellipse cx="313.4" cy="446.8" rx="5.47" ry="4.34"/>
</g>
<g fill="#239c38" opacity="0.78" filter="url(#b1)">
<ellipse cx="293.5" cy="436.0" rx="2.15" ry="1.77"/>
<circle cx="278.2" cy="443.3" r="1.59"/>
<ellipse cx="293.0" cy="445.6" rx="1.64" ry="1.58"/>
<ellipse cx="321.9" cy="426.2" rx="1.52" ry="1.46"/>
<ellipse cx="281.0" cy="449.8" rx="1.73" ry="1.49" transform="rotate(150 281.0 449.8)"/>
<circle cx="288.2" cy="420.0" r="1.66"/>
<ellipse cx="305.4" cy="437.6" rx="1.63" ry="1.22" transform="rotate(150 305.4 437.6)"/>
<ellipse cx="306.5" cy="449.6" rx="1.97" ry="1.44" transform="rotate(30 306.5 449.6)"/>
<ellipse cx="304.9" cy="451.3" rx="1.41" ry="0.99" transform="rotate(30 304.9 451.3)"/>
<ellipse cx="276.5" cy="423.7" rx="1.96" ry="1.63" transform="rotate(90 276.5 423.7)"/>
<ellipse cx="297.2" cy="430.2" rx="2.03" ry="1.78"/>
<ellipse cx="300.4" cy="428.7" rx="1.58" ry="1.26" transform="rotate(30 300.4 428.7)"/>
<ellipse cx="329.2" cy="434.3" rx="2.14" ry="1.63" transform="rotate(60 329.2 434.3)"/>
<ellipse cx="313.5" cy="419.7" rx="2.07" ry="1.65" transform="rotate(60 313.5 419.7)"/>
<ellipse cx="276.1" cy="440.1" rx="2.11" ry="1.92" transform="rotate(120 276.1 440.1)"/>
<ellipse cx="310.2" cy="424.4" rx="1.48" ry="1.43"/>
<circle cx="292.1" cy="446.5" r="1.89"/>
<ellipse cx="314.6" cy="422.4" rx="2.08" ry="1.89" transform="rotate(90 314.6 422.4)"/>
<ellipse cx="284.6" cy="448.1" rx="1.67" ry="1.23" transform="rotate(150 284.6 448.1)"/>
<ellipse cx="285.2" cy="425.9" rx="1.48" ry="1.33" transform="rotate(60 285.2 425.9)"/>
<ellipse cx="311.8" cy="448.9" rx="1.64" ry="1.43" transform="rotate(30 311.8 448.9)"/>
<ellipse cx="324.7" cy="424.0" rx="2.18" ry="1.67" transform="rotate(30 324.7 424.0)"/>
<ellipse cx="280.2" cy="452.4" rx="1.88" ry="1.56" transform="rotate(120 280.2 452.4)"/>
<ellipse cx="325.4" cy="417.8" rx="1.37" ry="1.20" transform="rotate(120 325.4 417.8)"/>
<ellipse cx="319.6" cy="420.7" rx="1.53" ry="1.20" transform="rotate(30 319.6 420.7)"/>
<ellipse cx="290.6" cy="437.0" rx="1.52" ry="1.15" transform="rotate(30 290.6 437.0)"/>
<ellipse cx="277.1" cy="433.9" rx="2.19" ry="2.03" transform="rotate(90 277.1 433.9)"/>
<ellipse cx="324.5" cy="419.7" rx="1.30" ry="0.94" transform="rotate(150 324.5 419.7)"/>
<ellipse cx="292.9" cy="434.7" rx="2.12" ry="1.50" transform="rotate(60 292.9 434.7)"/>
<ellipse cx="322.0" cy="441.8" rx="1.76" ry="1.50" transform="rotate(120 322.0 441.8)"/>
<ellipse cx="318.3" cy="423.4" rx="1.46" ry="1.29" transform="rotate(30 318.3 423.4)"/>
<ellipse cx="305.5" cy="426.7" rx="1.90" ry="1.74" transform="rotate(150 305.5 426.7)"/>
<ellipse cx="302.2" cy="425.4" rx="1.51" ry="1.32" transform="rotate(90 302.2 425.4)"/>
<ellipse cx="286.4" cy="452.0" rx="1.54" ry="1.10" transform="rotate(90 286.4 452.0)"/>
<ellipse cx="285.2" cy="423.0" rx="2.09" ry="1.47" transform="rotate(90 285.2 423.0)"/>
<ellipse cx="303.1" cy="443.2" rx="2.03" ry="1.94"/>
<ellipse cx="325.4" cy="437.7" rx="1.37" ry="1.18" transform="rotate(150 325.4 437.7)"/>
<ellipse cx="283.3" cy="428.6" rx="1.51" ry="1.08" transform="rotate(60 283.3 428.6)"/>
<ellipse cx="316.0" cy="445.2" rx="2.04" ry="1.89" transform="rotate(90 316.0 445.2)"/>
<ellipse cx="320.6" cy="423.7" rx="1.38" ry="1.07" transform="rotate(30 320.6 423.7)"/>
<ellipse cx="311.6" cy="438.7" rx="1.75" ry="1.46" transform="rotate(60 311.6 438.7)"/>
<circle cx="295.4" cy="425.3" r="1.67"/>
<ellipse cx="317.0" cy="438.9" rx="1.42" ry="1.05" transform="rotate(150 317.0 438.9)"/>
<ellipse cx="316.4" cy="419.0" rx="1.71" ry="1.32" transform="rotate(120 316.4 419.0)"/>
<ellipse cx="296.9" cy="428.2" rx="1.43" ry="1.18"/>
<circle cx="312.8" cy="443.0" r="2.17"/>
<ellipse cx="289.2" cy="437.1" rx="1.51" ry="1.16" transform="rotate(90 289.2 437.1)"/>
<circle cx="287.8" cy="428.5" r="1.38"/>
<circle cx="284.1" cy="438.3" r="1.50"/>
<ellipse cx="313.6" cy="448.2" rx="1.61" ry="1.41" transform="rotate(30 313.6 448.2)"/>
<ellipse cx="296.9" cy="447.4" rx="1.72" ry="1.40"/>
<ellipse cx="294.4" cy="424.1" rx="1.49" ry="1.29" transform="rotate(30 294.4 424.1)"/>
</g>
<g fill="#36c94d" opacity="0.95" filter="url(#b05)">
<ellipse cx="297.3" cy="438.6" rx="1.24" ry="1.15" transform="rotate(90 297.3 438.6)"/>
<circle cx="330.1" cy="441.6" r="1.21"/>
<ellipse cx="298.4" cy="419.3" rx="1.28" ry="1.00" transform="rotate(60 298.4 419.3)"/>
<ellipse cx="303.9" cy="443.9" rx="1.33" ry="1.14" transform="rotate(120 303.9 443.9)"/>
<ellipse cx="314.8" cy="427.1" rx="1.55" ry="1.25" transform="rotate(30 314.8 427.1)"/>
<ellipse cx="318.2" cy="422.5" rx="1.41" ry="1.09"/>
<ellipse cx="293.0" cy="431.2" rx="0.91" ry="0.66" transform="rotate(90 293.0 431.2)"/>
<ellipse cx="317.8" cy="436.0" rx="1.13" ry="0.81" transform="rotate(90 317.8 436.0)"/>
<ellipse cx="302.2" cy="424.2" rx="1.33" ry="1.13" transform="rotate(30 302.2 424.2)"/>
<ellipse cx="292.5" cy="432.6" rx="0.92" ry="0.80" transform="rotate(30 292.5 432.6)"/>
<ellipse cx="305.5" cy="428.7" rx="1.26" ry="1.05" transform="rotate(90 305.5 428.7)"/>
<ellipse cx="286.5" cy="427.5" rx="1.00" ry="0.92" transform="rotate(90 286.5 427.5)"/>
<ellipse cx="303.8" cy="430.2" rx="1.00" ry="0.73" transform="rotate(60 303.8 430.2)"/>
<ellipse cx="287.1" cy="419.0" rx="1.14" ry="0.81" transform="rotate(150 287.1 419.0)"/>
<ellipse cx="275.8" cy="444.6" rx="1.24" ry="1.14" transform="rotate(150 275.8 444.6)"/>
<ellipse cx="326.0" cy="425.3" rx="1.37" ry="1.24" transform="rotate(150 326.0 425.3)"/>
<ellipse cx="318.0" cy="430.8" rx="0.99" ry="0.92" transform="rotate(60 318.0 430.8)"/>
<ellipse cx="298.9" cy="431.5" rx="0.96" ry="0.69" transform="rotate(90 298.9 431.5)"/>
<ellipse cx="290.9" cy="442.5" rx="1.55" ry="1.19" transform="rotate(90 290.9 442.5)"/>
<ellipse cx="317.7" cy="430.0" rx="1.04" ry="0.95" transform="rotate(120 317.7 430.0)"/>
<ellipse cx="294.1" cy="432.5" rx="0.97" ry="0.72" transform="rotate(120 294.1 432.5)"/>
<circle cx="322.4" cy="428.5" r="1.08"/>
<ellipse cx="325.5" cy="449.9" rx="0.98" ry="0.77" transform="rotate(90 325.5 449.9)"/>
<ellipse cx="307.6" cy="434.2" rx="1.25" ry="0.99" transform="rotate(60 307.6 434.2)"/>
<ellipse cx="277.2" cy="429.1" rx="0.95" ry="0.77" transform="rotate(60 277.2 429.1)"/>
<ellipse cx="312.1" cy="424.2" rx="1.08" ry="0.91" transform="rotate(120 312.1 424.2)"/>
<ellipse cx="324.8" cy="418.7" rx="1.14" ry="1.04" transform="rotate(30 324.8 418.7)"/>
<ellipse cx="309.9" cy="439.6" rx="1.44" ry="1.19" transform="rotate(90 309.9 439.6)"/>
<ellipse cx="279.0" cy="434.0" rx="0.94" ry="0.79" transform="rotate(90 279.0 434.0)"/>
<ellipse cx="282.7" cy="435.6" rx="0.93" ry="0.73" transform="rotate(60 282.7 435.6)"/>
<ellipse cx="276.4" cy="439.0" rx="1.23" ry="0.96" transform="rotate(60 276.4 439.0)"/>
<ellipse cx="288.2" cy="417.6" rx="1.38" ry="1.19" transform="rotate(90 288.2 417.6)"/>
<ellipse cx="305.4" cy="447.7" rx="0.90" ry="0.84"/>
<circle cx="306.2" cy="447.0" r="1.34"/>
<ellipse cx="280.9" cy="418.3" rx="1.08" ry="1.02" transform="rotate(30 280.9 418.3)"/>
<ellipse cx="313.2" cy="451.7" rx="1.39" ry="1.31" transform="rotate(30 313.2 451.7)"/>
<ellipse cx="313.3" cy="446.1" rx="1.13" ry="0.89" transform="rotate(90 313.3 446.1)"/>
<ellipse cx="316.6" cy="436.5" rx="1.10" ry="0.85" transform="rotate(30 316.6 436.5)"/>
<ellipse cx="314.3" cy="450.1" rx="1.15" ry="1.06"/>
<ellipse cx="320.4" cy="449.0" rx="1.59" ry="1.26" transform="rotate(90 320.4 449.0)"/>
<ellipse cx="312.8" cy="419.0" rx="1.26" ry="1.12" transform="rotate(90 312.8 419.0)"/>
<ellipse cx="278.2" cy="426.6" rx="1.51" ry="1.29" transform="rotate(150 278.2 426.6)"/>
<ellipse cx="314.8" cy="426.5" rx="1.17" ry="1.07" transform="rotate(60 314.8 426.5)"/>
<ellipse cx="322.5" cy="424.9" rx="1.03" ry="0.89" transform="rotate(30 322.5 424.9)"/>
<ellipse cx="298.5" cy="442.6" rx="1.30" ry="1.15" transform="rotate(60 298.5 442.6)"/>
<ellipse cx="282.1" cy="430.9" rx="1.46" ry="1.32" transform="rotate(30 282.1 430.9)"/>
<ellipse cx="329.1" cy="434.3" rx="1.36" ry="1.23" transform="rotate(30 329.1 434.3)"/>
<ellipse cx="290.2" cy="426.5" rx="1.09" ry="0.98" transform="rotate(90 290.2 426.5)"/>
<ellipse cx="329.9" cy="419.3" rx="1.55" ry="1.42"/>
<ellipse cx="285.9" cy="430.2" rx="1.51" ry="1.30"/>
<ellipse cx="325.2" cy="447.1" rx="1.18" ry="1.13" transform="rotate(30 325.2 447.1)"/>
<ellipse cx="292.3" cy="445.9" rx="1.16" ry="1.11" transform="rotate(60 292.3 445.9)"/>
<ellipse cx="315.1" cy="432.0" rx="1.06" ry="0.78" transform="rotate(120 315.1 432.0)"/>
<ellipse cx="313.6" cy="436.9" rx="1.17" ry="1.10" transform="rotate(30 313.6 436.9)"/>
<circle cx="321.3" cy="437.3" r="1.21"/>
<ellipse cx="283.6" cy="448.9" rx="1.20" ry="0.94" transform="rotate(120 283.6 448.9)"/>
</g>
<g fill="#7cf07a" opacity="0.9">
<ellipse cx="309.8" cy="427.3" rx="0.44" ry="0.34" transform="rotate(90 309.8 427.3)"/>
<ellipse cx="305.7" cy="437.4" rx="0.46" ry="0.34"/>
<ellipse cx="292.3" cy="420.4" rx="0.67" ry="0.50" transform="rotate(90 292.3 420.4)"/>
<ellipse cx="318.8" cy="452.7" rx="0.44" ry="0.36"/>
<ellipse cx="319.8" cy="431.6" rx="0.52" ry="0.38" transform="rotate(120 319.8 431.6)"/>
<ellipse cx="320.9" cy="426.5" rx="0.59" ry="0.44" transform="rotate(60 320.9 426.5)"/>
<circle cx="330.2" cy="433.3" r="0.66"/>
<ellipse cx="322.6" cy="451.0" rx="0.41" ry="0.36" transform="rotate(150 322.6 451.0)"/>
<ellipse cx="295.0" cy="444.3" rx="0.42" ry="0.33" transform="rotate(120 295.0 444.3)"/>
<ellipse cx="324.2" cy="419.9" rx="0.54" ry="0.44" transform="rotate(120 324.2 419.9)"/>
<ellipse cx="288.8" cy="450.3" rx="0.48" ry="0.41" transform="rotate(60 288.8 450.3)"/>
<circle cx="321.0" cy="444.8" r="0.64"/>
<ellipse cx="301.9" cy="447.3" rx="0.68" ry="0.56" transform="rotate(120 301.9 447.3)"/>
<ellipse cx="307.1" cy="425.6" rx="0.41" ry="0.33" transform="rotate(60 307.1 425.6)"/>
</g>
</g>
<rect x="275.60" y="418.00" width="54.50" height="34.60" fill="none" stroke="#050805" stroke-width="0.8"/>
<clipPath id="mc8"><rect x="332.50" y="417.60" width="54.30" height="35.40"/></clipPath>
<g clip-path="url(#mc8)">
<rect x="332.50" y="417.60" width="54.30" height="35.40" fill="#0d2e12" />
<g fill="#1f7f2c" opacity="0.38" filter="url(#b3)">
<ellipse cx="360.0" cy="427.4" rx="8.97" ry="5.88"/>
<ellipse cx="356.9" cy="428.7" rx="5.27" ry="5.96"/>
<ellipse cx="364.8" cy="427.0" rx="5.85" ry="4.54"/>
<ellipse cx="335.0" cy="422.2" rx="6.22" ry="4.62"/>
<ellipse cx="351.4" cy="423.1" rx="6.49" ry="4.55"/>
<ellipse cx="333.7" cy="431.8" rx="5.21" ry="4.28"/>
<ellipse cx="384.1" cy="447.3" rx="8.05" ry="4.06"/>
</g>
<g fill="#239c38" opacity="0.8" filter="url(#b1)">
<ellipse cx="336.1" cy="438.5" rx="1.91" ry="1.67" transform="rotate(60 336.1 438.5)"/>
<ellipse cx="384.8" cy="425.4" rx="2.22" ry="1.82" transform="rotate(150 384.8 425.4)"/>
<ellipse cx="376.6" cy="420.1" rx="2.77" ry="2.26" transform="rotate(60 376.6 420.1)"/>
<ellipse cx="374.7" cy="436.2" rx="2.76" ry="1.94" transform="rotate(150 374.7 436.2)"/>
<ellipse cx="353.0" cy="440.4" rx="2.46" ry="1.88" transform="rotate(120 353.0 440.4)"/>
<ellipse cx="356.4" cy="442.9" rx="2.11" ry="1.75" transform="rotate(120 356.4 442.9)"/>
<ellipse cx="339.1" cy="443.7" rx="2.81" ry="2.59" transform="rotate(90 339.1 443.7)"/>
<ellipse cx="355.3" cy="431.2" rx="2.50" ry="1.92" transform="rotate(120 355.3 431.2)"/>
<ellipse cx="334.8" cy="450.2" rx="2.35" ry="2.02" transform="rotate(90 334.8 450.2)"/>
<circle cx="364.7" cy="438.6" r="2.24"/>
<ellipse cx="350.3" cy="426.7" rx="2.34" ry="2.08" transform="rotate(30 350.3 426.7)"/>
<ellipse cx="386.2" cy="431.8" rx="2.58" ry="2.48" transform="rotate(30 386.2 431.8)"/>
<ellipse cx="381.2" cy="421.5" rx="2.60" ry="1.97" transform="rotate(150 381.2 421.5)"/>
<ellipse cx="340.2" cy="421.7" rx="2.65" ry="1.94" transform="rotate(60 340.2 421.7)"/>
<ellipse cx="336.0" cy="448.4" rx="2.89" ry="2.64" transform="rotate(60 336.0 448.4)"/>
<ellipse cx="351.4" cy="424.9" rx="2.32" ry="1.63" transform="rotate(90 351.4 424.9)"/>
<ellipse cx="347.7" cy="440.4" rx="1.94" ry="1.40" transform="rotate(120 347.7 440.4)"/>
<ellipse cx="373.6" cy="448.6" rx="2.23" ry="1.61" transform="rotate(90 373.6 448.6)"/>
<ellipse cx="374.4" cy="437.0" rx="2.73" ry="2.65" transform="rotate(30 374.4 437.0)"/>
<ellipse cx="342.2" cy="429.4" rx="2.67" ry="2.62" transform="rotate(30 342.2 429.4)"/>
<ellipse cx="338.9" cy="424.0" rx="2.70" ry="2.21" transform="rotate(150 338.9 424.0)"/>
<circle cx="381.5" cy="420.1" r="2.44"/>
<circle cx="349.7" cy="451.5" r="2.34"/>
<ellipse cx="355.9" cy="418.1" rx="2.50" ry="2.01" transform="rotate(60 355.9 418.1)"/>
<ellipse cx="383.9" cy="440.9" rx="2.71" ry="2.07" transform="rotate(30 383.9 440.9)"/>
<ellipse cx="339.5" cy="442.2" rx="1.92" ry="1.61" transform="rotate(30 339.5 442.2)"/>
<ellipse cx="346.5" cy="429.8" rx="2.03" ry="1.80" transform="rotate(60 346.5 429.8)"/>
<ellipse cx="386.5" cy="442.1" rx="1.94" ry="1.78" transform="rotate(60 386.5 442.1)"/>
<ellipse cx="374.3" cy="424.7" rx="2.74" ry="1.98" transform="rotate(60 374.3 424.7)"/>
<ellipse cx="377.0" cy="432.1" rx="2.21" ry="1.85" transform="rotate(120 377.0 432.1)"/>
<ellipse cx="337.7" cy="435.8" rx="1.85" ry="1.53" transform="rotate(90 337.7 435.8)"/>
<ellipse cx="348.0" cy="448.5" rx="2.40" ry="1.88"/>
<ellipse cx="357.2" cy="450.7" rx="2.51" ry="2.05" transform="rotate(150 357.2 450.7)"/>
<ellipse cx="344.5" cy="440.2" rx="2.20" ry="1.78" transform="rotate(60 344.5 440.2)"/>
<ellipse cx="356.4" cy="451.4" rx="2.04" ry="1.61" transform="rotate(150 356.4 451.4)"/>
<ellipse cx="365.7" cy="418.1" rx="1.72" ry="1.39" transform="rotate(120 365.7 418.1)"/>
<ellipse cx="346.2" cy="432.5" rx="2.77" ry="2.23" transform="rotate(120 346.2 432.5)"/>
<ellipse cx="368.2" cy="433.6" rx="1.83" ry="1.39" transform="rotate(60 368.2 433.6)"/>
<ellipse cx="334.1" cy="438.5" rx="1.72" ry="1.56"/>
<ellipse cx="341.0" cy="420.2" rx="2.50" ry="1.88" transform="rotate(120 341.0 420.2)"/>
<circle cx="368.9" cy="439.0" r="2.08"/>
<ellipse cx="354.0" cy="446.9" rx="2.89" ry="2.59" transform="rotate(150 354.0 446.9)"/>
<ellipse cx="335.6" cy="453.0" rx="1.83" ry="1.64" transform="rotate(150 335.6 453.0)"/>
<ellipse cx="360.6" cy="438.3" rx="2.82" ry="2.39" transform="rotate(30 360.6 438.3)"/>
<ellipse cx="337.7" cy="445.7" rx="2.32" ry="1.63" transform="rotate(150 337.7 445.7)"/>
<ellipse cx="375.2" cy="449.7" rx="2.54" ry="2.28" transform="rotate(150 375.2 449.7)"/>
<ellipse cx="380.5" cy="432.9" rx="2.27" ry="1.69" transform="rotate(60 380.5 432.9)"/>
<ellipse cx="383.8" cy="449.3" rx="2.73" ry="1.93" transform="rotate(60 383.8 449.3)"/>
<ellipse cx="363.0" cy="452.1" rx="2.20" ry="2.05"/>
<ellipse cx="360.0" cy="422.0" rx="2.06" ry="1.79" transform="rotate(30 360.0 422.0)"/>
<ellipse cx="360.2" cy="428.5" rx="2.50" ry="2.01" transform="rotate(30 360.2 428.5)"/>
<ellipse cx="355.0" cy="419.5" rx="2.00" ry="1.53" transform="rotate(90 355.0 419.5)"/>
<ellipse cx="338.2" cy="422.5" rx="1.90" ry="1.85" transform="rotate(120 338.2 422.5)"/>
<ellipse cx="385.2" cy="436.2" rx="1.89" ry="1.55" transform="rotate(120 385.2 436.2)"/>
<ellipse cx="371.2" cy="421.8" rx="2.86" ry="2.70" transform="rotate(30 371.2 421.8)"/>
<ellipse cx="376.9" cy="443.6" rx="1.88" ry="1.72" transform="rotate(30 376.9 443.6)"/>
<ellipse cx="366.1" cy="431.9" rx="2.05" ry="1.74" transform="rotate(120 366.1 431.9)"/>
<ellipse cx="378.5" cy="419.2" rx="2.47" ry="2.04"/>
</g>
<g fill="#36c94d" opacity="0.92" filter="url(#b05)">
<ellipse cx="361.6" cy="440.9" rx="1.29" ry="1.07" transform="rotate(90 361.6 440.9)"/>
<ellipse cx="386.4" cy="437.4" rx="1.28" ry="0.95" transform="rotate(120 386.4 437.4)"/>
<ellipse cx="337.8" cy="439.7" rx="1.93" ry="1.51" transform="rotate(120 337.8 439.7)"/>
<ellipse cx="352.5" cy="432.8" rx="1.33" ry="1.12" transform="rotate(60 352.5 432.8)"/>
<ellipse cx="350.6" cy="421.7" rx="1.68" ry="1.34" transform="rotate(120 350.6 421.7)"/>
<ellipse cx="361.2" cy="437.0" rx="1.16" ry="0.95" transform="rotate(30 361.2 437.0)"/>
<ellipse cx="371.2" cy="418.7" rx="1.71" ry="1.38" transform="rotate(30 371.2 418.7)"/>
<ellipse cx="361.1" cy="443.6" rx="1.57" ry="1.27" transform="rotate(120 361.1 443.6)"/>
<circle cx="332.9" cy="438.6" r="1.97"/>
<ellipse cx="370.2" cy="447.3" rx="1.97" ry="1.50" transform="rotate(120 370.2 447.3)"/>
<ellipse cx="342.5" cy="421.8" rx="1.15" ry="1.07" transform="rotate(60 342.5 421.8)"/>
<ellipse cx="337.5" cy="426.5" rx="1.15" ry="0.90" transform="rotate(90 337.5 426.5)"/>
<ellipse cx="352.8" cy="420.8" rx="1.68" ry="1.47"/>
<ellipse cx="385.9" cy="447.0" rx="1.18" ry="0.94" transform="rotate(60 385.9 447.0)"/>
<ellipse cx="341.0" cy="427.7" rx="1.23" ry="0.97" transform="rotate(90 341.0 427.7)"/>
<circle cx="366.4" cy="437.1" r="1.14"/>
<ellipse cx="366.0" cy="441.8" rx="1.75" ry="1.33" transform="rotate(120 366.0 441.8)"/>
<ellipse cx="372.5" cy="432.4" rx="1.11" ry="1.00"/>
<ellipse cx="337.0" cy="441.9" rx="1.26" ry="0.93" transform="rotate(90 337.0 441.9)"/>
<ellipse cx="376.0" cy="433.4" rx="1.71" ry="1.66" transform="rotate(150 376.0 433.4)"/>
<ellipse cx="338.8" cy="447.1" rx="1.16" ry="1.05" transform="rotate(120 338.8 447.1)"/>
<ellipse cx="370.7" cy="431.7" rx="1.74" ry="1.58" transform="rotate(150 370.7 431.7)"/>
<ellipse cx="382.6" cy="425.1" rx="1.60" ry="1.32" transform="rotate(120 382.6 425.1)"/>
<ellipse cx="383.9" cy="423.1" rx="1.23" ry="0.96" transform="rotate(90 383.9 423.1)"/>
<ellipse cx="356.0" cy="431.0" rx="1.13" ry="1.02" transform="rotate(90 356.0 431.0)"/>
<ellipse cx="369.9" cy="431.3" rx="1.54" ry="1.44"/>
<ellipse cx="378.9" cy="445.0" rx="1.59" ry="1.27"/>
<ellipse cx="341.4" cy="430.0" rx="1.41" ry="1.24" transform="rotate(120 341.4 430.0)"/>
<ellipse cx="357.1" cy="438.4" rx="1.72" ry="1.44" transform="rotate(120 357.1 438.4)"/>
<ellipse cx="370.7" cy="431.6" rx="1.23" ry="0.90" transform="rotate(90 370.7 431.6)"/>
<ellipse cx="346.7" cy="443.5" rx="1.31" ry="1.14" transform="rotate(60 346.7 443.5)"/>
<ellipse cx="376.1" cy="426.6" rx="1.93" ry="1.49" transform="rotate(30 376.1 426.6)"/>
<circle cx="366.0" cy="437.4" r="1.49"/>
<ellipse cx="358.9" cy="425.8" rx="1.51" ry="1.40"/>
<circle cx="359.7" cy="422.9" r="1.71"/>
<ellipse cx="362.4" cy="429.4" rx="1.61" ry="1.20" transform="rotate(60 362.4 429.4)"/>
<ellipse cx="337.8" cy="445.4" rx="1.83" ry="1.40" transform="rotate(30 337.8 445.4)"/>
<ellipse cx="372.6" cy="429.8" rx="1.88" ry="1.40" transform="rotate(30 372.6 429.8)"/>
<ellipse cx="381.3" cy="450.3" rx="1.62" ry="1.47" transform="rotate(60 381.3 450.3)"/>
<ellipse cx="375.3" cy="446.2" rx="1.20" ry="1.06" transform="rotate(150 375.3 446.2)"/>
<ellipse cx="338.5" cy="430.3" rx="1.98" ry="1.49" transform="rotate(60 338.5 430.3)"/>
<ellipse cx="348.1" cy="437.5" rx="1.70" ry="1.32"/>
<ellipse cx="348.0" cy="427.4" rx="1.35" ry="1.15" transform="rotate(90 348.0 427.4)"/>
<ellipse cx="379.2" cy="447.9" rx="1.24" ry="1.10" transform="rotate(120 379.2 447.9)"/>
<ellipse cx="341.3" cy="444.2" rx="1.82" ry="1.66" transform="rotate(120 341.3 444.2)"/>
<circle cx="346.6" cy="419.5" r="1.80"/>
<ellipse cx="362.0" cy="434.6" rx="1.69" ry="1.53" transform="rotate(60 362.0 434.6)"/>
<ellipse cx="383.7" cy="435.5" rx="1.76" ry="1.53" transform="rotate(60 383.7 435.5)"/>
<ellipse cx="336.6" cy="437.1" rx="1.90" ry="1.66" transform="rotate(150 336.6 437.1)"/>
<circle cx="348.9" cy="417.7" r="1.77"/>
<ellipse cx="352.5" cy="430.1" rx="1.28" ry="0.95" transform="rotate(150 352.5 430.1)"/>
<ellipse cx="340.1" cy="432.2" rx="1.70" ry="1.26" transform="rotate(150 340.1 432.2)"/>
</g>
<g fill="#7cf07a" opacity="0.8">
<ellipse cx="385.4" cy="450.2" rx="0.69" ry="0.60" transform="rotate(90 385.4 450.2)"/>
<ellipse cx="342.5" cy="436.2" rx="0.56" ry="0.45" transform="rotate(90 342.5 436.2)"/>
<ellipse cx="380.3" cy="421.2" rx="0.68" ry="0.50" transform="rotate(30 380.3 421.2)"/>
<circle cx="358.9" cy="437.3" r="0.42"/>
<ellipse cx="381.3" cy="426.7" rx="0.43" ry="0.33" transform="rotate(60 381.3 426.7)"/>
<circle cx="385.5" cy="451.2" r="0.68"/>
<ellipse cx="333.6" cy="434.9" rx="0.68" ry="0.60" transform="rotate(150 333.6 434.9)"/>
<ellipse cx="381.3" cy="428.8" rx="0.57" ry="0.43" transform="rotate(120 381.3 428.8)"/>
<ellipse cx="382.1" cy="421.5" rx="0.45" ry="0.35" transform="rotate(60 382.1 421.5)"/>
<circle cx="333.8" cy="418.7" r="0.69"/>
<ellipse cx="378.5" cy="444.7" rx="0.58" ry="0.52"/>
<circle cx="336.2" cy="445.7" r="0.40"/>
</g>
</g>
<rect x="332.90" y="418.00" width="53.50" height="34.60" fill="none" stroke="#050805" stroke-width="0.8"/>
<clipPath id="mc9"><rect x="275.20" y="455.20" width="55.30" height="34.70"/></clipPath>
<g clip-path="url(#mc9)">
<rect x="275.20" y="455.20" width="55.30" height="34.70" fill="#06130a" />
<g fill="#1f7f2c" opacity="0.06" filter="url(#b3)">
<ellipse cx="297.7" cy="466.8" rx="6.39" ry="4.04"/>
<ellipse cx="317.8" cy="464.3" rx="7.34" ry="5.58"/>
<ellipse cx="293.7" cy="478.6" rx="6.82" ry="4.70"/>
<ellipse cx="324.0" cy="461.3" rx="5.60" ry="4.76"/>
<ellipse cx="301.7" cy="482.4" rx="6.33" ry="4.71"/>
<ellipse cx="311.4" cy="464.2" rx="7.09" ry="4.76"/>
<ellipse cx="323.7" cy="461.6" rx="5.93" ry="4.90"/>
</g>
<g fill="#239c38" opacity="0.55" filter="url(#b1)">
<ellipse cx="315.4" cy="478.6" rx="1.10" ry="1.03" transform="rotate(120 315.4 478.6)"/>
<ellipse cx="313.1" cy="472.7" rx="0.96" ry="0.80"/>
<ellipse cx="329.9" cy="468.1" rx="1.15" ry="0.93"/>
<ellipse cx="296.6" cy="459.9" rx="1.49" ry="1.40" transform="rotate(30 296.6 459.9)"/>
<ellipse cx="318.9" cy="468.4" rx="1.10" ry="0.87" transform="rotate(120 318.9 468.4)"/>
<circle cx="279.0" cy="489.0" r="1.47"/>
<circle cx="296.2" cy="457.5" r="1.20"/>
<ellipse cx="284.0" cy="472.3" rx="0.94" ry="0.72" transform="rotate(60 284.0 472.3)"/>
<ellipse cx="326.7" cy="460.1" rx="1.11" ry="1.01"/>
<circle cx="282.7" cy="478.7" r="1.02"/>
<ellipse cx="312.2" cy="467.9" rx="1.43" ry="1.31" transform="rotate(60 312.2 467.9)"/>
<ellipse cx="323.4" cy="489.3" rx="0.99" ry="0.91" transform="rotate(150 323.4 489.3)"/>
<ellipse cx="292.2" cy="461.5" rx="0.93" ry="0.68" transform="rotate(120 292.2 461.5)"/>
<ellipse cx="320.3" cy="470.6" rx="1.21" ry="1.14" transform="rotate(60 320.3 470.6)"/>
</g>
<g fill="#36c94d" opacity="0.95" filter="url(#b05)">
<ellipse cx="279.7" cy="462.9" rx="0.98" ry="0.71" transform="rotate(60 279.7 462.9)"/>
<ellipse cx="326.9" cy="478.7" rx="0.99" ry="0.75" transform="rotate(60 326.9 478.7)"/>
<circle cx="281.0" cy="472.0" r="0.86"/>
<ellipse cx="308.6" cy="484.6" rx="0.78" ry="0.66" transform="rotate(30 308.6 484.6)"/>
<ellipse cx="301.1" cy="478.7" rx="0.66" ry="0.55" transform="rotate(120 301.1 478.7)"/>
<ellipse cx="278.1" cy="460.9" rx="0.76" ry="0.57" transform="rotate(150 278.1 460.9)"/>
<ellipse cx="328.4" cy="456.0" rx="0.93" ry="0.77" transform="rotate(90 328.4 456.0)"/>
<ellipse cx="278.7" cy="456.1" rx="0.84" ry="0.68" transform="rotate(30 278.7 456.1)"/>
<ellipse cx="277.5" cy="464.2" rx="0.72" ry="0.64" transform="rotate(60 277.5 464.2)"/>
<ellipse cx="289.1" cy="481.0" rx="0.88" ry="0.66" transform="rotate(30 289.1 481.0)"/>
<ellipse cx="307.3" cy="469.7" rx="0.95" ry="0.82" transform="rotate(90 307.3 469.7)"/>
<ellipse cx="327.7" cy="472.3" rx="0.70" ry="0.63" transform="rotate(120 327.7 472.3)"/>
<ellipse cx="324.0" cy="460.8" rx="0.94" ry="0.80" transform="rotate(60 324.0 460.8)"/>
<ellipse cx="326.8" cy="466.1" rx="0.91" ry="0.79" transform="rotate(90 326.8 466.1)"/>
<ellipse cx="327.6" cy="465.1" rx="0.66" ry="0.48" transform="rotate(150 327.6 465.1)"/>
<circle cx="301.7" cy="459.1" r="0.60"/>
<ellipse cx="313.1" cy="478.2" rx="0.86" ry="0.71" transform="rotate(90 313.1 478.2)"/>
<ellipse cx="310.1" cy="471.2" rx="0.83" ry="0.60" transform="rotate(90 310.1 471.2)"/>
<ellipse cx="278.6" cy="460.2" rx="0.86" ry="0.61" transform="rotate(120 278.6 460.2)"/>
<ellipse cx="279.9" cy="483.0" rx="0.78" ry="0.60" transform="rotate(90 279.9 483.0)"/>
<ellipse cx="289.3" cy="486.5" rx="0.92" ry="0.78" transform="rotate(90 289.3 486.5)"/>
<circle cx="278.4" cy="457.7" r="0.74"/>
<ellipse cx="321.7" cy="472.7" rx="0.72" ry="0.57" transform="rotate(30 321.7 472.7)"/>
<ellipse cx="313.3" cy="470.7" rx="0.86" ry="0.68" transform="rotate(150 313.3 470.7)"/>
<ellipse cx="313.1" cy="482.9" rx="0.97" ry="0.88" transform="rotate(60 313.1 482.9)"/>
<ellipse cx="284.9" cy="483.5" rx="0.92" ry="0.73" transform="rotate(30 284.9 483.5)"/>
<ellipse cx="319.9" cy="488.4" rx="0.62" ry="0.55" transform="rotate(90 319.9 488.4)"/>
<circle cx="309.0" cy="486.8" r="0.92"/>
<ellipse cx="329.2" cy="460.7" rx="0.95" ry="0.74" transform="rotate(60 329.2 460.7)"/>
<ellipse cx="292.4" cy="461.7" rx="0.95" ry="0.86" transform="rotate(60 292.4 461.7)"/>
<ellipse cx="309.6" cy="459.5" rx="0.99" ry="0.91"/>
<ellipse cx="297.7" cy="468.9" rx="0.77" ry="0.72"/>
<ellipse cx="327.4" cy="477.4" rx="0.83" ry="0.70" transform="rotate(90 327.4 477.4)"/>
<ellipse cx="277.4" cy="485.9" rx="0.88" ry="0.75" transform="rotate(30 277.4 485.9)"/>
<ellipse cx="309.4" cy="459.3" rx="0.69" ry="0.52" transform="rotate(90 309.4 459.3)"/>
<ellipse cx="290.3" cy="461.7" rx="0.73" ry="0.65" transform="rotate(150 290.3 461.7)"/>
<ellipse cx="280.9" cy="466.6" rx="0.91" ry="0.65"/>
<circle cx="327.8" cy="476.7" r="0.72"/>
<ellipse cx="290.6" cy="473.3" rx="0.73" ry="0.62"/>
<circle cx="314.2" cy="456.9" r="0.64"/>
<ellipse cx="286.2" cy="475.4" rx="0.70" ry="0.54" transform="rotate(60 286.2 475.4)"/>
<ellipse cx="294.0" cy="488.5" rx="0.76" ry="0.60" transform="rotate(150 294.0 488.5)"/>
<ellipse cx="287.1" cy="487.1" rx="0.81" ry="0.76"/>
<circle cx="299.1" cy="479.0" r="0.65"/>
<circle cx="326.3" cy="472.6" r="0.92"/>
<ellipse cx="330.4" cy="473.5" rx="0.82" ry="0.62"/>
<ellipse cx="285.4" cy="488.8" rx="0.85" ry="0.79" transform="rotate(120 285.4 488.8)"/>
<ellipse cx="292.9" cy="481.8" rx="0.89" ry="0.80" transform="rotate(150 292.9 481.8)"/>
<circle cx="278.6" cy="489.1" r="0.62"/>
<ellipse cx="324.3" cy="457.1" rx="0.98" ry="0.71" transform="rotate(60 324.3 457.1)"/>
</g>
<g fill="#7cf07a" opacity="0.9">
<circle cx="309.2" cy="485.3" r="0.49"/>
<ellipse cx="316.4" cy="469.2" rx="0.51" ry="0.46" transform="rotate(150 316.4 469.2)"/>
<ellipse cx="297.8" cy="458.2" rx="0.57" ry="0.50" transform="rotate(30 297.8 458.2)"/>
<ellipse cx="301.4" cy="455.8" rx="0.41" ry="0.30" transform="rotate(90 301.4 455.8)"/>
<ellipse cx="309.4" cy="462.4" rx="0.55" ry="0.42" transform="rotate(150 309.4 462.4)"/>
<circle cx="307.7" cy="466.2" r="0.50"/>
<circle cx="276.4" cy="484.2" r="0.47"/>
<ellipse cx="297.3" cy="486.0" rx="0.48" ry="0.37"/>
<ellipse cx="300.0" cy="467.9" rx="0.54" ry="0.45" transform="rotate(90 300.0 467.9)"/>
<circle cx="286.9" cy="456.0" r="0.49"/>
<circle cx="300.4" cy="471.6" r="0.55"/>
<circle cx="312.7" cy="472.7" r="0.53"/>
<ellipse cx="279.3" cy="463.1" rx="0.58" ry="0.44" transform="rotate(120 279.3 463.1)"/>
<ellipse cx="311.5" cy="478.4" rx="0.59" ry="0.49" transform="rotate(150 311.5 478.4)"/>
<ellipse cx="308.4" cy="458.2" rx="0.46" ry="0.40" transform="rotate(150 308.4 458.2)"/>
<ellipse cx="314.6" cy="455.8" rx="0.47" ry="0.39" transform="rotate(90 314.6 455.8)"/>
<ellipse cx="309.1" cy="462.9" rx="0.45" ry="0.37" transform="rotate(30 309.1 462.9)"/>
<ellipse cx="299.2" cy="472.5" rx="0.55" ry="0.39" transform="rotate(30 299.2 472.5)"/>
</g>
</g>
<rect x="275.60" y="455.60" width="54.50" height="33.90" fill="none" stroke="#050805" stroke-width="0.8"/>
<clipPath id="mc10"><rect x="332.50" y="455.20" width="54.30" height="34.70"/></clipPath>
<g clip-path="url(#mc10)">
<rect x="332.50" y="455.20" width="54.30" height="34.70" fill="#091f0d" />
<g fill="#1f7f2c" opacity="0.2" filter="url(#b3)">
<ellipse cx="378.0" cy="468.8" rx="7.36" ry="6.14"/>
<ellipse cx="373.9" cy="481.1" rx="7.32" ry="4.75"/>
<ellipse cx="370.8" cy="474.7" rx="7.18" ry="6.96"/>
<ellipse cx="339.9" cy="482.3" rx="6.30" ry="6.18"/>
<ellipse cx="384.1" cy="464.7" rx="7.27" ry="5.58"/>
<ellipse cx="359.4" cy="461.0" rx="7.50" ry="6.68"/>
<ellipse cx="368.5" cy="465.2" rx="8.22" ry="5.26"/>
</g>
<g fill="#239c38" opacity="0.62" filter="url(#b1)">
<ellipse cx="365.4" cy="471.2" rx="1.33" ry="1.14" transform="rotate(90 365.4 471.2)"/>
<ellipse cx="384.3" cy="467.4" rx="1.71" ry="1.59"/>
<ellipse cx="362.1" cy="461.0" rx="1.21" ry="0.98" transform="rotate(30 362.1 461.0)"/>
<ellipse cx="347.4" cy="467.6" rx="1.54" ry="1.33"/>
<ellipse cx="354.1" cy="469.2" rx="1.69" ry="1.58" transform="rotate(150 354.1 469.2)"/>
<ellipse cx="383.2" cy="463.9" rx="1.99" ry="1.50"/>
<ellipse cx="367.1" cy="456.1" rx="2.02" ry="1.53"/>
<ellipse cx="370.3" cy="456.2" rx="1.64" ry="1.55" transform="rotate(60 370.3 456.2)"/>
<ellipse cx="370.7" cy="479.5" rx="1.39" ry="1.11" transform="rotate(30 370.7 479.5)"/>
<circle cx="370.6" cy="456.2" r="1.96"/>
<ellipse cx="359.9" cy="467.7" rx="1.45" ry="1.26" transform="rotate(120 359.9 467.7)"/>
<ellipse cx="340.7" cy="488.7" rx="1.76" ry="1.41" transform="rotate(90 340.7 488.7)"/>
<ellipse cx="342.0" cy="461.5" rx="2.00" ry="1.75" transform="rotate(30 342.0 461.5)"/>
<ellipse cx="365.3" cy="467.3" rx="1.63" ry="1.51" transform="rotate(60 365.3 467.3)"/>
<ellipse cx="344.8" cy="467.8" rx="1.99" ry="1.53" transform="rotate(150 344.8 467.8)"/>
<ellipse cx="378.7" cy="481.1" rx="1.80" ry="1.68" transform="rotate(150 378.7 481.1)"/>
<ellipse cx="364.2" cy="458.5" rx="1.69" ry="1.20" transform="rotate(60 364.2 458.5)"/>
<ellipse cx="359.2" cy="473.7" rx="1.89" ry="1.54"/>
<ellipse cx="381.9" cy="476.5" rx="1.58" ry="1.36"/>
<ellipse cx="370.3" cy="466.4" rx="1.80" ry="1.51" transform="rotate(60 370.3 466.4)"/>
<ellipse cx="333.6" cy="463.9" rx="1.40" ry="0.98" transform="rotate(60 333.6 463.9)"/>
<ellipse cx="333.3" cy="467.8" rx="1.47" ry="1.21" transform="rotate(30 333.3 467.8)"/>
<ellipse cx="338.6" cy="484.6" rx="1.44" ry="1.21" transform="rotate(120 338.6 484.6)"/>
<ellipse cx="362.1" cy="485.7" rx="1.37" ry="1.32" transform="rotate(150 362.1 485.7)"/>
<ellipse cx="371.5" cy="463.7" rx="1.60" ry="1.51" transform="rotate(60 371.5 463.7)"/>
<ellipse cx="357.9" cy="473.6" rx="1.65" ry="1.42" transform="rotate(30 357.9 473.6)"/>
<ellipse cx="348.6" cy="468.8" rx="1.46" ry="1.30"/>
<ellipse cx="348.0" cy="461.8" rx="1.76" ry="1.69" transform="rotate(120 348.0 461.8)"/>
<ellipse cx="370.1" cy="481.0" rx="1.82" ry="1.52" transform="rotate(90 370.1 481.0)"/>
<ellipse cx="344.8" cy="475.3" rx="1.65" ry="1.48" transform="rotate(30 344.8 475.3)"/>
<ellipse cx="345.9" cy="488.9" rx="1.27" ry="1.09" transform="rotate(120 345.9 488.9)"/>
<ellipse cx="334.6" cy="465.2" rx="1.70" ry="1.37"/>
<ellipse cx="338.6" cy="485.3" rx="1.68" ry="1.58" transform="rotate(150 338.6 485.3)"/>
<circle cx="338.5" cy="474.7" r="1.78"/>
<ellipse cx="362.2" cy="457.1" rx="1.73" ry="1.58"/>
<ellipse cx="381.4" cy="478.6" rx="1.62" ry="1.24" transform="rotate(90 381.4 478.6)"/>
<circle cx="376.6" cy="489.5" r="1.79"/>
<ellipse cx="344.4" cy="478.0" rx="1.22" ry="0.93"/>
</g>
<g fill="#36c94d" opacity="0.92" filter="url(#b05)">
<circle cx="349.4" cy="461.4" r="0.85"/>
<circle cx="367.1" cy="464.3" r="0.76"/>
<ellipse cx="341.5" cy="467.1" rx="0.83" ry="0.77" transform="rotate(150 341.5 467.1)"/>
<ellipse cx="343.5" cy="456.2" rx="0.78" ry="0.59" transform="rotate(90 343.5 456.2)"/>
<circle cx="386.0" cy="483.1" r="1.09"/>
<circle cx="367.0" cy="476.5" r="0.81"/>
<ellipse cx="349.0" cy="485.7" rx="1.22" ry="1.09" transform="rotate(90 349.0 485.7)"/>
<circle cx="342.6" cy="472.4" r="1.13"/>
<ellipse cx="347.2" cy="462.1" rx="1.05" ry="0.76" transform="rotate(60 347.2 462.1)"/>
<circle cx="345.4" cy="465.3" r="0.81"/>
<ellipse cx="366.9" cy="477.8" rx="0.77" ry="0.70" transform="rotate(150 366.9 477.8)"/>
<ellipse cx="332.9" cy="469.4" rx="0.89" ry="0.78"/>
<circle cx="335.1" cy="456.2" r="1.02"/>
<ellipse cx="353.6" cy="487.9" rx="1.03" ry="0.92" transform="rotate(120 353.6 487.9)"/>
<ellipse cx="359.7" cy="472.5" rx="0.81" ry="0.75" transform="rotate(120 359.7 472.5)"/>
<ellipse cx="356.9" cy="472.0" rx="1.08" ry="0.77" transform="rotate(120 356.9 472.0)"/>
<ellipse cx="334.3" cy="461.8" rx="1.22" ry="1.02" transform="rotate(90 334.3 461.8)"/>
<ellipse cx="373.0" cy="481.6" rx="1.07" ry="0.98"/>
<ellipse cx="336.1" cy="464.8" rx="0.91" ry="0.81"/>
<ellipse cx="367.6" cy="460.2" rx="0.84" ry="0.77" transform="rotate(30 367.6 460.2)"/>
<ellipse cx="365.2" cy="487.0" rx="1.21" ry="0.86"/>
<ellipse cx="342.3" cy="470.8" rx="0.84" ry="0.70"/>
<ellipse cx="341.6" cy="461.1" rx="1.08" ry="0.93" transform="rotate(90 341.6 461.1)"/>
<ellipse cx="353.0" cy="481.1" rx="0.95" ry="0.69"/>
<ellipse cx="334.7" cy="476.5" rx="0.98" ry="0.75" transform="rotate(60 334.7 476.5)"/>
<ellipse cx="355.5" cy="482.6" rx="1.26" ry="1.21" transform="rotate(60 355.5 482.6)"/>
<ellipse cx="383.5" cy="459.8" rx="1.03" ry="0.84" transform="rotate(150 383.5 459.8)"/>
<ellipse cx="382.7" cy="458.9" rx="1.23" ry="1.10" transform="rotate(60 382.7 458.9)"/>
<ellipse cx="348.4" cy="481.2" rx="0.87" ry="0.81" transform="rotate(150 348.4 481.2)"/>
<circle cx="367.4" cy="477.0" r="1.14"/>
<ellipse cx="338.6" cy="489.2" rx="1.16" ry="1.07" transform="rotate(150 338.6 489.2)"/>
<circle cx="365.4" cy="488.5" r="0.92"/>
<ellipse cx="347.6" cy="463.3" rx="1.23" ry="1.04" transform="rotate(60 347.6 463.3)"/>
<ellipse cx="340.3" cy="469.2" rx="1.28" ry="1.11" transform="rotate(30 340.3 469.2)"/>
<ellipse cx="368.1" cy="470.3" rx="1.17" ry="1.02" transform="rotate(30 368.1 470.3)"/>
<ellipse cx="365.5" cy="461.8" rx="0.89" ry="0.75"/>
<ellipse cx="352.4" cy="479.3" rx="0.86" ry="0.65" transform="rotate(60 352.4 479.3)"/>
<ellipse cx="362.7" cy="467.0" rx="0.82" ry="0.57"/>
<ellipse cx="366.6" cy="477.5" rx="1.11" ry="0.94" transform="rotate(120 366.6 477.5)"/>
<ellipse cx="336.0" cy="480.0" rx="1.08" ry="0.83" transform="rotate(90 336.0 480.0)"/>
<ellipse cx="357.6" cy="471.7" rx="0.81" ry="0.73" transform="rotate(60 357.6 471.7)"/>
<ellipse cx="354.1" cy="466.1" rx="0.89" ry="0.82" transform="rotate(90 354.1 466.1)"/>
<ellipse cx="366.1" cy="486.9" rx="1.02" ry="0.92" transform="rotate(30 366.1 486.9)"/>
<ellipse cx="365.0" cy="479.0" rx="0.78" ry="0.64" transform="rotate(30 365.0 479.0)"/>
<ellipse cx="343.1" cy="478.6" rx="1.03" ry="0.83" transform="rotate(150 343.1 478.6)"/>
<ellipse cx="337.8" cy="456.4" rx="0.73" ry="0.62" transform="rotate(60 337.8 456.4)"/>
<ellipse cx="362.2" cy="484.9" rx="1.11" ry="0.90"/>
<ellipse cx="367.7" cy="471.7" rx="0.73" ry="0.54" transform="rotate(120 367.7 471.7)"/>
</g>
<g fill="#7cf07a" opacity="0.85">
<ellipse cx="336.0" cy="473.6" rx="0.43" ry="0.32" transform="rotate(120 336.0 473.6)"/>
<ellipse cx="379.2" cy="487.1" rx="0.54" ry="0.44" transform="rotate(150 379.2 487.1)"/>
<ellipse cx="380.5" cy="474.4" rx="0.55" ry="0.48"/>
<circle cx="385.4" cy="465.2" r="0.54"/>
<circle cx="344.0" cy="470.5" r="0.48"/>
<ellipse cx="360.2" cy="472.9" rx="0.52" ry="0.37" transform="rotate(30 360.2 472.9)"/>
<circle cx="352.3" cy="458.6" r="0.47"/>
<circle cx="357.2" cy="472.7" r="0.46"/>
<ellipse cx="369.7" cy="487.5" rx="0.59" ry="0.54" transform="rotate(60 369.7 487.5)"/>
<ellipse cx="338.9" cy="479.5" rx="0.42" ry="0.36" transform="rotate(150 338.9 479.5)"/>
<ellipse cx="356.6" cy="474.9" rx="0.59" ry="0.43" transform="rotate(30 356.6 474.9)"/>
<ellipse cx="356.6" cy="465.4" rx="0.55" ry="0.45" transform="rotate(30 356.6 465.4)"/>
<ellipse cx="332.7" cy="461.1" rx="0.55" ry="0.41" transform="rotate(30 332.7 461.1)"/>
<ellipse cx="380.8" cy="481.2" rx="0.43" ry="0.31" transform="rotate(150 380.8 481.2)"/>
</g>
</g>
<rect x="332.90" y="455.60" width="53.50" height="33.90" fill="none" stroke="#050805" stroke-width="0.8"/>
<clipPath id="mc11"><rect x="275.20" y="492.20" width="55.30" height="34.50"/></clipPath>
<g clip-path="url(#mc11)">
<rect x="275.20" y="492.20" width="55.30" height="34.50" fill="#06140a" />
<g fill="#1f7f2c" opacity="0.08" filter="url(#b3)">
<ellipse cx="283.8" cy="503.7" rx="5.73" ry="6.94"/>
<ellipse cx="290.8" cy="493.9" rx="7.82" ry="5.27"/>
<ellipse cx="279.4" cy="511.3" rx="8.90" ry="5.00"/>
<ellipse cx="297.4" cy="524.0" rx="8.05" ry="6.49"/>
<ellipse cx="325.6" cy="498.4" rx="6.98" ry="4.92"/>
<ellipse cx="298.3" cy="518.9" rx="8.83" ry="5.26"/>
<ellipse cx="283.9" cy="508.0" rx="5.72" ry="4.18"/>
</g>
<g fill="#239c38" opacity="0.6" filter="url(#b1)">
<ellipse cx="326.7" cy="525.8" rx="1.29" ry="1.22" transform="rotate(30 326.7 525.8)"/>
<circle cx="305.4" cy="525.0" r="1.10"/>
<ellipse cx="303.8" cy="522.4" rx="1.12" ry="0.98" transform="rotate(60 303.8 522.4)"/>
<ellipse cx="293.8" cy="506.7" rx="1.53" ry="1.39" transform="rotate(150 293.8 506.7)"/>
<ellipse cx="278.7" cy="509.8" rx="1.16" ry="0.89" transform="rotate(30 278.7 509.8)"/>
<ellipse cx="302.6" cy="514.4" rx="1.58" ry="1.28" transform="rotate(60 302.6 514.4)"/>
<ellipse cx="287.7" cy="513.1" rx="1.05" ry="0.82"/>
<ellipse cx="308.3" cy="513.4" rx="1.49" ry="1.39" transform="rotate(120 308.3 513.4)"/>
<ellipse cx="318.5" cy="507.1" rx="1.56" ry="1.20" transform="rotate(60 318.5 507.1)"/>
<ellipse cx="318.4" cy="496.5" rx="1.64" ry="1.27" transform="rotate(90 318.4 496.5)"/>
<ellipse cx="322.0" cy="519.8" rx="1.25" ry="1.13" transform="rotate(60 322.0 519.8)"/>
<ellipse cx="310.7" cy="500.9" rx="1.27" ry="1.01"/>
<ellipse cx="284.8" cy="523.6" rx="1.68" ry="1.47" transform="rotate(150 284.8 523.6)"/>
<circle cx="283.1" cy="514.2" r="1.08"/>
<ellipse cx="318.2" cy="509.1" rx="1.37" ry="1.00"/>
<ellipse cx="301.4" cy="499.2" rx="1.25" ry="0.98" transform="rotate(90 301.4 499.2)"/>
<ellipse cx="292.1" cy="508.7" rx="1.56" ry="1.19" transform="rotate(120 292.1 508.7)"/>
<ellipse cx="293.2" cy="498.8" rx="1.56" ry="1.15"/>
<ellipse cx="316.6" cy="511.3" rx="1.06" ry="0.82" transform="rotate(90 316.6 511.3)"/>
<ellipse cx="292.9" cy="493.4" rx="1.42" ry="1.17" transform="rotate(60 292.9 493.4)"/>
</g>
<g fill="#36c94d" opacity="0.95" filter="url(#b05)">
<ellipse cx="282.6" cy="513.7" rx="0.83" ry="0.77" transform="rotate(150 282.6 513.7)"/>
<ellipse cx="282.2" cy="520.1" rx="0.99" ry="0.72" transform="rotate(120 282.2 520.1)"/>
<ellipse cx="303.1" cy="498.4" rx="1.03" ry="0.91" transform="rotate(60 303.1 498.4)"/>
<circle cx="307.2" cy="523.2" r="1.20"/>
<ellipse cx="301.4" cy="519.0" rx="1.02" ry="0.92" transform="rotate(30 301.4 519.0)"/>
<ellipse cx="323.4" cy="520.0" rx="0.96" ry="0.89" transform="rotate(150 323.4 520.0)"/>
<ellipse cx="320.6" cy="518.6" rx="1.00" ry="0.84" transform="rotate(30 320.6 518.6)"/>
<ellipse cx="322.8" cy="525.4" rx="1.07" ry="1.00"/>
<ellipse cx="300.9" cy="511.7" rx="0.92" ry="0.72" transform="rotate(120 300.9 511.7)"/>
<ellipse cx="322.0" cy="519.9" rx="0.87" ry="0.61" transform="rotate(120 322.0 519.9)"/>
<ellipse cx="325.2" cy="499.5" rx="0.89" ry="0.72" transform="rotate(150 325.2 499.5)"/>
<ellipse cx="307.9" cy="515.2" rx="1.08" ry="0.89" transform="rotate(120 307.9 515.2)"/>
<ellipse cx="298.9" cy="493.6" rx="1.03" ry="0.74" transform="rotate(90 298.9 493.6)"/>
<ellipse cx="282.8" cy="499.0" rx="0.75" ry="0.65" transform="rotate(120 282.8 499.0)"/>
<ellipse cx="328.4" cy="499.6" rx="0.94" ry="0.85" transform="rotate(150 328.4 499.6)"/>
<ellipse cx="320.9" cy="525.9" rx="0.78" ry="0.59" transform="rotate(90 320.9 525.9)"/>
<ellipse cx="286.7" cy="496.4" rx="1.17" ry="0.88" transform="rotate(30 286.7 496.4)"/>
<ellipse cx="280.2" cy="492.4" rx="1.16" ry="1.10" transform="rotate(60 280.2 492.4)"/>
<ellipse cx="290.9" cy="521.4" rx="0.75" ry="0.64" transform="rotate(60 290.9 521.4)"/>
<ellipse cx="300.5" cy="508.3" rx="0.92" ry="0.74" transform="rotate(90 300.5 508.3)"/>
<circle cx="327.8" cy="522.4" r="0.95"/>
<ellipse cx="277.7" cy="505.6" rx="0.77" ry="0.62"/>
<ellipse cx="324.7" cy="515.3" rx="0.98" ry="0.75" transform="rotate(60 324.7 515.3)"/>
<ellipse cx="292.7" cy="504.9" rx="0.72" ry="0.57" transform="rotate(30 292.7 504.9)"/>
<ellipse cx="313.2" cy="513.5" rx="0.73" ry="0.58" transform="rotate(30 313.2 513.5)"/>
<ellipse cx="276.0" cy="518.6" rx="0.75" ry="0.58" transform="rotate(150 276.0 518.6)"/>
<ellipse cx="327.3" cy="499.1" rx="1.11" ry="0.90" transform="rotate(90 327.3 499.1)"/>
<ellipse cx="315.9" cy="502.6" rx="1.08" ry="0.91" transform="rotate(60 315.9 502.6)"/>
<circle cx="280.7" cy="525.6" r="0.74"/>
<circle cx="308.4" cy="525.3" r="1.16"/>
<ellipse cx="293.4" cy="524.3" rx="1.13" ry="0.86" transform="rotate(90 293.4 524.3)"/>
<ellipse cx="299.7" cy="521.2" rx="0.85" ry="0.77" transform="rotate(30 299.7 521.2)"/>
<ellipse cx="298.2" cy="520.1" rx="0.74" ry="0.53" transform="rotate(60 298.2 520.1)"/>
<circle cx="291.4" cy="506.6" r="0.84"/>
<ellipse cx="298.2" cy="506.4" rx="1.13" ry="0.93" transform="rotate(120 298.2 506.4)"/>
<ellipse cx="287.8" cy="494.4" rx="0.87" ry="0.62" transform="rotate(90 287.8 494.4)"/>
<ellipse cx="291.3" cy="524.1" rx="0.84" ry="0.72" transform="rotate(60 291.3 524.1)"/>
<ellipse cx="312.5" cy="503.8" rx="0.71" ry="0.60" transform="rotate(90 312.5 503.8)"/>
<ellipse cx="309.6" cy="492.5" rx="0.75" ry="0.69" transform="rotate(30 309.6 492.5)"/>
<ellipse cx="276.8" cy="508.8" rx="0.76" ry="0.53"/>
<ellipse cx="299.7" cy="510.3" rx="0.88" ry="0.62"/>
<ellipse cx="321.3" cy="514.7" rx="0.90" ry="0.66" transform="rotate(90 321.3 514.7)"/>
<ellipse cx="303.0" cy="519.5" rx="1.08" ry="1.02" transform="rotate(150 303.0 519.5)"/>
<circle cx="291.8" cy="525.3" r="0.77"/>
<circle cx="329.9" cy="524.0" r="0.96"/>
<ellipse cx="306.1" cy="522.8" rx="0.97" ry="0.85" transform="rotate(30 306.1 522.8)"/>
<ellipse cx="327.6" cy="497.9" rx="0.89" ry="0.77" transform="rotate(30 327.6 497.9)"/>
<ellipse cx="317.2" cy="496.1" rx="1.15" ry="1.02" transform="rotate(90 317.2 496.1)"/>
</g>
<g fill="#7cf07a" opacity="0.9">
<circle cx="287.6" cy="517.5" r="0.40"/>
<circle cx="297.8" cy="508.1" r="0.59"/>
<ellipse cx="304.4" cy="493.4" rx="0.59" ry="0.50" transform="rotate(60 304.4 493.4)"/>
<ellipse cx="307.3" cy="505.4" rx="0.43" ry="0.36" transform="rotate(90 307.3 505.4)"/>
<ellipse cx="305.8" cy="509.5" rx="0.43" ry="0.32" transform="rotate(90 305.8 509.5)"/>
<ellipse cx="301.3" cy="507.2" rx="0.48" ry="0.42"/>
<ellipse cx="325.4" cy="520.8" rx="0.59" ry="0.45" transform="rotate(30 325.4 520.8)"/>
<circle cx="325.7" cy="508.8" r="0.44"/>
<ellipse cx="292.5" cy="492.9" rx="0.60" ry="0.44" transform="rotate(30 292.5 492.9)"/>
<ellipse cx="327.8" cy="524.8" rx="0.60" ry="0.54"/>
<ellipse cx="318.7" cy="523.2" rx="0.45" ry="0.35"/>
<ellipse cx="290.6" cy="523.5" rx="0.49" ry="0.43" transform="rotate(30 290.6 523.5)"/>
<ellipse cx="317.6" cy="509.8" rx="0.55" ry="0.43" transform="rotate(120 317.6 509.8)"/>
<ellipse cx="313.9" cy="517.8" rx="0.52" ry="0.39" transform="rotate(60 313.9 517.8)"/>
<circle cx="286.9" cy="500.0" r="0.59"/>
<circle cx="321.7" cy="521.5" r="0.59"/>
</g>
</g>
<rect x="275.60" y="492.60" width="54.50" height="33.70" fill="none" stroke="#050805" stroke-width="0.8"/>
<clipPath id="mc12"><rect x="332.50" y="492.20" width="54.30" height="34.50"/></clipPath>
<g clip-path="url(#mc12)">
<rect x="332.50" y="492.20" width="54.30" height="34.50" fill="#081b0c" />
<g fill="#1f7f2c" opacity="0.14" filter="url(#b3)">
<ellipse cx="369.5" cy="522.6" rx="8.74" ry="6.23"/>
<ellipse cx="335.7" cy="505.8" rx="7.05" ry="6.25"/>
<ellipse cx="335.1" cy="512.4" rx="7.75" ry="6.56"/>
<ellipse cx="343.3" cy="503.1" rx="6.74" ry="4.18"/>
<ellipse cx="386.0" cy="518.5" rx="6.52" ry="6.15"/>
<ellipse cx="354.5" cy="524.7" rx="5.60" ry="5.33"/>
<ellipse cx="377.1" cy="516.9" rx="5.63" ry="6.96"/>
</g>
<g fill="#239c38" opacity="0.62" filter="url(#b1)">
<circle cx="377.9" cy="496.9" r="1.84"/>
<ellipse cx="339.8" cy="520.0" rx="1.57" ry="1.42" transform="rotate(150 339.8 520.0)"/>
<ellipse cx="372.2" cy="513.4" rx="1.59" ry="1.28" transform="rotate(60 372.2 513.4)"/>
<ellipse cx="351.4" cy="526.3" rx="1.61" ry="1.54" transform="rotate(120 351.4 526.3)"/>
<ellipse cx="368.8" cy="513.1" rx="1.83" ry="1.72" transform="rotate(90 368.8 513.1)"/>
<ellipse cx="333.3" cy="513.4" rx="1.47" ry="1.31" transform="rotate(120 333.3 513.4)"/>
<ellipse cx="335.9" cy="514.5" rx="1.39" ry="1.11" transform="rotate(90 335.9 514.5)"/>
<ellipse cx="364.7" cy="521.6" rx="1.89" ry="1.76" transform="rotate(30 364.7 521.6)"/>
<ellipse cx="381.2" cy="505.9" rx="1.47" ry="1.03" transform="rotate(60 381.2 505.9)"/>
<ellipse cx="335.8" cy="511.9" rx="1.83" ry="1.46"/>
<ellipse cx="337.8" cy="502.7" rx="1.65" ry="1.35"/>
<ellipse cx="360.2" cy="504.5" rx="1.17" ry="0.84" transform="rotate(120 360.2 504.5)"/>
<ellipse cx="343.1" cy="510.5" rx="1.88" ry="1.45"/>
<ellipse cx="355.1" cy="515.9" rx="1.52" ry="1.22" transform="rotate(120 355.1 515.9)"/>
<ellipse cx="370.4" cy="504.5" rx="1.59" ry="1.31" transform="rotate(60 370.4 504.5)"/>
<circle cx="374.6" cy="519.9" r="1.86"/>
<ellipse cx="372.7" cy="494.1" rx="1.79" ry="1.33" transform="rotate(150 372.7 494.1)"/>
<ellipse cx="377.6" cy="510.6" rx="1.18" ry="1.04" transform="rotate(120 377.6 510.6)"/>
<ellipse cx="356.3" cy="508.2" rx="1.19" ry="0.97" transform="rotate(60 356.3 508.2)"/>
<ellipse cx="347.1" cy="526.0" rx="1.51" ry="1.23"/>
<ellipse cx="333.7" cy="495.5" rx="1.69" ry="1.27" transform="rotate(90 333.7 495.5)"/>
<circle cx="349.9" cy="515.1" r="1.59"/>
<ellipse cx="382.5" cy="500.9" rx="1.81" ry="1.72"/>
<ellipse cx="376.5" cy="508.8" rx="1.58" ry="1.35" transform="rotate(150 376.5 508.8)"/>
<ellipse cx="371.4" cy="510.4" rx="1.20" ry="0.84" transform="rotate(30 371.4 510.4)"/>
<ellipse cx="380.6" cy="520.4" rx="1.15" ry="0.98" transform="rotate(90 380.6 520.4)"/>
<ellipse cx="356.9" cy="501.5" rx="1.50" ry="1.34"/>
<ellipse cx="369.3" cy="496.2" rx="1.84" ry="1.69" transform="rotate(150 369.3 496.2)"/>
<ellipse cx="371.6" cy="521.2" rx="1.43" ry="1.06" transform="rotate(120 371.6 521.2)"/>
<ellipse cx="347.5" cy="502.1" rx="1.52" ry="1.47" transform="rotate(60 347.5 502.1)"/>
</g>
<g fill="#36c94d" opacity="0.92" filter="url(#b05)">
<circle cx="354.0" cy="499.3" r="0.75"/>
<ellipse cx="373.3" cy="526.1" rx="1.28" ry="1.12"/>
<ellipse cx="381.7" cy="516.6" rx="0.98" ry="0.79" transform="rotate(90 381.7 516.6)"/>
<ellipse cx="348.6" cy="500.2" rx="1.27" ry="0.98" transform="rotate(30 348.6 500.2)"/>
<ellipse cx="341.2" cy="512.2" rx="1.21" ry="1.00" transform="rotate(120 341.2 512.2)"/>
<ellipse cx="349.5" cy="520.7" rx="1.27" ry="1.09"/>
<ellipse cx="351.8" cy="513.6" rx="0.98" ry="0.84" transform="rotate(30 351.8 513.6)"/>
<ellipse cx="345.1" cy="515.9" rx="1.12" ry="1.07" transform="rotate(150 345.1 515.9)"/>
<ellipse cx="348.5" cy="509.6" rx="0.82" ry="0.70"/>
<ellipse cx="361.9" cy="494.0" rx="1.25" ry="1.02" transform="rotate(30 361.9 494.0)"/>
<circle cx="348.5" cy="493.7" r="0.74"/>
<circle cx="379.6" cy="493.8" r="1.22"/>
<ellipse cx="368.2" cy="495.5" rx="1.07" ry="0.92"/>
<ellipse cx="337.9" cy="517.7" rx="0.78" ry="0.64"/>
<ellipse cx="353.9" cy="519.5" rx="0.85" ry="0.59" transform="rotate(120 353.9 519.5)"/>
<ellipse cx="345.6" cy="507.7" rx="0.93" ry="0.69" transform="rotate(90 345.6 507.7)"/>
<ellipse cx="343.3" cy="508.8" rx="0.83" ry="0.65" transform="rotate(120 343.3 508.8)"/>
<ellipse cx="360.2" cy="504.1" rx="1.29" ry="1.24" transform="rotate(120 360.2 504.1)"/>
<circle cx="383.3" cy="521.5" r="0.77"/>
<ellipse cx="345.3" cy="494.4" rx="1.29" ry="1.08" transform="rotate(120 345.3 494.4)"/>
<ellipse cx="332.7" cy="496.6" rx="0.83" ry="0.60" transform="rotate(120 332.7 496.6)"/>
<ellipse cx="355.1" cy="525.2" rx="1.20" ry="0.84" transform="rotate(60 355.1 525.2)"/>
<circle cx="364.7" cy="514.4" r="0.78"/>
<ellipse cx="349.0" cy="497.2" rx="0.78" ry="0.66"/>
<ellipse cx="341.2" cy="522.9" rx="1.08" ry="0.97" transform="rotate(30 341.2 522.9)"/>
<ellipse cx="377.5" cy="520.0" rx="1.20" ry="0.92" transform="rotate(60 377.5 520.0)"/>
<ellipse cx="356.7" cy="508.0" rx="0.82" ry="0.68" transform="rotate(30 356.7 508.0)"/>
<circle cx="355.9" cy="522.1" r="0.87"/>
<ellipse cx="382.7" cy="501.6" rx="1.23" ry="1.09"/>
<ellipse cx="380.7" cy="511.9" rx="1.29" ry="1.15" transform="rotate(120 380.7 511.9)"/>
<ellipse cx="336.1" cy="508.1" rx="1.04" ry="0.75" transform="rotate(90 336.1 508.1)"/>
<ellipse cx="343.8" cy="495.1" rx="0.99" ry="0.80" transform="rotate(120 343.8 495.1)"/>
<ellipse cx="335.5" cy="519.4" rx="0.96" ry="0.84" transform="rotate(90 335.5 519.4)"/>
<ellipse cx="369.4" cy="517.1" rx="1.19" ry="0.88" transform="rotate(120 369.4 517.1)"/>
<circle cx="355.6" cy="496.9" r="0.75"/>
<circle cx="356.7" cy="515.7" r="0.74"/>
<ellipse cx="367.6" cy="514.0" rx="1.05" ry="0.75" transform="rotate(30 367.6 514.0)"/>
<ellipse cx="337.7" cy="518.1" rx="0.91" ry="0.67"/>
<ellipse cx="335.0" cy="511.5" rx="0.86" ry="0.70" transform="rotate(120 335.0 511.5)"/>
<ellipse cx="343.6" cy="492.7" rx="0.82" ry="0.58" transform="rotate(90 343.6 492.7)"/>
<ellipse cx="333.3" cy="512.1" rx="0.79" ry="0.61" transform="rotate(120 333.3 512.1)"/>
<ellipse cx="385.6" cy="510.4" rx="0.82" ry="0.75" transform="rotate(120 385.6 510.4)"/>
<circle cx="373.7" cy="501.1" r="0.87"/>
<ellipse cx="362.4" cy="498.0" rx="0.83" ry="0.72"/>
<ellipse cx="367.6" cy="502.9" rx="0.85" ry="0.63"/>
<ellipse cx="346.0" cy="494.5" rx="1.05" ry="0.79" transform="rotate(150 346.0 494.5)"/>
<ellipse cx="373.5" cy="501.6" rx="0.79" ry="0.64"/>
<ellipse cx="377.8" cy="526.0" rx="1.20" ry="1.05" transform="rotate(30 377.8 526.0)"/>
</g>
<g fill="#7cf07a" opacity="0.85">
<ellipse cx="364.1" cy="503.4" rx="0.52" ry="0.43" transform="rotate(120 364.1 503.4)"/>
<ellipse cx="386.2" cy="505.7" rx="0.46" ry="0.34" transform="rotate(30 386.2 505.7)"/>
<ellipse cx="345.7" cy="496.2" rx="0.53" ry="0.39" transform="rotate(120 345.7 496.2)"/>
<ellipse cx="380.9" cy="520.5" rx="0.46" ry="0.33" transform="rotate(30 380.9 520.5)"/>
<ellipse cx="362.5" cy="500.3" rx="0.51" ry="0.38" transform="rotate(90 362.5 500.3)"/>
<ellipse cx="338.3" cy="524.5" rx="0.46" ry="0.33" transform="rotate(90 338.3 524.5)"/>
<circle cx="357.2" cy="498.3" r="0.50"/>
<ellipse cx="369.6" cy="520.7" rx="0.54" ry="0.38" transform="rotate(150 369.6 520.7)"/>
<circle cx="360.9" cy="498.1" r="0.42"/>
<ellipse cx="375.1" cy="508.5" rx="0.56" ry="0.41" transform="rotate(120 375.1 508.5)"/>
<circle cx="369.9" cy="499.6" r="0.49"/>
<circle cx="348.8" cy="501.5" r="0.59"/>
<circle cx="352.7" cy="507.1" r="0.46"/>
<ellipse cx="351.8" cy="497.2" rx="0.51" ry="0.43" transform="rotate(120 351.8 497.2)"/>
</g>
</g>
<rect x="332.90" y="492.60" width="53.50" height="33.70" fill="none" stroke="#050805" stroke-width="0.8"/>
<rect x="28.30" y="541.80" width="208.10" height="116.40" fill="#c4c4c4" />
<clipPath id="mc13"><rect x="28.30" y="541.80" width="51.10" height="37.90"/></clipPath>
<g clip-path="url(#mc13)">
<rect x="28.30" y="541.80" width="51.10" height="37.90" fill="#040a05" />
<g fill="#3fd547" opacity="0.8" filter="url(#b05)">
<circle cx="53.3" cy="565.4" r="0.63"/>
<ellipse cx="50.5" cy="566.5" rx="0.64" ry="0.59" transform="rotate(30 50.5 566.5)"/>
<ellipse cx="56.0" cy="566.4" rx="0.39" ry="0.32" transform="rotate(30 56.0 566.4)"/>
<circle cx="40.6" cy="556.2" r="0.44"/>
<ellipse cx="51.5" cy="552.4" rx="0.62" ry="0.44"/>
<ellipse cx="45.3" cy="547.1" rx="0.39" ry="0.26"/>
<circle cx="40.2" cy="549.7" r="0.69"/>
<ellipse cx="41.2" cy="553.7" rx="0.66" ry="0.57" transform="rotate(30 41.2 553.7)"/>
<circle cx="56.5" cy="577.4" r="0.69"/>
<ellipse cx="40.8" cy="542.6" rx="0.68" ry="0.50" transform="rotate(60 40.8 542.6)"/>
<circle cx="47.1" cy="553.2" r="0.35"/>
<circle cx="40.4" cy="544.3" r="0.46"/>
<circle cx="50.9" cy="560.0" r="0.37"/>
<ellipse cx="51.7" cy="577.7" rx="0.49" ry="0.41" transform="rotate(90 51.7 577.7)"/>
<ellipse cx="47.6" cy="555.7" rx="0.35" ry="0.24" transform="rotate(30 47.6 555.7)"/>
<ellipse cx="56.4" cy="565.4" rx="0.39" ry="0.29" transform="rotate(90 56.4 565.4)"/>
</g>
<line x1="32.28" y1="541.04" x2="47.76" y2="587.24" stroke="#f4f4f4" stroke-width="1.15" stroke-dasharray="3 1.3"/>
<line x1="49.84" y1="541.04" x2="65.32" y2="587.24" stroke="#f4f4f4" stroke-width="1.15" stroke-dasharray="3 1.3"/>
<text transform="translate(76.80,548.90)" font-size="6.9" text-anchor="end" font-weight="normal" fill="#ececec" stroke="#ececec" stroke-width="0.3" >1 min</text>
</g>
<clipPath id="mc14"><rect x="80.50" y="541.80" width="52.40" height="37.90"/></clipPath>
<g clip-path="url(#mc14)">
<rect x="80.50" y="541.80" width="52.40" height="37.90" fill="#051007" />
<polygon points="85.8,539.9 102.7,539.9 119.2,585.3 101.0,585.3" fill="#1d5a22" opacity="0.11000000000000001" filter="url(#b2)"/>
<g fill="#228f2c" opacity="0.7" filter="url(#b1)">
<ellipse cx="96.7" cy="553.5" rx="0.91" ry="0.84"/>
<ellipse cx="106.3" cy="561.9" rx="0.82" ry="0.62" transform="rotate(90 106.3 561.9)"/>
<ellipse cx="99.6" cy="574.0" rx="0.80" ry="0.69" transform="rotate(30 99.6 574.0)"/>
<ellipse cx="105.5" cy="553.4" rx="0.93" ry="0.70" transform="rotate(60 105.5 553.4)"/>
<ellipse cx="103.2" cy="552.2" rx="0.98" ry="0.88" transform="rotate(60 103.2 552.2)"/>
<circle cx="101.3" cy="575.8" r="0.63"/>
<ellipse cx="98.4" cy="573.3" rx="1.04" ry="0.80" transform="rotate(60 98.4 573.3)"/>
<circle cx="99.1" cy="557.3" r="0.63"/>
<circle cx="101.8" cy="569.1" r="0.72"/>
<ellipse cx="108.3" cy="574.2" rx="1.07" ry="0.74" transform="rotate(90 108.3 574.2)"/>
<ellipse cx="92.5" cy="554.5" rx="0.85" ry="0.60" transform="rotate(120 92.5 554.5)"/>
<ellipse cx="112.6" cy="570.8" rx="0.87" ry="0.72" transform="rotate(150 112.6 570.8)"/>
<circle cx="95.2" cy="552.6" r="0.88"/>
<ellipse cx="107.0" cy="554.6" rx="1.18" ry="1.02" transform="rotate(90 107.0 554.6)"/>
<ellipse cx="100.1" cy="571.4" rx="0.90" ry="0.74" transform="rotate(120 100.1 571.4)"/>
<ellipse cx="103.0" cy="571.4" rx="1.07" ry="0.99" transform="rotate(150 103.0 571.4)"/>
<ellipse cx="94.5" cy="561.8" rx="0.78" ry="0.66" transform="rotate(150 94.5 561.8)"/>
<ellipse cx="98.0" cy="551.4" rx="1.06" ry="0.95" transform="rotate(60 98.0 551.4)"/>
<circle cx="103.7" cy="574.4" r="0.71"/>
<ellipse cx="97.5" cy="560.4" rx="1.00" ry="0.81" transform="rotate(120 97.5 560.4)"/>
<ellipse cx="107.3" cy="563.9" rx="0.81" ry="0.71" transform="rotate(150 107.3 563.9)"/>
<ellipse cx="104.6" cy="573.8" rx="1.15" ry="0.82" transform="rotate(150 104.6 573.8)"/>
</g>
<g fill="#3fd547" opacity="0.9" filter="url(#b05)">
<ellipse cx="97.8" cy="557.1" rx="0.57" ry="0.40" transform="rotate(30 97.8 557.1)"/>
<ellipse cx="94.8" cy="548.6" rx="0.83" ry="0.62"/>
<circle cx="106.5" cy="566.3" r="0.49"/>
<ellipse cx="107.1" cy="559.4" rx="0.55" ry="0.47" transform="rotate(150 107.1 559.4)"/>
<ellipse cx="104.9" cy="551.0" rx="0.50" ry="0.43" transform="rotate(120 104.9 551.0)"/>
<ellipse cx="98.0" cy="564.0" rx="0.74" ry="0.65"/>
<circle cx="113.5" cy="575.4" r="0.48"/>
<ellipse cx="93.6" cy="552.6" rx="0.50" ry="0.33" transform="rotate(90 93.6 552.6)"/>
<ellipse cx="101.0" cy="553.8" rx="0.44" ry="0.31" transform="rotate(150 101.0 553.8)"/>
<ellipse cx="97.6" cy="572.6" rx="0.60" ry="0.45" transform="rotate(90 97.6 572.6)"/>
<circle cx="107.6" cy="571.3" r="0.67"/>
<ellipse cx="95.7" cy="562.7" rx="0.67" ry="0.52" transform="rotate(120 95.7 562.7)"/>
<ellipse cx="95.8" cy="551.8" rx="0.46" ry="0.37" transform="rotate(120 95.8 551.8)"/>
<ellipse cx="100.1" cy="563.7" rx="0.47" ry="0.40" transform="rotate(120 100.1 563.7)"/>
<ellipse cx="95.7" cy="558.1" rx="0.47" ry="0.32" transform="rotate(150 95.7 558.1)"/>
<ellipse cx="88.8" cy="541.8" rx="0.68" ry="0.59" transform="rotate(30 88.8 541.8)"/>
<ellipse cx="103.8" cy="552.9" rx="0.68" ry="0.55" transform="rotate(30 103.8 552.9)"/>
<ellipse cx="100.0" cy="558.6" rx="0.75" ry="0.59" transform="rotate(30 100.0 558.6)"/>
<ellipse cx="98.0" cy="562.1" rx="0.89" ry="0.73" transform="rotate(90 98.0 562.1)"/>
<circle cx="101.1" cy="542.5" r="0.55"/>
<ellipse cx="94.5" cy="558.1" rx="0.71" ry="0.57" transform="rotate(60 94.5 558.1)"/>
<ellipse cx="89.7" cy="543.2" rx="0.60" ry="0.49" transform="rotate(120 89.7 543.2)"/>
<ellipse cx="104.1" cy="551.1" rx="0.79" ry="0.58" transform="rotate(60 104.1 551.1)"/>
<ellipse cx="107.8" cy="570.6" rx="0.54" ry="0.45" transform="rotate(90 107.8 570.6)"/>
<circle cx="106.0" cy="559.5" r="0.84"/>
<ellipse cx="100.5" cy="567.7" rx="0.67" ry="0.51" transform="rotate(60 100.5 567.7)"/>
<ellipse cx="96.1" cy="566.7" rx="0.57" ry="0.51" transform="rotate(120 96.1 566.7)"/>
<ellipse cx="88.8" cy="546.3" rx="0.68" ry="0.60"/>
<circle cx="105.7" cy="572.1" r="0.41"/>
<ellipse cx="104.3" cy="562.1" rx="0.88" ry="0.77" transform="rotate(90 104.3 562.1)"/>
<circle cx="102.8" cy="558.0" r="0.76"/>
<ellipse cx="97.8" cy="570.1" rx="0.82" ry="0.73" transform="rotate(90 97.8 570.1)"/>
<ellipse cx="103.6" cy="561.6" rx="0.64" ry="0.48" transform="rotate(30 103.6 561.6)"/>
<ellipse cx="100.9" cy="558.1" rx="0.65" ry="0.50" transform="rotate(30 100.9 558.1)"/>
</g>
<line x1="86.17" y1="541.04" x2="101.66" y2="587.24" stroke="#f4f4f4" stroke-width="1.15" stroke-dasharray="3 1.3"/>
<line x1="103.07" y1="541.04" x2="119.85" y2="587.24" stroke="#f4f4f4" stroke-width="1.15" stroke-dasharray="3 1.3"/>
<text transform="translate(130.30,548.90)" font-size="6.9" text-anchor="end" font-weight="normal" fill="#ececec" stroke="#ececec" stroke-width="0.3" >5 min</text>
</g>
<clipPath id="mc15"><rect x="133.20" y="541.80" width="51.20" height="37.90"/></clipPath>
<g clip-path="url(#mc15)">
<rect x="133.20" y="541.80" width="51.20" height="37.90" fill="#08180a" />
<g fill="#1f6a28" opacity="0.38" filter="url(#b3)">
<ellipse cx="139.2" cy="549.8" rx="11.00" ry="14.00"/>
<ellipse cx="176.4" cy="557.8" rx="10.00" ry="14.00"/>
<ellipse cx="156.2" cy="543.8" rx="16.00" ry="6.00"/>
</g>
<g fill="#228f2c" opacity="0.6" filter="url(#b2)">
<ellipse cx="147.3" cy="544.1" rx="5.87" ry="3.67"/>
<ellipse cx="145.0" cy="544.8" rx="2.62" ry="1.26"/>
<ellipse cx="147.0" cy="542.5" rx="2.28" ry="1.29"/>
<ellipse cx="149.7" cy="544.7" rx="3.11" ry="1.48"/>
<ellipse cx="151.4" cy="552.6" rx="4.40" ry="2.94"/>
<ellipse cx="149.6" cy="553.2" rx="1.53" ry="1.23"/>
<ellipse cx="149.4" cy="552.7" rx="1.58" ry="1.05"/>
<ellipse cx="149.9" cy="551.8" rx="2.22" ry="1.05"/>
<circle cx="153.4" cy="554.7" r="2.94"/>
<ellipse cx="154.4" cy="553.9" rx="1.59" ry="1.41"/>
<circle cx="152.2" cy="555.2" r="1.09"/>
<ellipse cx="153.8" cy="553.4" rx="1.02" ry="1.11"/>
<ellipse cx="152.4" cy="560.4" rx="3.67" ry="2.94"/>
<ellipse cx="150.9" cy="559.9" rx="1.73" ry="1.43"/>
<ellipse cx="152.1" cy="561.7" rx="1.66" ry="1.05"/>
<ellipse cx="151.1" cy="561.2" rx="1.70" ry="0.98"/>
<ellipse cx="157.5" cy="560.0" rx="3.67" ry="3.30"/>
<ellipse cx="158.8" cy="560.8" rx="1.75" ry="1.44"/>
<circle cx="156.5" cy="561.1" r="1.72"/>
<circle cx="158.5" cy="561.1" r="1.45"/>
<circle cx="154.8" cy="566.1" r="3.30"/>
<ellipse cx="154.2" cy="564.8" rx="1.30" ry="1.75"/>
<ellipse cx="153.4" cy="565.6" rx="1.25" ry="1.14"/>
<ellipse cx="155.0" cy="567.6" rx="1.67" ry="1.30"/>
<ellipse cx="156.9" cy="570.6" rx="2.94" ry="2.57"/>
<ellipse cx="158.2" cy="570.4" rx="1.47" ry="1.32"/>
<ellipse cx="155.6" cy="570.9" rx="1.22" ry="0.93"/>
<circle cx="158.2" cy="570.7" r="1.19"/>
<circle cx="160.5" cy="564.5" r="1.83"/>
<circle cx="149.9" cy="549.2" r="1.83"/>
<circle cx="159.5" cy="555.3" r="1.47"/>
<circle cx="144.2" cy="547.1" r="1.47"/>
<ellipse cx="154.0" cy="548.2" rx="1.83" ry="1.47"/>
<circle cx="158.5" cy="568.5" r="1.47"/>
</g>
<g fill="#3ed146" opacity="0.95" filter="url(#b05)">
<ellipse cx="147.3" cy="544.1" rx="3.91" ry="2.45"/>
<ellipse cx="145.0" cy="544.8" rx="1.75" ry="0.84"/>
<ellipse cx="147.0" cy="542.5" rx="1.52" ry="0.86"/>
<ellipse cx="149.7" cy="544.7" rx="2.07" ry="0.99"/>
<ellipse cx="151.4" cy="552.6" rx="2.94" ry="1.96"/>
<ellipse cx="149.6" cy="553.2" rx="1.02" ry="0.82"/>
<ellipse cx="149.4" cy="552.7" rx="1.05" ry="0.70"/>
<ellipse cx="149.9" cy="551.8" rx="1.48" ry="0.70"/>
<circle cx="153.4" cy="554.7" r="1.96"/>
<ellipse cx="154.4" cy="553.9" rx="1.06" ry="0.94"/>
<circle cx="152.2" cy="555.2" r="0.73"/>
<ellipse cx="153.8" cy="553.4" rx="0.68" ry="0.74"/>
<ellipse cx="152.4" cy="560.4" rx="2.45" ry="1.96"/>
<ellipse cx="150.9" cy="559.9" rx="1.15" ry="0.96"/>
<ellipse cx="152.1" cy="561.7" rx="1.11" ry="0.70"/>
<ellipse cx="151.1" cy="561.2" rx="1.13" ry="0.66"/>
<ellipse cx="157.5" cy="560.0" rx="2.45" ry="2.20"/>
<ellipse cx="158.8" cy="560.8" rx="1.16" ry="0.96"/>
<circle cx="156.5" cy="561.1" r="1.15"/>
<circle cx="158.5" cy="561.1" r="0.97"/>
<circle cx="154.8" cy="566.1" r="2.20"/>
<ellipse cx="154.2" cy="564.8" rx="0.87" ry="1.17"/>
<ellipse cx="153.4" cy="565.6" rx="0.83" ry="0.76"/>
<ellipse cx="155.0" cy="567.6" rx="1.12" ry="0.86"/>
<ellipse cx="156.9" cy="570.6" rx="1.96" ry="1.71"/>
<ellipse cx="158.2" cy="570.4" rx="0.98" ry="0.88"/>
<ellipse cx="155.6" cy="570.9" rx="0.81" ry="0.62"/>
<circle cx="158.2" cy="570.7" r="0.79"/>
<circle cx="160.5" cy="564.5" r="1.22"/>
<circle cx="149.9" cy="549.2" r="1.22"/>
<circle cx="159.5" cy="555.3" r="0.98"/>
<circle cx="144.2" cy="547.1" r="0.98"/>
<ellipse cx="154.0" cy="548.2" rx="1.22" ry="0.98"/>
<circle cx="158.5" cy="568.5" r="0.98"/>
</g>
<g fill="#74f578" opacity="0.55" filter="url(#b05)">
<ellipse cx="147.3" cy="544.1" rx="1.96" ry="1.22"/>
<ellipse cx="145.0" cy="544.8" rx="0.87" ry="0.42"/>
<ellipse cx="147.0" cy="542.5" rx="0.76" ry="0.43"/>
<ellipse cx="149.7" cy="544.7" rx="1.04" ry="0.49"/>
<ellipse cx="151.4" cy="552.6" rx="1.47" ry="0.98"/>
<ellipse cx="149.6" cy="553.2" rx="0.51" ry="0.41"/>
<ellipse cx="149.4" cy="552.7" rx="0.53" ry="0.35"/>
<ellipse cx="149.9" cy="551.8" rx="0.74" ry="0.35"/>
<circle cx="153.4" cy="554.7" r="0.98"/>
<ellipse cx="154.4" cy="553.9" rx="0.53" ry="0.47"/>
<ellipse cx="152.4" cy="560.4" rx="1.22" ry="0.98"/>
<ellipse cx="150.9" cy="559.9" rx="0.58" ry="0.48"/>
<ellipse cx="152.1" cy="561.7" rx="0.55" ry="0.35"/>
<ellipse cx="151.1" cy="561.2" rx="0.57" ry="0.33"/>
<ellipse cx="157.5" cy="560.0" rx="1.22" ry="1.10"/>
<ellipse cx="158.8" cy="560.8" rx="0.58" ry="0.48"/>
<circle cx="156.5" cy="561.1" r="0.57"/>
<circle cx="154.8" cy="566.1" r="1.10"/>
<ellipse cx="155.0" cy="567.6" rx="0.56" ry="0.43"/>
<ellipse cx="156.9" cy="570.6" rx="0.98" ry="0.86"/>
<circle cx="160.5" cy="564.5" r="0.61"/>
<circle cx="149.9" cy="549.2" r="0.61"/>
<ellipse cx="154.0" cy="548.2" rx="0.61" ry="0.49"/>
</g>
<line x1="137.18" y1="541.04" x2="152.66" y2="587.24" stroke="#f4f4f4" stroke-width="1.15" stroke-dasharray="3 1.3"/>
<line x1="154.73" y1="541.04" x2="170.73" y2="587.24" stroke="#f4f4f4" stroke-width="1.15" stroke-dasharray="3 1.3"/>
<text transform="translate(181.80,548.90)" font-size="6.9" text-anchor="end" font-weight="normal" fill="#ececec" stroke="#ececec" stroke-width="0.3" >10 min</text>
</g>
<clipPath id="mc16"><rect x="185.60" y="541.80" width="50.80" height="37.90"/></clipPath>
<g clip-path="url(#mc16)">
<rect x="185.60" y="541.80" width="50.80" height="37.90" fill="#08190a" />
<g fill="#1f6a28" opacity="0.38" filter="url(#b3)">
<ellipse cx="191.6" cy="549.8" rx="11.00" ry="14.00"/>
<ellipse cx="228.4" cy="557.8" rx="10.00" ry="14.00"/>
<ellipse cx="208.5" cy="543.8" rx="16.00" ry="6.00"/>
</g>
<g fill="#228f2c" opacity="0.6" filter="url(#b2)">
<ellipse cx="201.3" cy="544.5" rx="7.34" ry="4.77"/>
<ellipse cx="204.5" cy="545.0" rx="3.77" ry="2.09"/>
<ellipse cx="198.2" cy="545.1" rx="3.04" ry="2.05"/>
<ellipse cx="204.5" cy="544.0" rx="2.61" ry="2.12"/>
<circle cx="193.1" cy="554.3" r="2.20"/>
<ellipse cx="192.2" cy="554.0" rx="0.91" ry="1.12"/>
<ellipse cx="194.1" cy="553.9" rx="0.93" ry="1.10"/>
<ellipse cx="193.1" cy="553.3" rx="0.77" ry="1.15"/>
<circle cx="204.4" cy="552.6" r="2.57"/>
<ellipse cx="203.2" cy="552.7" rx="0.97" ry="1.23"/>
<ellipse cx="203.5" cy="553.4" rx="1.30" ry="1.01"/>
<circle cx="205.4" cy="552.2" r="1.23"/>
<ellipse cx="207.8" cy="560.4" rx="6.24" ry="5.50"/>
<ellipse cx="205.8" cy="562.1" rx="3.02" ry="2.25"/>
<circle cx="207.0" cy="562.7" r="2.90"/>
<ellipse cx="206.0" cy="562.2" rx="2.13" ry="2.97"/>
<ellipse cx="206.4" cy="568.5" rx="4.40" ry="3.67"/>
<ellipse cx="206.8" cy="570.1" rx="1.63" ry="1.27"/>
<ellipse cx="208.3" cy="568.9" rx="1.64" ry="1.37"/>
<ellipse cx="204.4" cy="568.6" rx="2.33" ry="1.73"/>
<circle cx="202.3" cy="564.5" r="2.20"/>
<ellipse cx="201.8" cy="565.3" rx="0.93" ry="0.87"/>
<ellipse cx="203.2" cy="564.1" rx="1.16" ry="0.88"/>
<ellipse cx="201.4" cy="564.7" rx="0.82" ry="1.03"/>
<circle cx="210.5" cy="554.3" r="1.83"/>
<circle cx="211.5" cy="570.6" r="1.83"/>
<circle cx="199.3" cy="550.2" r="1.83"/>
<circle cx="196.8" cy="546.1" r="1.83"/>
</g>
<g fill="#3ed146" opacity="0.95" filter="url(#b05)">
<ellipse cx="201.3" cy="544.5" rx="4.89" ry="3.18"/>
<ellipse cx="204.5" cy="545.0" rx="2.51" ry="1.40"/>
<ellipse cx="198.2" cy="545.1" rx="2.03" ry="1.37"/>
<ellipse cx="204.5" cy="544.0" rx="1.74" ry="1.41"/>
<circle cx="193.1" cy="554.3" r="1.47"/>
<ellipse cx="192.2" cy="554.0" rx="0.61" ry="0.75"/>
<ellipse cx="194.1" cy="553.9" rx="0.62" ry="0.73"/>
<ellipse cx="193.1" cy="553.3" rx="0.51" ry="0.77"/>
<circle cx="204.4" cy="552.6" r="1.71"/>
<ellipse cx="203.2" cy="552.7" rx="0.65" ry="0.82"/>
<ellipse cx="203.5" cy="553.4" rx="0.87" ry="0.67"/>
<circle cx="205.4" cy="552.2" r="0.82"/>
<ellipse cx="207.8" cy="560.4" rx="4.16" ry="3.67"/>
<ellipse cx="205.8" cy="562.1" rx="2.01" ry="1.50"/>
<circle cx="207.0" cy="562.7" r="1.93"/>
<ellipse cx="206.0" cy="562.2" rx="1.42" ry="1.98"/>
<ellipse cx="206.4" cy="568.5" rx="2.94" ry="2.45"/>
<ellipse cx="206.8" cy="570.1" rx="1.09" ry="0.85"/>
<ellipse cx="208.3" cy="568.9" rx="1.09" ry="0.92"/>
<ellipse cx="204.4" cy="568.6" rx="1.55" ry="1.15"/>
<circle cx="202.3" cy="564.5" r="1.47"/>
<circle cx="201.8" cy="565.3" r="0.62"/>
<ellipse cx="203.2" cy="564.1" rx="0.77" ry="0.59"/>
<ellipse cx="201.4" cy="564.7" rx="0.55" ry="0.69"/>
<circle cx="210.5" cy="554.3" r="1.22"/>
<circle cx="211.5" cy="570.6" r="1.22"/>
<circle cx="199.3" cy="550.2" r="1.22"/>
<circle cx="196.8" cy="546.1" r="1.22"/>
</g>
<g fill="#74f578" opacity="0.55" filter="url(#b05)">
<ellipse cx="201.3" cy="544.5" rx="2.45" ry="1.59"/>
<ellipse cx="204.5" cy="545.0" rx="1.26" ry="0.70"/>
<ellipse cx="198.2" cy="545.1" rx="1.01" ry="0.68"/>
<ellipse cx="204.5" cy="544.0" rx="0.87" ry="0.71"/>
<circle cx="193.1" cy="554.3" r="0.73"/>
<circle cx="204.4" cy="552.6" r="0.86"/>
<ellipse cx="207.8" cy="560.4" rx="2.08" ry="1.83"/>
<ellipse cx="205.8" cy="562.1" rx="1.01" ry="0.75"/>
<circle cx="207.0" cy="562.7" r="0.97"/>
<ellipse cx="206.0" cy="562.2" rx="0.71" ry="0.99"/>
<ellipse cx="206.4" cy="568.5" rx="1.47" ry="1.22"/>
<ellipse cx="206.8" cy="570.1" rx="0.54" ry="0.42"/>
<ellipse cx="208.3" cy="568.9" rx="0.55" ry="0.46"/>
<ellipse cx="204.4" cy="568.6" rx="0.78" ry="0.58"/>
<circle cx="202.3" cy="564.5" r="0.73"/>
<circle cx="210.5" cy="554.3" r="0.61"/>
<circle cx="211.5" cy="570.6" r="0.61"/>
<circle cx="199.3" cy="550.2" r="0.61"/>
<circle cx="196.8" cy="546.1" r="0.61"/>
</g>
<line x1="190.00" y1="541.04" x2="205.49" y2="587.24" stroke="#f4f4f4" stroke-width="1.15" stroke-dasharray="3 1.3"/>
<line x1="207.96" y1="541.04" x2="224.74" y2="587.24" stroke="#f4f4f4" stroke-width="1.15" stroke-dasharray="3 1.3"/>
<text transform="translate(233.80,548.90)" font-size="6.9" text-anchor="end" font-weight="normal" fill="#ececec" stroke="#ececec" stroke-width="0.3" >15 min</text>
</g>
<clipPath id="mc17"><rect x="28.30" y="581.00" width="51.10" height="38.00"/></clipPath>
<g clip-path="url(#mc17)">
<rect x="28.30" y="581.00" width="51.10" height="38.00" fill="#030804" />
<polygon points="34.9,579.1 51.8,579.1 72.6,624.3 54.7,624.3" fill="#1d5a22" opacity="0.08800000000000001" filter="url(#b2)"/>
<g fill="#228f2c" opacity="0.5" filter="url(#b1)">
<ellipse cx="51.2" cy="582.9" rx="1.03" ry="0.84" transform="rotate(120 51.2 582.9)"/>
<ellipse cx="46.8" cy="587.7" rx="0.68" ry="0.51" transform="rotate(30 46.8 587.7)"/>
<ellipse cx="51.0" cy="581.9" rx="0.77" ry="0.71" transform="rotate(60 51.0 581.9)"/>
<ellipse cx="59.6" cy="605.7" rx="0.94" ry="0.76" transform="rotate(30 59.6 605.7)"/>
<ellipse cx="49.5" cy="584.1" rx="0.75" ry="0.66" transform="rotate(150 49.5 584.1)"/>
<ellipse cx="52.8" cy="607.2" rx="0.96" ry="0.81" transform="rotate(150 52.8 607.2)"/>
<ellipse cx="46.1" cy="583.1" rx="1.09" ry="0.84" transform="rotate(60 46.1 583.1)"/>
<circle cx="46.9" cy="585.9" r="0.63"/>
</g>
<g fill="#3fd547" opacity="0.8" filter="url(#b05)">
<circle cx="45.6" cy="585.9" r="0.65"/>
<ellipse cx="57.1" cy="599.3" rx="0.47" ry="0.38" transform="rotate(90 57.1 599.3)"/>
<ellipse cx="55.9" cy="604.5" rx="0.37" ry="0.31" transform="rotate(120 55.9 604.5)"/>
<ellipse cx="58.9" cy="598.0" rx="0.67" ry="0.49" transform="rotate(90 58.9 598.0)"/>
<ellipse cx="47.2" cy="583.8" rx="0.66" ry="0.58" transform="rotate(90 47.2 583.8)"/>
<ellipse cx="46.8" cy="593.0" rx="0.46" ry="0.37" transform="rotate(60 46.8 593.0)"/>
<ellipse cx="59.2" cy="600.3" rx="0.78" ry="0.56" transform="rotate(150 59.2 600.3)"/>
<ellipse cx="52.1" cy="596.3" rx="0.59" ry="0.40" transform="rotate(60 52.1 596.3)"/>
<ellipse cx="52.4" cy="604.8" rx="0.79" ry="0.56"/>
<ellipse cx="54.7" cy="606.8" rx="0.36" ry="0.30" transform="rotate(90 54.7 606.8)"/>
<ellipse cx="55.0" cy="593.7" rx="0.59" ry="0.41"/>
<circle cx="56.5" cy="608.5" r="0.55"/>
<circle cx="49.8" cy="597.7" r="0.57"/>
<ellipse cx="55.3" cy="605.7" rx="0.41" ry="0.28" transform="rotate(30 55.3 605.7)"/>
</g>
<line x1="35.37" y1="580.25" x2="55.51" y2="626.19" stroke="#f4f4f4" stroke-width="1.15" stroke-dasharray="3 1.3"/>
<line x1="52.28" y1="580.25" x2="73.44" y2="626.19" stroke="#f4f4f4" stroke-width="1.15" stroke-dasharray="3 1.3"/>
<text transform="translate(76.80,588.10)" font-size="6.9" text-anchor="end" font-weight="normal" fill="#ececec" stroke="#ececec" stroke-width="0.3" >1 min</text>
</g>
<clipPath id="mc18"><rect x="80.50" y="581.00" width="52.40" height="38.00"/></clipPath>
<g clip-path="url(#mc18)">
<rect x="80.50" y="581.00" width="52.40" height="38.00" fill="#030904" />
<polygon points="87.6,579.1 104.6,579.1 126.1,624.3 109.2,624.3" fill="#1d5a22" opacity="0.132" filter="url(#b2)"/>
<g fill="#228f2c" opacity="0.75" filter="url(#b1)">
<ellipse cx="113.6" cy="605.9" rx="2.16" ry="1.91" transform="rotate(60 113.6 605.9)"/>
<ellipse cx="101.4" cy="583.2" rx="1.06" ry="0.76" transform="rotate(60 101.4 583.2)"/>
<ellipse cx="118.0" cy="612.6" rx="1.09" ry="1.00" transform="rotate(90 118.0 612.6)"/>
<ellipse cx="111.1" cy="607.9" rx="2.08" ry="1.82" transform="rotate(30 111.1 607.9)"/>
<ellipse cx="106.4" cy="601.6" rx="1.98" ry="1.74"/>
<ellipse cx="112.8" cy="607.0" rx="1.32" ry="1.23" transform="rotate(90 112.8 607.0)"/>
<ellipse cx="104.5" cy="601.1" rx="1.37" ry="0.95" transform="rotate(90 104.5 601.1)"/>
<ellipse cx="105.9" cy="605.2" rx="1.08" ry="0.99" transform="rotate(120 105.9 605.2)"/>
<ellipse cx="92.5" cy="582.0" rx="2.16" ry="2.03" transform="rotate(90 92.5 582.0)"/>
<ellipse cx="118.6" cy="611.8" rx="1.73" ry="1.27" transform="rotate(90 118.6 611.8)"/>
<ellipse cx="95.3" cy="585.5" rx="1.43" ry="1.01" transform="rotate(120 95.3 585.5)"/>
<ellipse cx="114.8" cy="610.6" rx="1.11" ry="0.93" transform="rotate(30 114.8 610.6)"/>
<ellipse cx="103.1" cy="603.6" rx="1.92" ry="1.54" transform="rotate(90 103.1 603.6)"/>
<ellipse cx="96.8" cy="585.2" rx="2.10" ry="1.70" transform="rotate(90 96.8 585.2)"/>
<ellipse cx="93.9" cy="587.1" rx="1.80" ry="1.27" transform="rotate(90 93.9 587.1)"/>
<ellipse cx="115.4" cy="615.7" rx="1.12" ry="1.05" transform="rotate(90 115.4 615.7)"/>
<circle cx="104.9" cy="605.5" r="1.00"/>
<ellipse cx="111.2" cy="598.2" rx="1.47" ry="1.07" transform="rotate(60 111.2 598.2)"/>
<ellipse cx="108.6" cy="610.4" rx="1.62" ry="1.49" transform="rotate(30 108.6 610.4)"/>
<ellipse cx="108.1" cy="594.1" rx="1.98" ry="1.74"/>
<ellipse cx="106.6" cy="603.1" rx="1.17" ry="1.10" transform="rotate(90 106.6 603.1)"/>
<ellipse cx="98.1" cy="594.7" rx="1.48" ry="1.35" transform="rotate(60 98.1 594.7)"/>
<ellipse cx="108.5" cy="613.2" rx="1.96" ry="1.49" transform="rotate(150 108.5 613.2)"/>
<ellipse cx="105.9" cy="597.8" rx="1.11" ry="0.80" transform="rotate(150 105.9 597.8)"/>
<ellipse cx="97.8" cy="581.4" rx="1.70" ry="1.22" transform="rotate(90 97.8 581.4)"/>
<ellipse cx="100.4" cy="581.8" rx="1.73" ry="1.44" transform="rotate(120 100.4 581.8)"/>
</g>
<g fill="#3fd547" opacity="0.92" filter="url(#b05)">
<circle cx="108.5" cy="598.0" r="1.00"/>
<ellipse cx="116.0" cy="614.1" rx="1.27" ry="1.06" transform="rotate(90 116.0 614.1)"/>
<ellipse cx="105.0" cy="594.0" rx="1.28" ry="1.07" transform="rotate(60 105.0 594.0)"/>
<ellipse cx="95.5" cy="591.2" rx="1.37" ry="1.19" transform="rotate(150 95.5 591.2)"/>
<circle cx="111.2" cy="595.8" r="0.61"/>
<circle cx="102.3" cy="583.6" r="1.27"/>
<ellipse cx="114.0" cy="605.6" rx="1.34" ry="1.16" transform="rotate(30 114.0 605.6)"/>
<ellipse cx="99.8" cy="598.3" rx="0.72" ry="0.55" transform="rotate(120 99.8 598.3)"/>
<ellipse cx="111.4" cy="596.2" rx="1.27" ry="0.99" transform="rotate(150 111.4 596.2)"/>
<ellipse cx="102.2" cy="599.9" rx="1.28" ry="0.97" transform="rotate(60 102.2 599.9)"/>
<ellipse cx="102.0" cy="584.9" rx="1.15" ry="1.04" transform="rotate(60 102.0 584.9)"/>
<ellipse cx="95.9" cy="589.9" rx="0.89" ry="0.83" transform="rotate(120 95.9 589.9)"/>
<ellipse cx="105.2" cy="583.8" rx="0.68" ry="0.54" transform="rotate(30 105.2 583.8)"/>
<ellipse cx="95.0" cy="589.0" rx="1.17" ry="1.10" transform="rotate(120 95.0 589.0)"/>
<ellipse cx="108.7" cy="607.0" rx="1.03" ry="0.86" transform="rotate(30 108.7 607.0)"/>
<circle cx="99.4" cy="591.8" r="1.21"/>
<ellipse cx="99.6" cy="596.1" rx="0.90" ry="0.76" transform="rotate(120 99.6 596.1)"/>
<ellipse cx="96.1" cy="587.6" rx="1.19" ry="1.05" transform="rotate(150 96.1 587.6)"/>
<ellipse cx="97.0" cy="592.8" rx="1.55" ry="1.08" transform="rotate(120 97.0 592.8)"/>
<ellipse cx="111.2" cy="615.2" rx="1.45" ry="1.27" transform="rotate(30 111.2 615.2)"/>
<ellipse cx="114.3" cy="613.0" rx="1.40" ry="1.32"/>
<ellipse cx="95.8" cy="587.9" rx="0.69" ry="0.49" transform="rotate(120 95.8 587.9)"/>
<ellipse cx="111.5" cy="608.2" rx="1.04" ry="0.79" transform="rotate(30 111.5 608.2)"/>
<ellipse cx="115.7" cy="606.5" rx="1.56" ry="1.35"/>
<ellipse cx="108.2" cy="594.1" rx="0.80" ry="0.61" transform="rotate(30 108.2 594.1)"/>
<ellipse cx="107.9" cy="597.4" rx="1.34" ry="0.91" transform="rotate(90 107.9 597.4)"/>
<circle cx="113.0" cy="614.7" r="0.61"/>
<ellipse cx="92.5" cy="585.7" rx="0.98" ry="0.76" transform="rotate(150 92.5 585.7)"/>
<ellipse cx="102.4" cy="583.6" rx="1.32" ry="1.00"/>
<ellipse cx="118.4" cy="610.0" rx="1.35" ry="0.97" transform="rotate(60 118.4 610.0)"/>
<ellipse cx="100.9" cy="594.7" rx="1.10" ry="0.98"/>
<circle cx="104.3" cy="601.6" r="0.94"/>
<ellipse cx="100.8" cy="596.5" rx="1.59" ry="1.18" transform="rotate(150 100.8 596.5)"/>
<ellipse cx="95.4" cy="583.6" rx="0.70" ry="0.57" transform="rotate(30 95.4 583.6)"/>
<ellipse cx="105.0" cy="600.4" rx="1.53" ry="1.05" transform="rotate(60 105.0 600.4)"/>
<ellipse cx="93.6" cy="585.6" rx="1.42" ry="0.99"/>
</g>
<g fill="#74f578" opacity="0.8" filter="url(#b05)">
<circle cx="98.9" cy="581.6" r="0.88"/>
<ellipse cx="95.3" cy="582.6" rx="0.89" ry="0.71" transform="rotate(90 95.3 582.6)"/>
<circle cx="110.7" cy="596.6" r="0.70"/>
<circle cx="99.9" cy="596.3" r="0.60"/>
<ellipse cx="115.4" cy="606.9" rx="0.73" ry="0.63" transform="rotate(120 115.4 606.9)"/>
<ellipse cx="92.7" cy="582.1" rx="0.78" ry="0.62" transform="rotate(90 92.7 582.1)"/>
<ellipse cx="109.6" cy="608.6" rx="0.90" ry="0.82" transform="rotate(60 109.6 608.6)"/>
<circle cx="103.3" cy="585.5" r="0.61"/>
<ellipse cx="100.0" cy="587.5" rx="0.54" ry="0.44" transform="rotate(60 100.0 587.5)"/>
<ellipse cx="99.5" cy="581.1" rx="0.78" ry="0.72"/>
</g>
<line x1="88.18" y1="580.25" x2="110.12" y2="626.19" stroke="#f4f4f4" stroke-width="1.15" stroke-dasharray="3 1.3"/>
<line x1="105.10" y1="580.25" x2="127.04" y2="626.19" stroke="#f4f4f4" stroke-width="1.15" stroke-dasharray="3 1.3"/>
<text transform="translate(130.30,588.10)" font-size="6.9" text-anchor="end" font-weight="normal" fill="#ececec" stroke="#ececec" stroke-width="0.3" >5 min</text>
</g>
<clipPath id="mc19"><rect x="133.20" y="581.00" width="51.20" height="38.00"/></clipPath>
<g clip-path="url(#mc19)">
<rect x="133.20" y="581.00" width="51.20" height="38.00" fill="#030904" />
<polygon points="140.8,579.1 155.7,579.1 175.1,622.4 160.2,622.4" fill="#1c8226" opacity="0.95" filter="url(#b1)"/>
<polygon points="144.8,579.1 154.1,579.1 160.9,592.3 162.6,601.7 159.2,603.6 151.6,594.2" fill="#3fd348" opacity="0.95" filter="url(#b1)"/>
<g fill="#39c843" opacity="0.9" filter="url(#b05)">
<ellipse cx="164.3" cy="607.4" rx="2.00" ry="1.60"/>
<ellipse cx="162.9" cy="611.9" rx="1.60" ry="1.28"/>
<ellipse cx="169.4" cy="614.9" rx="1.80" ry="1.44"/>
<ellipse cx="155.3" cy="604.3" rx="1.30" ry="1.04"/>
<ellipse cx="161.8" cy="616.8" rx="1.40" ry="1.12"/>
</g>
<g fill="#07170a" opacity="0.8" filter="url(#b1)">
<ellipse cx="160.1" cy="609.2" rx="1.70" ry="1.27" transform="rotate(30 160.1 609.2)"/>
<ellipse cx="166.5" cy="614.1" rx="1.50" ry="1.12" transform="rotate(30 166.5 614.1)"/>
<ellipse cx="151.9" cy="601.7" rx="1.20" ry="0.90" transform="rotate(30 151.9 601.7)"/>
<ellipse cx="166.5" cy="617.9" rx="1.40" ry="1.05" transform="rotate(30 166.5 617.9)"/>
<ellipse cx="146.5" cy="588.5" rx="1.20" ry="0.90" transform="rotate(30 146.5 588.5)"/>
</g>
<line x1="140.27" y1="580.25" x2="160.91" y2="626.19" stroke="#f4f4f4" stroke-width="1.15" stroke-dasharray="3 1.3"/>
<line x1="157.19" y1="580.25" x2="177.84" y2="626.19" stroke="#f4f4f4" stroke-width="1.15" stroke-dasharray="3 1.3"/>
<text transform="translate(181.80,588.10)" font-size="6.9" text-anchor="end" font-weight="normal" fill="#ececec" stroke="#ececec" stroke-width="0.3" >10 min</text>
</g>
<clipPath id="mc20"><rect x="185.60" y="581.00" width="50.80" height="38.00"/></clipPath>
<g clip-path="url(#mc20)">
<rect x="185.60" y="581.00" width="50.80" height="38.00" fill="#040b05" />
<polygon points="191.1,579.1 207.7,579.1 227.2,622.4 211.8,622.4" fill="#1f8a2a" opacity="0.97" filter="url(#b1)"/>
<polygon points="192.6,579.1 206.3,579.1 216.4,599.8 221.6,613.0 219.4,618.7 210.8,611.1 201.2,597.9" fill="#41da4a" opacity="0.95" filter="url(#b1)"/>
<polygon points="198.5,584.8 205.6,584.8 214.3,599.8 211.6,603.6 203.8,596.1" fill="#62ee6a" opacity="0.8" filter="url(#b1)"/>
<g fill="#86ecd8" opacity="0.9" filter="url(#b05)">
<ellipse cx="203.8" cy="588.5" rx="1.00" ry="1.80" transform="rotate(25 203.8 588.5)"/>
<ellipse cx="207.7" cy="592.3" rx="1.00" ry="1.80" transform="rotate(25 207.7 592.3)"/>
<ellipse cx="208.5" cy="596.8" rx="1.00" ry="1.80" transform="rotate(25 208.5 596.8)"/>
<ellipse cx="208.5" cy="600.6" rx="1.00" ry="1.80" transform="rotate(25 208.5 600.6)"/>
<ellipse cx="212.9" cy="603.6" rx="1.00" ry="1.80" transform="rotate(25 212.9 603.6)"/>
<ellipse cx="205.0" cy="594.2" rx="1.00" ry="1.80" transform="rotate(25 205.0 594.2)"/>
</g>
<g fill="#0c2c11" opacity="0.75" filter="url(#b1)">
<ellipse cx="218.0" cy="608.1" rx="1.70" ry="1.20"/>
<ellipse cx="216.3" cy="611.9" rx="1.70" ry="1.20"/>
<ellipse cx="221.8" cy="615.6" rx="1.70" ry="1.20"/>
<ellipse cx="207.0" cy="605.9" rx="1.70" ry="1.20"/>
<ellipse cx="214.7" cy="617.5" rx="1.70" ry="1.20"/>
</g>
<line x1="190.95" y1="580.25" x2="212.89" y2="626.19" stroke="#f4f4f4" stroke-width="1.15" stroke-dasharray="3 1.3"/>
<line x1="208.96" y1="580.25" x2="229.60" y2="626.19" stroke="#f4f4f4" stroke-width="1.15" stroke-dasharray="3 1.3"/>
<text transform="translate(233.80,588.10)" font-size="6.9" text-anchor="end" font-weight="normal" fill="#ececec" stroke="#ececec" stroke-width="0.3" >15 min</text>
</g>
<clipPath id="mc21"><rect x="28.30" y="620.50" width="51.10" height="37.70"/></clipPath>
<g clip-path="url(#mc21)">
<rect x="28.30" y="620.50" width="51.10" height="37.70" fill="#030a04" />
<polygon points="29.6,618.6 48.6,618.8 83.9,660.2 64.4,663.3" fill="#1d5a22" opacity="0.15400000000000003" filter="url(#b2)"/>
<g fill="#228f2c" opacity="0.6" filter="url(#b2)">
<ellipse cx="55.5" cy="630.2" rx="2.14" ry="1.53"/>
<ellipse cx="56.6" cy="630.6" rx="1.06" ry="0.95"/>
<ellipse cx="56.4" cy="629.7" rx="0.96" ry="0.62"/>
<ellipse cx="56.1" cy="629.5" rx="1.37" ry="0.84"/>
<ellipse cx="57.2" cy="631.5" rx="1.53" ry="1.22"/>
<circle cx="51.5" cy="624.1" r="0.92"/>
<circle cx="42.3" cy="626.2" r="0.76"/>
</g>
<g fill="#3ed146" opacity="0.95" filter="url(#b05)">
<ellipse cx="55.5" cy="630.2" rx="1.43" ry="1.02"/>
<ellipse cx="56.6" cy="630.6" rx="0.71" ry="0.64"/>
<ellipse cx="56.4" cy="629.7" rx="0.64" ry="0.41"/>
<ellipse cx="56.1" cy="629.5" rx="0.91" ry="0.56"/>
<ellipse cx="57.2" cy="631.5" rx="1.02" ry="0.82"/>
<circle cx="51.5" cy="624.1" r="0.61"/>
<circle cx="42.3" cy="626.2" r="0.51"/>
</g>
<g fill="#74f578" opacity="0.55" filter="url(#b05)">
<ellipse cx="55.5" cy="630.2" rx="0.71" ry="0.51"/>
<ellipse cx="57.2" cy="631.5" rx="0.51" ry="0.41"/>
</g>
<line x1="30.47" y1="619.76" x2="65.83" y2="665.18" stroke="#f4f4f4" stroke-width="1.15" stroke-dasharray="3 1.3"/>
<line x1="49.50" y1="619.81" x2="85.38" y2="661.88" stroke="#f4f4f4" stroke-width="1.15" stroke-dasharray="3 1.3"/>
<text transform="translate(76.80,627.60)" font-size="6.9" text-anchor="end" font-weight="normal" fill="#ececec" stroke="#ececec" stroke-width="0.3" >1 min</text>
</g>
<clipPath id="mc22"><rect x="80.50" y="620.50" width="52.40" height="37.70"/></clipPath>
<g clip-path="url(#mc22)">
<rect x="80.50" y="620.50" width="52.40" height="37.70" fill="#030a04" />
<polygon points="81.8,618.6 100.9,618.9 135.1,657.7 117.3,663.3" fill="#1d5a22" opacity="0.15400000000000003" filter="url(#b2)"/>
<g fill="#228f2c" opacity="0.6" filter="url(#b2)">
<ellipse cx="108.5" cy="631.2" rx="3.67" ry="3.06"/>
<ellipse cx="109.8" cy="632.5" rx="1.68" ry="1.93"/>
<ellipse cx="110.3" cy="630.6" rx="1.50" ry="1.36"/>
<ellipse cx="106.8" cy="632.0" rx="1.71" ry="1.80"/>
<ellipse cx="106.9" cy="629.8" rx="2.14" ry="1.83"/>
<ellipse cx="106.1" cy="630.5" rx="1.27" ry="0.80"/>
<ellipse cx="105.8" cy="629.7" rx="1.38" ry="1.06"/>
<ellipse cx="107.9" cy="630.3" rx="0.92" ry="1.03"/>
<circle cx="103.4" cy="624.1" r="1.53"/>
<ellipse cx="120.8" cy="644.5" rx="2.45" ry="1.83"/>
<ellipse cx="119.8" cy="645.2" rx="1.20" ry="0.95"/>
<ellipse cx="119.6" cy="644.0" rx="1.57" ry="0.84"/>
<ellipse cx="119.6" cy="644.1" rx="1.14" ry="0.98"/>
<circle cx="122.8" cy="648.6" r="1.22"/>
<circle cx="116.7" cy="637.4" r="1.22"/>
<circle cx="105.5" cy="644.5" r="1.07"/>
<circle cx="119.7" cy="620.0" r="0.92"/>
</g>
<g fill="#3ed146" opacity="0.95" filter="url(#b05)">
<ellipse cx="108.5" cy="631.2" rx="2.45" ry="2.04"/>
<ellipse cx="109.8" cy="632.5" rx="1.12" ry="1.28"/>
<ellipse cx="110.3" cy="630.6" rx="1.00" ry="0.91"/>
<ellipse cx="106.8" cy="632.0" rx="1.14" ry="1.20"/>
<ellipse cx="106.9" cy="629.8" rx="1.43" ry="1.22"/>
<ellipse cx="106.1" cy="630.5" rx="0.85" ry="0.54"/>
<ellipse cx="105.8" cy="629.7" rx="0.92" ry="0.70"/>
<ellipse cx="107.9" cy="630.3" rx="0.61" ry="0.69"/>
<circle cx="103.4" cy="624.1" r="1.02"/>
<ellipse cx="120.8" cy="644.5" rx="1.63" ry="1.22"/>
<ellipse cx="119.8" cy="645.2" rx="0.80" ry="0.64"/>
<ellipse cx="119.6" cy="644.0" rx="1.05" ry="0.56"/>
<ellipse cx="119.6" cy="644.1" rx="0.76" ry="0.66"/>
<circle cx="122.8" cy="648.6" r="0.82"/>
<circle cx="116.7" cy="637.4" r="0.82"/>
<circle cx="105.5" cy="644.5" r="0.71"/>
<circle cx="119.7" cy="620.0" r="0.61"/>
</g>
<g fill="#74f578" opacity="0.55" filter="url(#b05)">
<ellipse cx="108.5" cy="631.2" rx="1.22" ry="1.02"/>
<ellipse cx="109.8" cy="632.5" rx="0.56" ry="0.64"/>
<circle cx="106.8" cy="632.0" r="0.57"/>
<ellipse cx="106.9" cy="629.8" rx="0.71" ry="0.61"/>
<circle cx="103.4" cy="624.1" r="0.51"/>
<ellipse cx="120.8" cy="644.5" rx="0.82" ry="0.61"/>
<ellipse cx="119.6" cy="644.0" rx="0.52" ry="0.28"/>
</g>
<line x1="82.66" y1="619.76" x2="118.79" y2="665.18" stroke="#f4f4f4" stroke-width="1.15" stroke-dasharray="3 1.3"/>
<line x1="101.72" y1="619.85" x2="136.56" y2="659.34" stroke="#f4f4f4" stroke-width="1.15" stroke-dasharray="3 1.3"/>
<text transform="translate(130.30,627.60)" font-size="6.9" text-anchor="end" font-weight="normal" fill="#ececec" stroke="#ececec" stroke-width="0.3" >5 min</text>
</g>
<clipPath id="mc23"><rect x="133.20" y="620.50" width="51.20" height="37.70"/></clipPath>
<g clip-path="url(#mc23)">
<rect x="133.20" y="620.50" width="51.20" height="37.70" fill="#030904" />
<polygon points="133.8,618.6 153.5,618.8 188.3,658.9 169.4,663.3" fill="#1d5a22" opacity="0.132" filter="url(#b2)"/>
<g fill="#228f2c" opacity="0.6" filter="url(#b2)">
<ellipse cx="160.5" cy="631.2" rx="3.36" ry="3.67"/>
<ellipse cx="160.3" cy="629.3" rx="1.46" ry="1.91"/>
<ellipse cx="160.0" cy="629.4" rx="1.35" ry="2.17"/>
<ellipse cx="159.0" cy="632.2" rx="1.77" ry="2.03"/>
<circle cx="158.9" cy="629.2" r="1.83"/>
<ellipse cx="159.2" cy="628.3" rx="0.76" ry="0.96"/>
<circle cx="159.9" cy="629.4" r="0.91"/>
<ellipse cx="159.9" cy="629.3" rx="0.87" ry="0.94"/>
<circle cx="156.5" cy="625.1" r="1.22"/>
<circle cx="164.6" cy="637.4" r="1.22"/>
<ellipse cx="169.7" cy="642.5" rx="1.53" ry="1.22"/>
<circle cx="173.8" cy="646.5" r="1.53"/>
<circle cx="175.8" cy="649.6" r="1.22"/>
<circle cx="147.3" cy="626.2" r="0.92"/>
<circle cx="144.2" cy="631.2" r="0.76"/>
<circle cx="159.5" cy="638.4" r="0.92"/>
<circle cx="162.6" cy="650.6" r="0.76"/>
<circle cx="171.7" cy="654.7" r="0.92"/>
</g>
<g fill="#3ed146" opacity="0.95" filter="url(#b05)">
<ellipse cx="160.5" cy="631.2" rx="2.24" ry="2.45"/>
<ellipse cx="160.3" cy="629.3" rx="0.97" ry="1.27"/>
<ellipse cx="160.0" cy="629.4" rx="0.90" ry="1.45"/>
<ellipse cx="159.0" cy="632.2" rx="1.18" ry="1.35"/>
<circle cx="158.9" cy="629.2" r="1.22"/>
<ellipse cx="159.2" cy="628.3" rx="0.51" ry="0.64"/>
<circle cx="159.9" cy="629.4" r="0.61"/>
<circle cx="159.9" cy="629.3" r="0.58"/>
<circle cx="156.5" cy="625.1" r="0.82"/>
<circle cx="164.6" cy="637.4" r="0.82"/>
<ellipse cx="169.7" cy="642.5" rx="1.02" ry="0.82"/>
<circle cx="173.8" cy="646.5" r="1.02"/>
<circle cx="175.8" cy="649.6" r="0.82"/>
<circle cx="147.3" cy="626.2" r="0.61"/>
<circle cx="144.2" cy="631.2" r="0.51"/>
<circle cx="159.5" cy="638.4" r="0.61"/>
<circle cx="162.6" cy="650.6" r="0.51"/>
<circle cx="171.7" cy="654.7" r="0.61"/>
</g>
<g fill="#74f578" opacity="0.55" filter="url(#b05)">
<ellipse cx="160.5" cy="631.2" rx="1.12" ry="1.22"/>
<ellipse cx="159.0" cy="632.2" rx="0.59" ry="0.68"/>
<circle cx="158.9" cy="629.2" r="0.61"/>
<ellipse cx="169.7" cy="642.5" rx="0.51" ry="0.41"/>
<circle cx="173.8" cy="646.5" r="0.51"/>
</g>
<line x1="134.72" y1="619.76" x2="170.86" y2="665.18" stroke="#f4f4f4" stroke-width="1.15" stroke-dasharray="3 1.3"/>
<line x1="154.41" y1="619.83" x2="189.77" y2="660.61" stroke="#f4f4f4" stroke-width="1.15" stroke-dasharray="3 1.3"/>
<text transform="translate(181.80,627.60)" font-size="6.9" text-anchor="end" font-weight="normal" fill="#ececec" stroke="#ececec" stroke-width="0.3" >10 min</text>
</g>
<clipPath id="mc24"><rect x="185.60" y="620.50" width="50.80" height="37.70"/></clipPath>
<g clip-path="url(#mc24)">
<rect x="185.60" y="620.50" width="50.80" height="37.70" fill="#030904" />
<polygon points="185.6,618.6 205.8,618.9 240.0,657.7 221.1,663.3" fill="#1d5a22" opacity="0.08800000000000001" filter="url(#b2)"/>
<polygon points="195.7,618.8 200.4,624.0 201.8,627.5 206.3,630.9 207.2,634.6 211.7,637.9 213.0,641.6 217.5,644.9 219.2,648.6 223.3,651.8 230.2,660.6 241.2,657.4 207.0,618.9" fill="#145c1c" opacity="0.9" filter="url(#b2)"/>
<polygon points="197.1,618.8 201.8,623.9 203.1,627.5 207.6,630.8 208.6,634.4 213.0,637.7 214.4,641.4 218.8,644.6 220.6,648.3 224.6,651.5 231.5,660.2 241.2,657.4 207.0,618.9" fill="#23952e" opacity="0.95" filter="url(#b1)"/>
<polygon points="199.7,618.8 204.4,623.9 205.7,627.3 210.2,630.6 211.1,634.2 215.6,637.4 216.9,641.0 221.4,644.2 223.1,647.8 227.1,650.9 234.0,659.5 240.0,657.7 205.8,618.9" fill="#49de51" opacity="0.95" filter="url(#b1)"/>
<g fill="#6cf272" opacity="0.85" filter="url(#b1)">
<ellipse cx="210.4" cy="628.8" rx="2.20" ry="1.60" transform="rotate(40 210.4 628.8)"/>
<ellipse cx="216.5" cy="635.5" rx="2.20" ry="1.60" transform="rotate(40 216.5 635.5)"/>
<ellipse cx="221.8" cy="641.1" rx="2.20" ry="1.60" transform="rotate(40 221.8 641.1)"/>
<ellipse cx="227.3" cy="646.9" rx="2.20" ry="1.60" transform="rotate(40 227.3 646.9)"/>
<ellipse cx="232.2" cy="652.6" rx="2.20" ry="1.60" transform="rotate(40 232.2 652.6)"/>
</g>
<g fill="#86ecd8" opacity="0.9" filter="url(#b05)">
<ellipse cx="215.2" cy="634.5" rx="0.80" ry="1.00"/>
<ellipse cx="228.7" cy="649.0" rx="0.80" ry="1.10"/>
</g>
<g fill="#3fd547" opacity="0.8" filter="url(#b05)">
<ellipse cx="193.0" cy="624.2" rx="0.90" ry="0.70"/>
<circle cx="214.1" cy="647.5" r="0.60"/>
</g>
<line x1="186.49" y1="619.76" x2="222.62" y2="665.18" stroke="#f4f4f4" stroke-width="1.15" stroke-dasharray="3 1.3"/>
<line x1="206.61" y1="619.85" x2="241.45" y2="659.34" stroke="#f4f4f4" stroke-width="1.15" stroke-dasharray="3 1.3"/>
<text transform="translate(233.80,627.60)" font-size="6.9" text-anchor="end" font-weight="normal" fill="#ececec" stroke="#ececec" stroke-width="0.3" >15 min</text>
</g>
<text transform="translate(25.50,561.30) rotate(-90)" font-size="7.05" text-anchor="middle" font-weight="normal" fill="#231f20" stroke="#231f20" stroke-width="0.24" >ApoE<tspan font-size="6.4" dy="-2.7">−/−</tspan></text>
<text transform="translate(16.00,600.00) rotate(-90)" font-size="7.05" text-anchor="middle" font-weight="normal" fill="#231f20" stroke="#231f20" stroke-width="0.24" >ApoE<tspan font-size="6.4" dy="-2.7">−/−</tspan></text>
<text transform="translate(25.10,600.20) rotate(-90)" font-size="7.4" text-anchor="middle" font-weight="normal" fill="#231f20" stroke="#231f20" stroke-width="0.24" >+HHcy</text>
<text transform="translate(16.00,639.70) rotate(-90)" font-size="7.05" text-anchor="middle" font-weight="normal" fill="#231f20" stroke="#231f20" stroke-width="0.24" >ApoE<tspan font-size="6.4" dy="-2.7">−/−</tspan></text>
<text transform="translate(25.10,639.90) rotate(-90)" font-size="7.35" text-anchor="middle" font-weight="normal" fill="#231f20" stroke="#231f20" stroke-width="0.24" >HHcy+mP6</text>
<text transform="translate(6.70,387.00)" font-size="7.3" text-anchor="start" font-weight="normal" fill="#231f20" stroke="#231f20" stroke-width="0.24" >Thrombin</text>
<line x1="11.50" y1="393.80" x2="11.50" y2="397.50" stroke="#111" stroke-width="1.3" />
<polygon points="9.0,396.2 14.0,396.2 11.5,401.0" fill="#111"/>
<line x1="16.00" y1="395.60" x2="16.00" y2="411.20" stroke="#e07a86" stroke-width="1.1" />
<path d="M13.75,411.00 L14.75,411.00 L15.75,411.00 L16.12,412.25 L16.50,413.50 L17.00,412.38 L17.50,411.57 L17.83,410.48 L18.17,408.77 L18.50,407.71 L19.50,407.23 L20.50,408.17 L20.81,409.12 L21.12,409.87 L21.44,411.07 L21.75,412.07 L22.00,413.02 L22.25,413.69 L22.50,414.84 L22.75,415.78 L23.00,416.98 L23.25,418.13 L23.50,419.06 L23.75,419.75 L24.00,420.64 L24.25,421.48 L24.50,422.28 L24.75,423.24 L25.00,424.51 L25.25,425.37 L25.44,426.33 L25.64,427.61 L25.83,428.27 L26.03,429.21 L26.22,429.90 L26.42,430.67 L26.61,431.79 L26.81,432.58 L27.00,433.76 L27.20,435.00 L27.40,435.67 L27.60,436.23 L27.80,437.63 L28.00,438.46 L28.20,439.31 L28.40,440.33 L28.60,441.13 L28.80,442.05 L29.00,442.65 L29.20,444.01 L29.40,444.92 L29.60,445.29 L29.80,446.63 L30.00,447.53 L30.20,448.27 L30.40,449.25 L30.60,450.14 L30.80,451.37 L31.00,452.00 L31.23,453.11 L31.46,453.65 L31.69,454.89 L31.92,455.78 L32.15,456.35 L32.38,457.30 L32.60,458.42 L32.83,459.16 L33.06,459.87 L33.29,460.56 L33.52,461.50 L33.75,462.64 L34.09,463.18 L34.43,464.60 L34.77,465.06 L35.11,466.42 L35.45,466.91 L35.80,468.27 L36.14,469.01 L36.48,469.78 L36.82,470.69 L37.16,471.70 L37.50,472.56 L38.00,473.19 L38.50,473.95 L39.00,474.98 L39.50,476.10 L40.00,476.71 L40.50,477.15 L41.00,478.50 L41.50,479.26 L42.00,480.21 L42.50,480.53 L43.21,481.64 L43.93,481.87 L44.64,483.00 L45.36,483.45 L46.07,484.13 L46.79,485.30 L47.50,485.47 L48.33,486.27 L49.17,487.00 L50.00,487.07 L50.83,487.55 L51.67,488.52 L52.50,488.70 L53.33,489.32 L54.17,489.26 L55.00,489.90 L55.83,490.19 L56.67,490.95 L57.50,490.96 L58.33,491.93 L59.17,491.64 L60.00,492.49 L60.83,492.36 L61.67,492.88 L62.50,493.64 L63.33,493.54 L64.17,493.92 L65.00,494.63 L65.91,494.65 L66.82,494.63 L67.73,495.52 L68.64,495.17 L69.55,495.31 L70.45,495.75 L71.36,496.17 L72.27,496.49 L73.18,496.27 L74.09,496.66 L75.00,496.67 L75.89,497.11 L76.79,497.47 L77.68,497.60 L78.57,497.85 L79.46,497.89 L80.36,498.11 L81.25,498.14 L82.14,498.12 L83.04,498.09 L83.93,498.54 L84.82,498.44 L85.71,498.44 L86.61,498.82 L87.50,499.26 L88.42,498.82 L89.33,499.23 L90.25,499.18 L91.17,499.34 L92.08,499.17 L93.00,499.82 L93.92,499.41 L94.83,499.74 L95.75,499.69 L96.67,499.50 L97.58,499.96 L98.50,499.75 L99.42,499.77 L100.33,499.84 L101.25,500.25" fill="none" stroke="#6a2c91" stroke-width="0.95" stroke-linejoin="round"/>
<path d="M13.75,411.00 L14.75,411.00 L15.75,411.00 L16.12,412.25 L16.50,413.50 L17.00,412.38 L17.50,411.07 L17.88,410.34 L18.25,409.28 L18.62,408.51 L19.00,407.59 L19.94,406.32 L20.88,405.41 L21.69,406.86 L22.50,407.33 L22.85,408.21 L23.20,409.65 L23.55,410.18 L23.90,411.34 L24.25,411.98 L24.50,413.06 L24.75,413.68 L25.00,414.99 L25.25,416.11 L25.50,416.84 L25.75,417.95 L26.00,418.87 L26.29,419.41 L26.57,420.86 L26.86,421.71 L27.14,422.47 L27.43,423.24 L27.71,424.79 L28.00,425.48 L28.23,426.55 L28.45,427.57 L28.68,428.35 L28.90,429.39 L29.12,429.93 L29.35,431.11 L29.57,431.76 L29.80,433.00 L30.02,433.87 L30.25,434.22 L30.51,435.17 L30.77,436.15 L31.04,437.60 L31.30,438.16 L31.56,439.21 L31.82,439.91 L32.09,440.98 L32.35,441.82 L32.61,442.72 L32.88,443.81 L33.14,444.73 L33.40,445.88 L33.66,446.65 L33.92,447.75 L34.19,448.62 L34.45,449.64 L34.71,450.34 L34.98,450.91 L35.24,452.33 L35.50,453.33 L35.92,454.24 L36.33,454.97 L36.75,456.02 L37.17,456.63 L37.58,458.02 L38.00,458.80 L38.46,459.42 L38.93,460.09 L39.39,461.46 L39.86,462.38 L40.32,462.57 L40.79,463.89 L41.25,464.44 L41.79,465.04 L42.32,465.93 L42.86,467.05 L43.39,467.90 L43.93,468.11 L44.46,469.29 L45.00,469.68 L45.71,470.72 L46.43,471.02 L47.14,471.98 L47.86,472.62 L48.57,472.86 L49.29,473.78 L50.00,473.87 L51.00,474.05 L52.00,474.77 L53.00,474.72 L54.00,475.19 L55.00,475.69 L56.00,475.98 L57.00,475.81 L58.00,475.88 L59.00,476.61 L60.00,476.37 L60.94,476.82 L61.88,476.78 L62.81,476.41 L63.75,476.47 L64.69,476.51 L65.62,476.60 L66.56,476.57 L67.50,476.54 L68.44,476.55 L69.38,476.75 L70.31,476.41 L71.25,476.33 L72.19,476.50 L73.12,476.13 L74.06,476.14 L75.00,476.58 L75.25,475.31 L75.50,474.38 L75.75,473.06 L76.00,472.39 L76.25,471.56 L77.14,471.02 L78.04,471.30 L78.93,471.16 L79.82,470.62 L80.71,470.87 L81.61,470.62 L82.50,470.63 L83.33,469.98 L84.17,469.81 L85.00,469.42 L85.83,468.50 L86.67,468.11 L87.50,468.12 L88.33,467.82 L89.17,466.83 L90.00,466.47 L90.83,466.06 L91.67,465.37 L92.50,464.90 L93.44,464.68 L94.38,464.53 L95.31,464.50 L96.25,464.11 L97.25,463.96 L98.25,464.04 L99.25,463.32 L100.25,463.50 L101.25,463.25" fill="none" stroke="#3bb54a" stroke-width="0.95" stroke-linejoin="round"/>
<path d="M13.75,409.00 L15.50,409.00 L15.62,410.00 L15.75,411.00 L16.12,412.00 L16.50,412.84 L16.67,411.85 L16.83,411.10 L17.00,410.04 L17.17,409.07 L17.33,408.36 L17.50,407.75 L17.67,406.71 L17.83,405.71 L18.00,404.42 L18.17,403.63 L18.33,402.50 L18.50,401.47 L18.67,400.46 L18.83,399.55 L19.00,399.01 L19.47,398.13 L19.94,397.31 L20.41,396.49 L20.88,395.32 L21.58,396.05 L22.29,396.91 L23.00,397.64 L23.34,398.56 L23.69,399.42 L24.03,399.78 L24.38,400.94 L24.72,401.82 L25.06,402.57 L25.41,403.21 L25.75,404.23 L26.07,404.93 L26.39,406.37 L26.71,407.26 L27.04,407.99 L27.36,408.77 L27.68,410.07 L28.00,410.79 L28.29,411.84 L28.57,412.67 L28.86,413.33 L29.14,414.13 L29.43,415.10 L29.71,415.85 L30.00,416.55 L30.22,417.55 L30.44,418.77 L30.67,419.23 L30.89,420.14 L31.11,421.41 L31.33,422.12 L31.56,423.19 L31.78,424.07 L32.00,424.91 L32.19,426.19 L32.39,426.60 L32.58,427.61 L32.78,428.38 L32.97,429.52 L33.17,430.20 L33.36,431.14 L33.56,432.26 L33.75,432.89 L34.00,433.99 L34.25,435.16 L34.50,435.64 L34.75,436.57 L35.00,437.63 L35.25,438.91 L35.50,439.78 L35.75,440.51 L36.00,441.52 L36.25,442.39 L36.50,443.52 L36.75,444.23 L37.12,445.54 L37.50,446.57 L37.88,447.52 L38.25,448.31 L38.62,449.36 L39.00,449.71 L39.45,450.77 L39.90,452.08 L40.35,452.87 L40.80,453.55 L41.25,454.77 L41.88,455.41 L42.50,456.36 L43.12,456.88 L43.75,457.65 L44.38,458.63 L45.00,459.28 L45.75,460.03 L46.50,460.98 L47.25,461.20 L48.00,461.61 L48.75,462.23 L49.75,462.68 L50.75,463.42 L51.50,462.50 L52.25,461.79 L53.00,461.01 L53.38,460.60 L53.75,459.33 L54.12,458.26 L54.50,457.24 L54.75,456.34 L55.00,455.52 L55.25,454.93 L55.50,453.72 L55.75,452.76 L56.00,452.14 L56.25,451.10 L56.61,450.66 L56.96,449.24 L57.32,448.59 L57.68,447.84 L58.04,446.73 L58.39,446.19 L58.75,444.99 L59.38,444.01 L60.00,443.28 L60.62,442.22 L61.25,441.62 L61.88,440.68 L62.50,440.23 L63.33,439.57 L64.17,438.75 L65.00,437.84 L65.83,437.35 L66.67,436.72 L67.50,436.07 L68.33,435.62 L69.17,435.53 L70.00,434.62 L70.83,434.09 L71.67,434.15 L72.50,433.46 L73.33,433.24 L74.17,432.41 L75.00,432.24 L75.89,431.70 L76.79,431.39 L77.68,430.97 L78.57,430.43 L79.46,429.79 L80.36,429.47 L81.25,429.47 L82.19,429.18 L83.12,428.88 L84.06,428.21 L85.00,428.09 L85.62,427.30 L86.25,426.34 L87.25,426.09 L88.25,425.57 L89.25,425.29 L90.25,424.96 L91.25,424.36 L92.25,424.45 L93.25,424.17 L94.25,423.34 L95.25,423.58 L96.25,423.28 L97.19,422.85 L98.12,422.23 L99.06,422.49 L100.00,422.00" fill="none" stroke="#15508a" stroke-width="0.95" stroke-linejoin="round"/>
<path d="M13.75,411.00 L14.75,411.00 L15.75,411.00 L16.12,412.00 L16.50,413.00 L16.75,411.94 L17.00,410.88 L17.25,409.81 L17.50,408.80 L17.69,407.91 L17.88,406.99 L18.06,406.11 L18.25,405.10 L18.44,404.23 L18.62,402.94 L18.81,402.17 L19.00,401.43 L19.50,400.23 L20.00,399.24 L20.50,397.85 L21.38,397.74 L22.25,397.40 L22.92,398.18 L23.58,398.86 L24.25,399.31 L24.81,400.26 L25.38,401.16 L25.94,402.29 L26.50,403.11 L27.00,403.66 L27.50,404.72 L28.00,405.26 L28.50,406.25 L29.00,406.85 L29.36,407.66 L29.71,408.86 L30.07,409.46 L30.43,410.31 L30.79,411.48 L31.14,412.29 L31.50,412.92 L31.86,414.11 L32.21,414.87 L32.57,415.86 L32.93,416.60 L33.29,417.82 L33.64,418.65 L34.00,419.69 L34.34,420.50 L34.69,421.11 L35.03,421.98 L35.38,422.74 L35.72,423.58 L36.06,424.39 L36.41,425.33 L36.75,426.29 L37.17,426.93 L37.58,428.07 L38.00,428.81 L38.42,429.67 L38.83,430.75 L39.25,431.49 L39.70,432.33 L40.15,433.29 L40.60,434.28 L41.05,434.92 L41.50,436.19 L42.25,436.43 L43.00,437.35 L44.50,437.89 L45.62,436.93 L46.75,436.62 L47.58,435.95 L48.42,435.53 L49.25,434.80 L49.94,434.13 L50.62,433.50 L51.31,433.12 L52.00,432.13 L52.75,431.60 L53.50,430.92 L54.25,430.18 L55.00,429.19 L55.83,428.78 L56.67,428.43 L57.50,428.11 L58.33,427.43 L59.17,427.27 L60.00,426.87 L60.94,426.55 L61.88,425.88 L62.81,425.90 L63.75,425.21 L64.69,424.97 L65.62,424.73 L66.56,424.51 L67.50,423.94 L68.41,423.87 L69.32,423.43 L70.23,423.04 L71.14,422.74 L72.05,422.39 L72.95,422.06 L73.86,421.79 L74.77,421.71 L75.68,421.54 L76.59,420.91 L77.50,420.57 L78.41,420.76 L79.32,420.40 L80.23,420.17 L81.14,419.92 L82.05,419.88 L82.95,419.79 L83.86,419.46 L84.77,419.26 L85.68,418.94 L86.59,419.10 L87.50,418.56 L88.44,418.56 L89.38,418.51 L90.31,418.04 L91.25,418.09 L92.19,417.99 L93.12,417.68 L94.06,417.55 L95.00,417.09 L96.00,417.02 L97.00,416.71 L98.00,416.79 L99.00,416.37 L100.00,416.25" fill="none" stroke="#d4213d" stroke-width="0.95" stroke-linejoin="round"/>
<text transform="translate(105.00,413.60)" font-size="7.3" text-anchor="start" font-weight="normal" fill="#231f20" stroke="#231f20" stroke-width="0.24" >mP6</text>
<text transform="translate(105.00,430.10)" font-size="7.3" text-anchor="start" font-weight="normal" fill="#231f20" stroke="#231f20" stroke-width="0.24" >Hcy+mP6</text>
<text transform="translate(105.00,468.30)" font-size="7.3" text-anchor="start" font-weight="normal" fill="#231f20" stroke="#231f20" stroke-width="0.24" >Ctrl</text>
<text transform="translate(105.00,497.60)" font-size="7.3" text-anchor="start" font-weight="normal" fill="#231f20" stroke="#231f20" stroke-width="0.24" >Hcy</text>
<rect x="0.5" y="0.5" width="519" height="677" fill="none" stroke="#1a1a1a" stroke-width="1.2"/>
</svg></body></html>
